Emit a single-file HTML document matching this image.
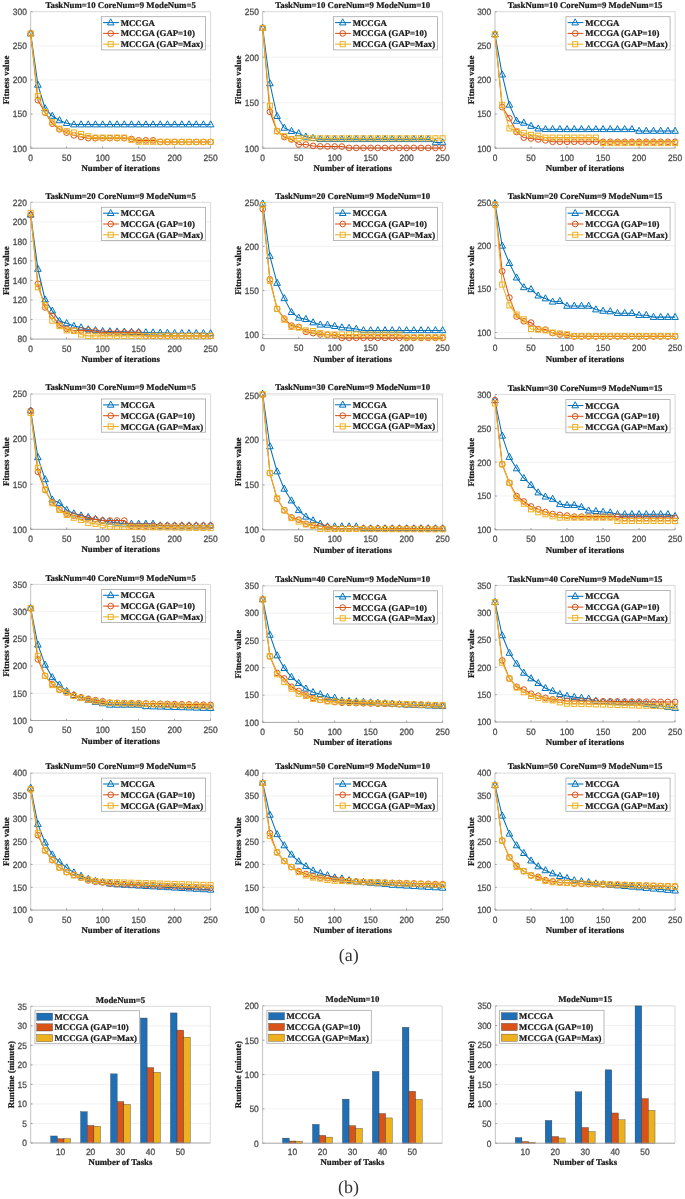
<!DOCTYPE html>
<html><head><meta charset="utf-8"><style>
html,body{margin:0;padding:0;background:#fff;width:685px;height:1199px;overflow:hidden}
svg{display:block;will-change:transform;filter:blur(0.35px)}
.tk{text-rendering:geometricPrecision;font-family:'Liberation Sans', sans-serif;font-size:9.2px;fill:#4d4d4d;stroke:#4d4d4d;stroke-width:0.3px}
.lb{text-rendering:geometricPrecision;font-family:'Liberation Serif', serif;font-weight:bold;font-size:8.8px;fill:#1a1a1a;stroke:#1a1a1a;stroke-width:0.22px}
.cap{text-rendering:geometricPrecision;font-family:'Liberation Serif', serif;font-size:18px;fill:#333}
</style></head><body>
<svg width="685" height="1199" viewBox="0 0 685 1199">
<rect width="685" height="1199" fill="#fff"/>
<line x1="30.7" y1="114.07" x2="210.6" y2="114.07" stroke="#eeeeee" stroke-width="0.8"/>
<line x1="30.7" y1="79.95" x2="210.6" y2="79.95" stroke="#eeeeee" stroke-width="0.8"/>
<line x1="30.7" y1="45.82" x2="210.6" y2="45.82" stroke="#eeeeee" stroke-width="0.8"/>
<path d="M30.7 11.7H210.6V148.2" fill="none" stroke="#cfcfcf" stroke-width="0.8"/>
<path d="M30.7 11.7V148.2" fill="none" stroke="#bcbcbc" stroke-width="0.9"/>
<path d="M30.7 148.2H210.6" fill="none" stroke="#9c9c9c" stroke-width="0.9"/>
<line x1="30.7" y1="148.2" x2="32.5" y2="148.2" stroke="#8a8a8a" stroke-width="0.8"/>
<text x="12.86" y="151.5" textLength="14.04" lengthAdjust="spacingAndGlyphs" class="tk">100</text>
<line x1="30.7" y1="114.07" x2="32.5" y2="114.07" stroke="#8a8a8a" stroke-width="0.8"/>
<text x="12.86" y="117.37" textLength="14.04" lengthAdjust="spacingAndGlyphs" class="tk">150</text>
<line x1="30.7" y1="79.95" x2="32.5" y2="79.95" stroke="#8a8a8a" stroke-width="0.8"/>
<text x="12.86" y="83.25" textLength="14.04" lengthAdjust="spacingAndGlyphs" class="tk">200</text>
<line x1="30.7" y1="45.82" x2="32.5" y2="45.82" stroke="#8a8a8a" stroke-width="0.8"/>
<text x="12.86" y="49.12" textLength="14.04" lengthAdjust="spacingAndGlyphs" class="tk">250</text>
<line x1="30.7" y1="11.7" x2="32.5" y2="11.7" stroke="#8a8a8a" stroke-width="0.8"/>
<text x="12.86" y="15" textLength="14.04" lengthAdjust="spacingAndGlyphs" class="tk">300</text>
<line x1="30.7" y1="148.2" x2="30.7" y2="146.4" stroke="#8a8a8a" stroke-width="0.8"/>
<text x="28.36" y="160.7" textLength="4.68" lengthAdjust="spacingAndGlyphs" class="tk">0</text>
<line x1="66.68" y1="148.2" x2="66.68" y2="146.4" stroke="#8a8a8a" stroke-width="0.8"/>
<text x="62" y="160.7" textLength="9.36" lengthAdjust="spacingAndGlyphs" class="tk">50</text>
<line x1="102.66" y1="148.2" x2="102.66" y2="146.4" stroke="#8a8a8a" stroke-width="0.8"/>
<text x="95.64" y="160.7" textLength="14.04" lengthAdjust="spacingAndGlyphs" class="tk">100</text>
<line x1="138.64" y1="148.2" x2="138.64" y2="146.4" stroke="#8a8a8a" stroke-width="0.8"/>
<text x="131.62" y="160.7" textLength="14.04" lengthAdjust="spacingAndGlyphs" class="tk">150</text>
<line x1="174.62" y1="148.2" x2="174.62" y2="146.4" stroke="#8a8a8a" stroke-width="0.8"/>
<text x="167.6" y="160.7" textLength="14.04" lengthAdjust="spacingAndGlyphs" class="tk">200</text>
<line x1="210.6" y1="148.2" x2="210.6" y2="146.4" stroke="#8a8a8a" stroke-width="0.8"/>
<text x="203.58" y="160.7" textLength="14.04" lengthAdjust="spacingAndGlyphs" class="tk">250</text>
<polyline points="30.7,33.54 37.9,84.93 45.09,108.48 52.29,115.99 59.48,120.42 66.68,123.22 73.88,124.59 81.07,124.59 88.27,124.59 95.46,124.59 102.66,124.59 109.86,124.59 117.05,124.59 124.25,124.59 131.44,124.59 138.64,124.59 145.84,124.59 153.03,124.59 160.23,124.59 167.42,124.59 174.62,124.59 181.82,124.59 189.01,124.59 196.21,124.59 203.4,124.59 210.6,124.59" fill="none" stroke="#0072BD" stroke-width="1.05"/>
<path d="M30.7 29.77L34 35.85L27.4 35.85Z" fill="none" stroke="#0072BD" stroke-width="1"/>
<path d="M37.9 81.16L41.2 87.24L34.59 87.24Z" fill="none" stroke="#0072BD" stroke-width="1"/>
<path d="M45.09 104.71L48.4 110.79L41.79 110.79Z" fill="none" stroke="#0072BD" stroke-width="1"/>
<path d="M52.29 112.22L55.59 118.3L48.98 118.3Z" fill="none" stroke="#0072BD" stroke-width="1"/>
<path d="M59.48 116.65L62.79 122.73L56.18 122.73Z" fill="none" stroke="#0072BD" stroke-width="1"/>
<path d="M66.68 119.45L69.98 125.53L63.38 125.53Z" fill="none" stroke="#0072BD" stroke-width="1"/>
<path d="M73.88 120.82L77.18 126.9L70.57 126.9Z" fill="none" stroke="#0072BD" stroke-width="1"/>
<path d="M81.07 120.82L84.38 126.9L77.77 126.9Z" fill="none" stroke="#0072BD" stroke-width="1"/>
<path d="M88.27 120.82L91.57 126.9L84.96 126.9Z" fill="none" stroke="#0072BD" stroke-width="1"/>
<path d="M95.46 120.82L98.77 126.9L92.16 126.9Z" fill="none" stroke="#0072BD" stroke-width="1"/>
<path d="M102.66 120.82L105.96 126.9L99.36 126.9Z" fill="none" stroke="#0072BD" stroke-width="1"/>
<path d="M109.86 120.82L113.16 126.9L106.55 126.9Z" fill="none" stroke="#0072BD" stroke-width="1"/>
<path d="M117.05 120.82L120.36 126.9L113.75 126.9Z" fill="none" stroke="#0072BD" stroke-width="1"/>
<path d="M124.25 120.82L127.55 126.9L120.94 126.9Z" fill="none" stroke="#0072BD" stroke-width="1"/>
<path d="M131.44 120.82L134.75 126.9L128.14 126.9Z" fill="none" stroke="#0072BD" stroke-width="1"/>
<path d="M138.64 120.82L141.94 126.9L135.34 126.9Z" fill="none" stroke="#0072BD" stroke-width="1"/>
<path d="M145.84 120.82L149.14 126.9L142.53 126.9Z" fill="none" stroke="#0072BD" stroke-width="1"/>
<path d="M153.03 120.82L156.34 126.9L149.73 126.9Z" fill="none" stroke="#0072BD" stroke-width="1"/>
<path d="M160.23 120.82L163.53 126.9L156.92 126.9Z" fill="none" stroke="#0072BD" stroke-width="1"/>
<path d="M167.42 120.82L170.73 126.9L164.12 126.9Z" fill="none" stroke="#0072BD" stroke-width="1"/>
<path d="M174.62 120.82L177.92 126.9L171.32 126.9Z" fill="none" stroke="#0072BD" stroke-width="1"/>
<path d="M181.82 120.82L185.12 126.9L178.51 126.9Z" fill="none" stroke="#0072BD" stroke-width="1"/>
<path d="M189.01 120.82L192.32 126.9L185.71 126.9Z" fill="none" stroke="#0072BD" stroke-width="1"/>
<path d="M196.21 120.82L199.51 126.9L192.9 126.9Z" fill="none" stroke="#0072BD" stroke-width="1"/>
<path d="M203.4 120.82L206.71 126.9L200.1 126.9Z" fill="none" stroke="#0072BD" stroke-width="1"/>
<path d="M210.6 120.82L213.9 126.9L207.3 126.9Z" fill="none" stroke="#0072BD" stroke-width="1"/>
<polyline points="30.7,33.54 37.9,100.22 45.09,112.57 52.29,123.7 59.48,129.29 66.68,132.64 73.88,135.37 81.07,137.01 88.27,138.17 95.46,138.17 102.66,138.17 109.86,138.17 117.05,138.17 124.25,138.17 131.44,138.99 138.64,140.35 145.84,140.35 153.03,140.35 160.23,141.99 167.42,141.99 174.62,141.99 181.82,141.99 189.01,141.99 196.21,141.99 203.4,141.99 210.6,141.99" fill="none" stroke="#D95319" stroke-width="1.05"/>
<circle cx="30.7" cy="33.54" r="2.85" fill="none" stroke="#D95319" stroke-width="1"/>
<circle cx="37.9" cy="100.22" r="2.85" fill="none" stroke="#D95319" stroke-width="1"/>
<circle cx="45.09" cy="112.57" r="2.85" fill="none" stroke="#D95319" stroke-width="1"/>
<circle cx="52.29" cy="123.7" r="2.85" fill="none" stroke="#D95319" stroke-width="1"/>
<circle cx="59.48" cy="129.29" r="2.85" fill="none" stroke="#D95319" stroke-width="1"/>
<circle cx="66.68" cy="132.64" r="2.85" fill="none" stroke="#D95319" stroke-width="1"/>
<circle cx="73.88" cy="135.37" r="2.85" fill="none" stroke="#D95319" stroke-width="1"/>
<circle cx="81.07" cy="137.01" r="2.85" fill="none" stroke="#D95319" stroke-width="1"/>
<circle cx="88.27" cy="138.17" r="2.85" fill="none" stroke="#D95319" stroke-width="1"/>
<circle cx="95.46" cy="138.17" r="2.85" fill="none" stroke="#D95319" stroke-width="1"/>
<circle cx="102.66" cy="138.17" r="2.85" fill="none" stroke="#D95319" stroke-width="1"/>
<circle cx="109.86" cy="138.17" r="2.85" fill="none" stroke="#D95319" stroke-width="1"/>
<circle cx="117.05" cy="138.17" r="2.85" fill="none" stroke="#D95319" stroke-width="1"/>
<circle cx="124.25" cy="138.17" r="2.85" fill="none" stroke="#D95319" stroke-width="1"/>
<circle cx="131.44" cy="138.99" r="2.85" fill="none" stroke="#D95319" stroke-width="1"/>
<circle cx="138.64" cy="140.35" r="2.85" fill="none" stroke="#D95319" stroke-width="1"/>
<circle cx="145.84" cy="140.35" r="2.85" fill="none" stroke="#D95319" stroke-width="1"/>
<circle cx="153.03" cy="140.35" r="2.85" fill="none" stroke="#D95319" stroke-width="1"/>
<circle cx="160.23" cy="141.99" r="2.85" fill="none" stroke="#D95319" stroke-width="1"/>
<circle cx="167.42" cy="141.99" r="2.85" fill="none" stroke="#D95319" stroke-width="1"/>
<circle cx="174.62" cy="141.99" r="2.85" fill="none" stroke="#D95319" stroke-width="1"/>
<circle cx="181.82" cy="141.99" r="2.85" fill="none" stroke="#D95319" stroke-width="1"/>
<circle cx="189.01" cy="141.99" r="2.85" fill="none" stroke="#D95319" stroke-width="1"/>
<circle cx="196.21" cy="141.99" r="2.85" fill="none" stroke="#D95319" stroke-width="1"/>
<circle cx="203.4" cy="141.99" r="2.85" fill="none" stroke="#D95319" stroke-width="1"/>
<circle cx="210.6" cy="141.99" r="2.85" fill="none" stroke="#D95319" stroke-width="1"/>
<polyline points="30.7,33.54 37.9,95.99 45.09,112.1 52.29,122.26 59.48,128.68 66.68,131.21 73.88,132.57 81.07,134 88.27,136.19 95.46,137.62 102.66,137.62 109.86,137.62 117.05,137.62 124.25,137.62 131.44,139.81 138.64,141.72 145.84,141.74 153.03,141.77 160.23,141.8 167.42,141.83 174.62,141.85 181.82,141.88 189.01,141.91 196.21,141.93 203.4,141.96 210.6,141.99" fill="none" stroke="#EDB120" stroke-width="1.05"/>
<rect x="28.16" y="31" width="5.07" height="5.07" fill="none" stroke="#EDB120" stroke-width="1"/>
<rect x="35.36" y="93.45" width="5.07" height="5.07" fill="none" stroke="#EDB120" stroke-width="1"/>
<rect x="42.55" y="109.56" width="5.07" height="5.07" fill="none" stroke="#EDB120" stroke-width="1"/>
<rect x="49.75" y="119.73" width="5.07" height="5.07" fill="none" stroke="#EDB120" stroke-width="1"/>
<rect x="56.95" y="126.14" width="5.07" height="5.07" fill="none" stroke="#EDB120" stroke-width="1"/>
<rect x="64.14" y="128.67" width="5.07" height="5.07" fill="none" stroke="#EDB120" stroke-width="1"/>
<rect x="71.34" y="130.03" width="5.07" height="5.07" fill="none" stroke="#EDB120" stroke-width="1"/>
<rect x="78.53" y="131.47" width="5.07" height="5.07" fill="none" stroke="#EDB120" stroke-width="1"/>
<rect x="85.73" y="133.65" width="5.07" height="5.07" fill="none" stroke="#EDB120" stroke-width="1"/>
<rect x="92.93" y="135.08" width="5.07" height="5.07" fill="none" stroke="#EDB120" stroke-width="1"/>
<rect x="100.12" y="135.08" width="5.07" height="5.07" fill="none" stroke="#EDB120" stroke-width="1"/>
<rect x="107.32" y="135.08" width="5.07" height="5.07" fill="none" stroke="#EDB120" stroke-width="1"/>
<rect x="114.52" y="135.08" width="5.07" height="5.07" fill="none" stroke="#EDB120" stroke-width="1"/>
<rect x="121.71" y="135.08" width="5.07" height="5.07" fill="none" stroke="#EDB120" stroke-width="1"/>
<rect x="128.91" y="137.27" width="5.07" height="5.07" fill="none" stroke="#EDB120" stroke-width="1"/>
<rect x="136.1" y="139.18" width="5.07" height="5.07" fill="none" stroke="#EDB120" stroke-width="1"/>
<rect x="143.3" y="139.21" width="5.07" height="5.07" fill="none" stroke="#EDB120" stroke-width="1"/>
<rect x="150.5" y="139.23" width="5.07" height="5.07" fill="none" stroke="#EDB120" stroke-width="1"/>
<rect x="157.69" y="139.26" width="5.07" height="5.07" fill="none" stroke="#EDB120" stroke-width="1"/>
<rect x="164.89" y="139.29" width="5.07" height="5.07" fill="none" stroke="#EDB120" stroke-width="1"/>
<rect x="172.08" y="139.32" width="5.07" height="5.07" fill="none" stroke="#EDB120" stroke-width="1"/>
<rect x="179.28" y="139.34" width="5.07" height="5.07" fill="none" stroke="#EDB120" stroke-width="1"/>
<rect x="186.47" y="139.37" width="5.07" height="5.07" fill="none" stroke="#EDB120" stroke-width="1"/>
<rect x="193.67" y="139.4" width="5.07" height="5.07" fill="none" stroke="#EDB120" stroke-width="1"/>
<rect x="200.87" y="139.42" width="5.07" height="5.07" fill="none" stroke="#EDB120" stroke-width="1"/>
<rect x="208.06" y="139.45" width="5.07" height="5.07" fill="none" stroke="#EDB120" stroke-width="1"/>
<text x="120.65" y="7.9" text-anchor="middle" class="lb">TaskNum=10 CoreNum=9 ModeNum=5</text>
<text x="120.65" y="171.2" text-anchor="middle" class="lb">Number of iterations</text>
<text transform="translate(9.3,79.95) rotate(-90)" text-anchor="middle" class="lb">Fitness value</text>
<rect x="101.4" y="16.7" width="104.2" height="33.2" fill="#fff" stroke="#a8a8a8" stroke-width="0.8"/>
<line x1="103.1" y1="22.6" x2="118.9" y2="22.6" stroke="#0072BD" stroke-width="1.05"/>
<path d="M110.7 18.83L114 24.91L107.4 24.91Z" fill="none" stroke="#0072BD" stroke-width="1"/>
<text x="120.7" y="25.6" class="lb">MCCGA</text>
<line x1="103.1" y1="33.4" x2="118.9" y2="33.4" stroke="#D95319" stroke-width="1.05"/>
<circle cx="110.7" cy="33.4" r="2.85" fill="none" stroke="#D95319" stroke-width="1"/>
<text x="120.7" y="36.4" class="lb">MCCGA (GAP=10)</text>
<line x1="103.1" y1="44.2" x2="118.9" y2="44.2" stroke="#EDB120" stroke-width="1.05"/>
<rect x="108.16" y="41.66" width="5.07" height="5.07" fill="none" stroke="#EDB120" stroke-width="1"/>
<text x="120.7" y="47.2" class="lb">MCCGA (GAP=Max)</text>
<line x1="262.7" y1="102.7" x2="442.6" y2="102.7" stroke="#eeeeee" stroke-width="0.8"/>
<line x1="262.7" y1="57.2" x2="442.6" y2="57.2" stroke="#eeeeee" stroke-width="0.8"/>
<path d="M262.7 11.7H442.6V148.2" fill="none" stroke="#cfcfcf" stroke-width="0.8"/>
<path d="M262.7 11.7V148.2" fill="none" stroke="#bcbcbc" stroke-width="0.9"/>
<path d="M262.7 148.2H442.6" fill="none" stroke="#9c9c9c" stroke-width="0.9"/>
<line x1="262.7" y1="148.2" x2="264.5" y2="148.2" stroke="#8a8a8a" stroke-width="0.8"/>
<text x="244.86" y="151.5" textLength="14.04" lengthAdjust="spacingAndGlyphs" class="tk">100</text>
<line x1="262.7" y1="102.7" x2="264.5" y2="102.7" stroke="#8a8a8a" stroke-width="0.8"/>
<text x="244.86" y="106" textLength="14.04" lengthAdjust="spacingAndGlyphs" class="tk">150</text>
<line x1="262.7" y1="57.2" x2="264.5" y2="57.2" stroke="#8a8a8a" stroke-width="0.8"/>
<text x="244.86" y="60.5" textLength="14.04" lengthAdjust="spacingAndGlyphs" class="tk">200</text>
<line x1="262.7" y1="11.7" x2="264.5" y2="11.7" stroke="#8a8a8a" stroke-width="0.8"/>
<text x="244.86" y="15" textLength="14.04" lengthAdjust="spacingAndGlyphs" class="tk">250</text>
<line x1="262.7" y1="148.2" x2="262.7" y2="146.4" stroke="#8a8a8a" stroke-width="0.8"/>
<text x="260.36" y="160.7" textLength="4.68" lengthAdjust="spacingAndGlyphs" class="tk">0</text>
<line x1="298.68" y1="148.2" x2="298.68" y2="146.4" stroke="#8a8a8a" stroke-width="0.8"/>
<text x="294" y="160.7" textLength="9.36" lengthAdjust="spacingAndGlyphs" class="tk">50</text>
<line x1="334.66" y1="148.2" x2="334.66" y2="146.4" stroke="#8a8a8a" stroke-width="0.8"/>
<text x="327.64" y="160.7" textLength="14.04" lengthAdjust="spacingAndGlyphs" class="tk">100</text>
<line x1="370.64" y1="148.2" x2="370.64" y2="146.4" stroke="#8a8a8a" stroke-width="0.8"/>
<text x="363.62" y="160.7" textLength="14.04" lengthAdjust="spacingAndGlyphs" class="tk">150</text>
<line x1="406.62" y1="148.2" x2="406.62" y2="146.4" stroke="#8a8a8a" stroke-width="0.8"/>
<text x="399.6" y="160.7" textLength="14.04" lengthAdjust="spacingAndGlyphs" class="tk">200</text>
<line x1="442.6" y1="148.2" x2="442.6" y2="146.4" stroke="#8a8a8a" stroke-width="0.8"/>
<text x="435.58" y="160.7" textLength="14.04" lengthAdjust="spacingAndGlyphs" class="tk">250</text>
<polyline points="262.7,27.99 269.9,83.5 277.09,116.17 284.29,127.91 291.48,131.18 298.68,133.37 305.88,136.82 313.07,138.19 320.27,139.28 327.46,139.28 334.66,139.28 341.86,139.28 349.05,139.28 356.25,139.28 363.44,139.28 370.64,139.28 377.84,139.28 385.03,139.28 392.23,139.28 399.42,139.28 406.62,139.28 413.82,139.28 421.01,139.28 428.21,139.28 435.4,142.56 442.6,142.56" fill="none" stroke="#0072BD" stroke-width="1.05"/>
<path d="M262.7 24.22L266 30.3L259.4 30.3Z" fill="none" stroke="#0072BD" stroke-width="1"/>
<path d="M269.9 79.73L273.2 85.81L266.59 85.81Z" fill="none" stroke="#0072BD" stroke-width="1"/>
<path d="M277.09 112.4L280.4 118.48L273.79 118.48Z" fill="none" stroke="#0072BD" stroke-width="1"/>
<path d="M284.29 124.14L287.59 130.22L280.98 130.22Z" fill="none" stroke="#0072BD" stroke-width="1"/>
<path d="M291.48 127.41L294.79 133.49L288.18 133.49Z" fill="none" stroke="#0072BD" stroke-width="1"/>
<path d="M298.68 129.6L301.98 135.68L295.38 135.68Z" fill="none" stroke="#0072BD" stroke-width="1"/>
<path d="M305.88 133.06L309.18 139.14L302.57 139.14Z" fill="none" stroke="#0072BD" stroke-width="1"/>
<path d="M313.07 134.42L316.38 140.5L309.77 140.5Z" fill="none" stroke="#0072BD" stroke-width="1"/>
<path d="M320.27 135.51L323.57 141.59L316.96 141.59Z" fill="none" stroke="#0072BD" stroke-width="1"/>
<path d="M327.46 135.51L330.77 141.59L324.16 141.59Z" fill="none" stroke="#0072BD" stroke-width="1"/>
<path d="M334.66 135.51L337.96 141.59L331.36 141.59Z" fill="none" stroke="#0072BD" stroke-width="1"/>
<path d="M341.86 135.51L345.16 141.59L338.55 141.59Z" fill="none" stroke="#0072BD" stroke-width="1"/>
<path d="M349.05 135.51L352.36 141.59L345.75 141.59Z" fill="none" stroke="#0072BD" stroke-width="1"/>
<path d="M356.25 135.51L359.55 141.59L352.94 141.59Z" fill="none" stroke="#0072BD" stroke-width="1"/>
<path d="M363.44 135.51L366.75 141.59L360.14 141.59Z" fill="none" stroke="#0072BD" stroke-width="1"/>
<path d="M370.64 135.51L373.94 141.59L367.34 141.59Z" fill="none" stroke="#0072BD" stroke-width="1"/>
<path d="M377.84 135.51L381.14 141.59L374.53 141.59Z" fill="none" stroke="#0072BD" stroke-width="1"/>
<path d="M385.03 135.51L388.34 141.59L381.73 141.59Z" fill="none" stroke="#0072BD" stroke-width="1"/>
<path d="M392.23 135.51L395.53 141.59L388.92 141.59Z" fill="none" stroke="#0072BD" stroke-width="1"/>
<path d="M399.42 135.51L402.73 141.59L396.12 141.59Z" fill="none" stroke="#0072BD" stroke-width="1"/>
<path d="M406.62 135.51L409.92 141.59L403.32 141.59Z" fill="none" stroke="#0072BD" stroke-width="1"/>
<path d="M413.82 135.51L417.12 141.59L410.51 141.59Z" fill="none" stroke="#0072BD" stroke-width="1"/>
<path d="M421.01 135.51L424.32 141.59L417.71 141.59Z" fill="none" stroke="#0072BD" stroke-width="1"/>
<path d="M428.21 135.51L431.51 141.59L424.9 141.59Z" fill="none" stroke="#0072BD" stroke-width="1"/>
<path d="M435.4 138.79L438.71 144.87L432.1 144.87Z" fill="none" stroke="#0072BD" stroke-width="1"/>
<path d="M442.6 138.79L445.9 144.87L439.3 144.87Z" fill="none" stroke="#0072BD" stroke-width="1"/>
<polyline points="262.7,27.99 269.9,111.8 277.09,131.18 284.29,137.01 291.48,139.46 298.68,144.56 305.88,144.56 313.07,145.92 320.27,146.38 327.46,146.44 334.66,146.5 341.86,146.56 349.05,147.93 356.25,147.93 363.44,147.93 370.64,147.93 377.84,147.93 385.03,147.93 392.23,147.93 399.42,147.93 406.62,147.93 413.82,147.93 421.01,147.93 428.21,147.93 435.4,147.93 442.6,147.93" fill="none" stroke="#D95319" stroke-width="1.05"/>
<circle cx="262.7" cy="27.99" r="2.85" fill="none" stroke="#D95319" stroke-width="1"/>
<circle cx="269.9" cy="111.8" r="2.85" fill="none" stroke="#D95319" stroke-width="1"/>
<circle cx="277.09" cy="131.18" r="2.85" fill="none" stroke="#D95319" stroke-width="1"/>
<circle cx="284.29" cy="137.01" r="2.85" fill="none" stroke="#D95319" stroke-width="1"/>
<circle cx="291.48" cy="139.46" r="2.85" fill="none" stroke="#D95319" stroke-width="1"/>
<circle cx="298.68" cy="144.56" r="2.85" fill="none" stroke="#D95319" stroke-width="1"/>
<circle cx="305.88" cy="144.56" r="2.85" fill="none" stroke="#D95319" stroke-width="1"/>
<circle cx="313.07" cy="145.92" r="2.85" fill="none" stroke="#D95319" stroke-width="1"/>
<circle cx="320.27" cy="146.38" r="2.85" fill="none" stroke="#D95319" stroke-width="1"/>
<circle cx="327.46" cy="146.44" r="2.85" fill="none" stroke="#D95319" stroke-width="1"/>
<circle cx="334.66" cy="146.5" r="2.85" fill="none" stroke="#D95319" stroke-width="1"/>
<circle cx="341.86" cy="146.56" r="2.85" fill="none" stroke="#D95319" stroke-width="1"/>
<circle cx="349.05" cy="147.93" r="2.85" fill="none" stroke="#D95319" stroke-width="1"/>
<circle cx="356.25" cy="147.93" r="2.85" fill="none" stroke="#D95319" stroke-width="1"/>
<circle cx="363.44" cy="147.93" r="2.85" fill="none" stroke="#D95319" stroke-width="1"/>
<circle cx="370.64" cy="147.93" r="2.85" fill="none" stroke="#D95319" stroke-width="1"/>
<circle cx="377.84" cy="147.93" r="2.85" fill="none" stroke="#D95319" stroke-width="1"/>
<circle cx="385.03" cy="147.93" r="2.85" fill="none" stroke="#D95319" stroke-width="1"/>
<circle cx="392.23" cy="147.93" r="2.85" fill="none" stroke="#D95319" stroke-width="1"/>
<circle cx="399.42" cy="147.93" r="2.85" fill="none" stroke="#D95319" stroke-width="1"/>
<circle cx="406.62" cy="147.93" r="2.85" fill="none" stroke="#D95319" stroke-width="1"/>
<circle cx="413.82" cy="147.93" r="2.85" fill="none" stroke="#D95319" stroke-width="1"/>
<circle cx="421.01" cy="147.93" r="2.85" fill="none" stroke="#D95319" stroke-width="1"/>
<circle cx="428.21" cy="147.93" r="2.85" fill="none" stroke="#D95319" stroke-width="1"/>
<circle cx="435.4" cy="147.93" r="2.85" fill="none" stroke="#D95319" stroke-width="1"/>
<circle cx="442.6" cy="147.93" r="2.85" fill="none" stroke="#D95319" stroke-width="1"/>
<polyline points="262.7,27.99 269.9,105.7 277.09,131.18 284.29,136.19 291.48,138.92 298.68,138.37 305.88,138.28 313.07,138.28 320.27,138.28 327.46,138.28 334.66,138.28 341.86,138.28 349.05,138.28 356.25,138.28 363.44,138.28 370.64,138.28 377.84,138.28 385.03,138.28 392.23,138.28 399.42,138.28 406.62,138.28 413.82,138.28 421.01,138.28 428.21,138.28 435.4,138.28 442.6,138.28" fill="none" stroke="#EDB120" stroke-width="1.05"/>
<rect x="260.16" y="25.45" width="5.07" height="5.07" fill="none" stroke="#EDB120" stroke-width="1"/>
<rect x="267.36" y="103.17" width="5.07" height="5.07" fill="none" stroke="#EDB120" stroke-width="1"/>
<rect x="274.56" y="128.65" width="5.07" height="5.07" fill="none" stroke="#EDB120" stroke-width="1"/>
<rect x="281.75" y="133.65" width="5.07" height="5.07" fill="none" stroke="#EDB120" stroke-width="1"/>
<rect x="288.95" y="136.38" width="5.07" height="5.07" fill="none" stroke="#EDB120" stroke-width="1"/>
<rect x="296.14" y="135.83" width="5.07" height="5.07" fill="none" stroke="#EDB120" stroke-width="1"/>
<rect x="303.34" y="135.74" width="5.07" height="5.07" fill="none" stroke="#EDB120" stroke-width="1"/>
<rect x="310.54" y="135.74" width="5.07" height="5.07" fill="none" stroke="#EDB120" stroke-width="1"/>
<rect x="317.73" y="135.74" width="5.07" height="5.07" fill="none" stroke="#EDB120" stroke-width="1"/>
<rect x="324.93" y="135.74" width="5.07" height="5.07" fill="none" stroke="#EDB120" stroke-width="1"/>
<rect x="332.12" y="135.74" width="5.07" height="5.07" fill="none" stroke="#EDB120" stroke-width="1"/>
<rect x="339.32" y="135.74" width="5.07" height="5.07" fill="none" stroke="#EDB120" stroke-width="1"/>
<rect x="346.52" y="135.74" width="5.07" height="5.07" fill="none" stroke="#EDB120" stroke-width="1"/>
<rect x="353.71" y="135.74" width="5.07" height="5.07" fill="none" stroke="#EDB120" stroke-width="1"/>
<rect x="360.91" y="135.74" width="5.07" height="5.07" fill="none" stroke="#EDB120" stroke-width="1"/>
<rect x="368.1" y="135.74" width="5.07" height="5.07" fill="none" stroke="#EDB120" stroke-width="1"/>
<rect x="375.3" y="135.74" width="5.07" height="5.07" fill="none" stroke="#EDB120" stroke-width="1"/>
<rect x="382.5" y="135.74" width="5.07" height="5.07" fill="none" stroke="#EDB120" stroke-width="1"/>
<rect x="389.69" y="135.74" width="5.07" height="5.07" fill="none" stroke="#EDB120" stroke-width="1"/>
<rect x="396.89" y="135.74" width="5.07" height="5.07" fill="none" stroke="#EDB120" stroke-width="1"/>
<rect x="404.08" y="135.74" width="5.07" height="5.07" fill="none" stroke="#EDB120" stroke-width="1"/>
<rect x="411.28" y="135.74" width="5.07" height="5.07" fill="none" stroke="#EDB120" stroke-width="1"/>
<rect x="418.48" y="135.74" width="5.07" height="5.07" fill="none" stroke="#EDB120" stroke-width="1"/>
<rect x="425.67" y="135.74" width="5.07" height="5.07" fill="none" stroke="#EDB120" stroke-width="1"/>
<rect x="432.87" y="135.74" width="5.07" height="5.07" fill="none" stroke="#EDB120" stroke-width="1"/>
<rect x="440.06" y="135.74" width="5.07" height="5.07" fill="none" stroke="#EDB120" stroke-width="1"/>
<text x="352.65" y="7.9" text-anchor="middle" class="lb">TaskNum=10 CoreNum=9 ModeNum=10</text>
<text x="352.65" y="171.2" text-anchor="middle" class="lb">Number of iterations</text>
<text transform="translate(241.3,79.95) rotate(-90)" text-anchor="middle" class="lb">Fitness value</text>
<rect x="333.4" y="16.7" width="104.2" height="33.2" fill="#fff" stroke="#a8a8a8" stroke-width="0.8"/>
<line x1="335.1" y1="22.6" x2="350.9" y2="22.6" stroke="#0072BD" stroke-width="1.05"/>
<path d="M342.7 18.83L346 24.91L339.4 24.91Z" fill="none" stroke="#0072BD" stroke-width="1"/>
<text x="352.7" y="25.6" class="lb">MCCGA</text>
<line x1="335.1" y1="33.4" x2="350.9" y2="33.4" stroke="#D95319" stroke-width="1.05"/>
<circle cx="342.7" cy="33.4" r="2.85" fill="none" stroke="#D95319" stroke-width="1"/>
<text x="352.7" y="36.4" class="lb">MCCGA (GAP=10)</text>
<line x1="335.1" y1="44.2" x2="350.9" y2="44.2" stroke="#EDB120" stroke-width="1.05"/>
<rect x="340.16" y="41.66" width="5.07" height="5.07" fill="none" stroke="#EDB120" stroke-width="1"/>
<text x="352.7" y="47.2" class="lb">MCCGA (GAP=Max)</text>
<line x1="495" y1="114.07" x2="675.1" y2="114.07" stroke="#eeeeee" stroke-width="0.8"/>
<line x1="495" y1="79.95" x2="675.1" y2="79.95" stroke="#eeeeee" stroke-width="0.8"/>
<line x1="495" y1="45.82" x2="675.1" y2="45.82" stroke="#eeeeee" stroke-width="0.8"/>
<path d="M495 11.7H675.1V148.2" fill="none" stroke="#cfcfcf" stroke-width="0.8"/>
<path d="M495 11.7V148.2" fill="none" stroke="#bcbcbc" stroke-width="0.9"/>
<path d="M495 148.2H675.1" fill="none" stroke="#9c9c9c" stroke-width="0.9"/>
<line x1="495" y1="148.2" x2="496.8" y2="148.2" stroke="#8a8a8a" stroke-width="0.8"/>
<text x="477.16" y="151.5" textLength="14.04" lengthAdjust="spacingAndGlyphs" class="tk">100</text>
<line x1="495" y1="114.07" x2="496.8" y2="114.07" stroke="#8a8a8a" stroke-width="0.8"/>
<text x="477.16" y="117.37" textLength="14.04" lengthAdjust="spacingAndGlyphs" class="tk">150</text>
<line x1="495" y1="79.95" x2="496.8" y2="79.95" stroke="#8a8a8a" stroke-width="0.8"/>
<text x="477.16" y="83.25" textLength="14.04" lengthAdjust="spacingAndGlyphs" class="tk">200</text>
<line x1="495" y1="45.82" x2="496.8" y2="45.82" stroke="#8a8a8a" stroke-width="0.8"/>
<text x="477.16" y="49.12" textLength="14.04" lengthAdjust="spacingAndGlyphs" class="tk">250</text>
<line x1="495" y1="11.7" x2="496.8" y2="11.7" stroke="#8a8a8a" stroke-width="0.8"/>
<text x="477.16" y="15" textLength="14.04" lengthAdjust="spacingAndGlyphs" class="tk">300</text>
<line x1="495" y1="148.2" x2="495" y2="146.4" stroke="#8a8a8a" stroke-width="0.8"/>
<text x="492.66" y="160.7" textLength="4.68" lengthAdjust="spacingAndGlyphs" class="tk">0</text>
<line x1="531.02" y1="148.2" x2="531.02" y2="146.4" stroke="#8a8a8a" stroke-width="0.8"/>
<text x="526.34" y="160.7" textLength="9.36" lengthAdjust="spacingAndGlyphs" class="tk">50</text>
<line x1="567.04" y1="148.2" x2="567.04" y2="146.4" stroke="#8a8a8a" stroke-width="0.8"/>
<text x="560.02" y="160.7" textLength="14.04" lengthAdjust="spacingAndGlyphs" class="tk">100</text>
<line x1="603.06" y1="148.2" x2="603.06" y2="146.4" stroke="#8a8a8a" stroke-width="0.8"/>
<text x="596.04" y="160.7" textLength="14.04" lengthAdjust="spacingAndGlyphs" class="tk">150</text>
<line x1="639.08" y1="148.2" x2="639.08" y2="146.4" stroke="#8a8a8a" stroke-width="0.8"/>
<text x="632.06" y="160.7" textLength="14.04" lengthAdjust="spacingAndGlyphs" class="tk">200</text>
<line x1="675.1" y1="148.2" x2="675.1" y2="146.4" stroke="#8a8a8a" stroke-width="0.8"/>
<text x="668.08" y="160.7" textLength="14.04" lengthAdjust="spacingAndGlyphs" class="tk">250</text>
<polyline points="495,34.43 502.2,74.63 509.41,104.86 516.61,120.97 523.82,122.88 531.02,126.02 538.22,128.68 545.43,129.29 552.63,129.29 559.84,129.29 567.04,129.29 574.24,129.29 581.45,129.29 588.65,129.29 595.86,129.29 603.06,129.29 610.26,129.29 617.47,129.29 624.67,129.29 631.88,129.29 639.08,131 646.28,131 653.49,131 660.69,131 667.9,131 675.1,131" fill="none" stroke="#0072BD" stroke-width="1.05"/>
<path d="M495 30.66L498.3 36.74L491.7 36.74Z" fill="none" stroke="#0072BD" stroke-width="1"/>
<path d="M502.2 70.86L505.51 76.94L498.9 76.94Z" fill="none" stroke="#0072BD" stroke-width="1"/>
<path d="M509.41 101.09L512.71 107.17L506.1 107.17Z" fill="none" stroke="#0072BD" stroke-width="1"/>
<path d="M516.61 117.2L519.92 123.28L513.31 123.28Z" fill="none" stroke="#0072BD" stroke-width="1"/>
<path d="M523.82 119.11L527.12 125.19L520.51 125.19Z" fill="none" stroke="#0072BD" stroke-width="1"/>
<path d="M531.02 122.25L534.32 128.33L527.72 128.33Z" fill="none" stroke="#0072BD" stroke-width="1"/>
<path d="M538.22 124.91L541.53 130.99L534.92 130.99Z" fill="none" stroke="#0072BD" stroke-width="1"/>
<path d="M545.43 125.53L548.73 131.6L542.12 131.6Z" fill="none" stroke="#0072BD" stroke-width="1"/>
<path d="M552.63 125.53L555.94 131.6L549.33 131.6Z" fill="none" stroke="#0072BD" stroke-width="1"/>
<path d="M559.84 125.53L563.14 131.6L556.53 131.6Z" fill="none" stroke="#0072BD" stroke-width="1"/>
<path d="M567.04 125.53L570.34 131.6L563.74 131.6Z" fill="none" stroke="#0072BD" stroke-width="1"/>
<path d="M574.24 125.53L577.55 131.6L570.94 131.6Z" fill="none" stroke="#0072BD" stroke-width="1"/>
<path d="M581.45 125.53L584.75 131.6L578.14 131.6Z" fill="none" stroke="#0072BD" stroke-width="1"/>
<path d="M588.65 125.53L591.96 131.6L585.35 131.6Z" fill="none" stroke="#0072BD" stroke-width="1"/>
<path d="M595.86 125.53L599.16 131.6L592.55 131.6Z" fill="none" stroke="#0072BD" stroke-width="1"/>
<path d="M603.06 125.53L606.36 131.6L599.76 131.6Z" fill="none" stroke="#0072BD" stroke-width="1"/>
<path d="M610.26 125.53L613.57 131.6L606.96 131.6Z" fill="none" stroke="#0072BD" stroke-width="1"/>
<path d="M617.47 125.53L620.77 131.6L614.16 131.6Z" fill="none" stroke="#0072BD" stroke-width="1"/>
<path d="M624.67 125.53L627.98 131.6L621.37 131.6Z" fill="none" stroke="#0072BD" stroke-width="1"/>
<path d="M631.88 125.53L635.18 131.6L628.57 131.6Z" fill="none" stroke="#0072BD" stroke-width="1"/>
<path d="M639.08 127.23L642.38 133.31L635.78 133.31Z" fill="none" stroke="#0072BD" stroke-width="1"/>
<path d="M646.28 127.23L649.59 133.31L642.98 133.31Z" fill="none" stroke="#0072BD" stroke-width="1"/>
<path d="M653.49 127.23L656.79 133.31L650.18 133.31Z" fill="none" stroke="#0072BD" stroke-width="1"/>
<path d="M660.69 127.23L664 133.31L657.39 133.31Z" fill="none" stroke="#0072BD" stroke-width="1"/>
<path d="M667.9 127.23L671.2 133.31L664.59 133.31Z" fill="none" stroke="#0072BD" stroke-width="1"/>
<path d="M675.1 127.23L678.4 133.31L671.8 133.31Z" fill="none" stroke="#0072BD" stroke-width="1"/>
<polyline points="495,34.43 502.2,107.11 509.41,118.17 516.61,132.02 523.82,137.62 531.02,138.44 538.22,139.46 545.43,140.35 552.63,141.78 559.84,141.78 567.04,141.78 574.24,141.78 581.45,141.78 588.65,141.78 595.86,141.78 603.06,141.78 610.26,141.78 617.47,141.78 624.67,141.78 631.88,141.78 639.08,141.78 646.28,141.78 653.49,141.78 660.69,141.78 667.9,141.78 675.1,141.78" fill="none" stroke="#D95319" stroke-width="1.05"/>
<circle cx="495" cy="34.43" r="2.85" fill="none" stroke="#D95319" stroke-width="1"/>
<circle cx="502.2" cy="107.11" r="2.85" fill="none" stroke="#D95319" stroke-width="1"/>
<circle cx="509.41" cy="118.17" r="2.85" fill="none" stroke="#D95319" stroke-width="1"/>
<circle cx="516.61" cy="132.02" r="2.85" fill="none" stroke="#D95319" stroke-width="1"/>
<circle cx="523.82" cy="137.62" r="2.85" fill="none" stroke="#D95319" stroke-width="1"/>
<circle cx="531.02" cy="138.44" r="2.85" fill="none" stroke="#D95319" stroke-width="1"/>
<circle cx="538.22" cy="139.46" r="2.85" fill="none" stroke="#D95319" stroke-width="1"/>
<circle cx="545.43" cy="140.35" r="2.85" fill="none" stroke="#D95319" stroke-width="1"/>
<circle cx="552.63" cy="141.78" r="2.85" fill="none" stroke="#D95319" stroke-width="1"/>
<circle cx="559.84" cy="141.78" r="2.85" fill="none" stroke="#D95319" stroke-width="1"/>
<circle cx="567.04" cy="141.78" r="2.85" fill="none" stroke="#D95319" stroke-width="1"/>
<circle cx="574.24" cy="141.78" r="2.85" fill="none" stroke="#D95319" stroke-width="1"/>
<circle cx="581.45" cy="141.78" r="2.85" fill="none" stroke="#D95319" stroke-width="1"/>
<circle cx="588.65" cy="141.78" r="2.85" fill="none" stroke="#D95319" stroke-width="1"/>
<circle cx="595.86" cy="141.78" r="2.85" fill="none" stroke="#D95319" stroke-width="1"/>
<circle cx="603.06" cy="141.78" r="2.85" fill="none" stroke="#D95319" stroke-width="1"/>
<circle cx="610.26" cy="141.78" r="2.85" fill="none" stroke="#D95319" stroke-width="1"/>
<circle cx="617.47" cy="141.78" r="2.85" fill="none" stroke="#D95319" stroke-width="1"/>
<circle cx="624.67" cy="141.78" r="2.85" fill="none" stroke="#D95319" stroke-width="1"/>
<circle cx="631.88" cy="141.78" r="2.85" fill="none" stroke="#D95319" stroke-width="1"/>
<circle cx="639.08" cy="141.78" r="2.85" fill="none" stroke="#D95319" stroke-width="1"/>
<circle cx="646.28" cy="141.78" r="2.85" fill="none" stroke="#D95319" stroke-width="1"/>
<circle cx="653.49" cy="141.78" r="2.85" fill="none" stroke="#D95319" stroke-width="1"/>
<circle cx="660.69" cy="141.78" r="2.85" fill="none" stroke="#D95319" stroke-width="1"/>
<circle cx="667.9" cy="141.78" r="2.85" fill="none" stroke="#D95319" stroke-width="1"/>
<circle cx="675.1" cy="141.78" r="2.85" fill="none" stroke="#D95319" stroke-width="1"/>
<polyline points="495,34.43 502.2,104.86 509.41,128.41 516.61,131.21 523.82,132.91 531.02,134.82 538.22,135.71 545.43,137.62 552.63,137.62 559.84,137.62 567.04,137.62 574.24,137.62 581.45,137.62 588.65,137.62 595.86,137.62 603.06,143.08 610.26,143.08 617.47,143.08 624.67,143.08 631.88,143.08 639.08,143.08 646.28,143.08 653.49,143.08 660.69,143.08 667.9,143.08 675.1,143.08" fill="none" stroke="#EDB120" stroke-width="1.05"/>
<rect x="492.46" y="31.89" width="5.07" height="5.07" fill="none" stroke="#EDB120" stroke-width="1"/>
<rect x="499.67" y="102.32" width="5.07" height="5.07" fill="none" stroke="#EDB120" stroke-width="1"/>
<rect x="506.87" y="125.87" width="5.07" height="5.07" fill="none" stroke="#EDB120" stroke-width="1"/>
<rect x="514.07" y="128.67" width="5.07" height="5.07" fill="none" stroke="#EDB120" stroke-width="1"/>
<rect x="521.28" y="130.37" width="5.07" height="5.07" fill="none" stroke="#EDB120" stroke-width="1"/>
<rect x="528.48" y="132.29" width="5.07" height="5.07" fill="none" stroke="#EDB120" stroke-width="1"/>
<rect x="535.69" y="133.17" width="5.07" height="5.07" fill="none" stroke="#EDB120" stroke-width="1"/>
<rect x="542.89" y="135.08" width="5.07" height="5.07" fill="none" stroke="#EDB120" stroke-width="1"/>
<rect x="550.1" y="135.08" width="5.07" height="5.07" fill="none" stroke="#EDB120" stroke-width="1"/>
<rect x="557.3" y="135.08" width="5.07" height="5.07" fill="none" stroke="#EDB120" stroke-width="1"/>
<rect x="564.5" y="135.08" width="5.07" height="5.07" fill="none" stroke="#EDB120" stroke-width="1"/>
<rect x="571.71" y="135.08" width="5.07" height="5.07" fill="none" stroke="#EDB120" stroke-width="1"/>
<rect x="578.91" y="135.08" width="5.07" height="5.07" fill="none" stroke="#EDB120" stroke-width="1"/>
<rect x="586.12" y="135.08" width="5.07" height="5.07" fill="none" stroke="#EDB120" stroke-width="1"/>
<rect x="593.32" y="135.08" width="5.07" height="5.07" fill="none" stroke="#EDB120" stroke-width="1"/>
<rect x="600.52" y="140.54" width="5.07" height="5.07" fill="none" stroke="#EDB120" stroke-width="1"/>
<rect x="607.73" y="140.54" width="5.07" height="5.07" fill="none" stroke="#EDB120" stroke-width="1"/>
<rect x="614.93" y="140.54" width="5.07" height="5.07" fill="none" stroke="#EDB120" stroke-width="1"/>
<rect x="622.13" y="140.54" width="5.07" height="5.07" fill="none" stroke="#EDB120" stroke-width="1"/>
<rect x="629.34" y="140.54" width="5.07" height="5.07" fill="none" stroke="#EDB120" stroke-width="1"/>
<rect x="636.54" y="140.54" width="5.07" height="5.07" fill="none" stroke="#EDB120" stroke-width="1"/>
<rect x="643.75" y="140.54" width="5.07" height="5.07" fill="none" stroke="#EDB120" stroke-width="1"/>
<rect x="650.95" y="140.54" width="5.07" height="5.07" fill="none" stroke="#EDB120" stroke-width="1"/>
<rect x="658.15" y="140.54" width="5.07" height="5.07" fill="none" stroke="#EDB120" stroke-width="1"/>
<rect x="665.36" y="140.54" width="5.07" height="5.07" fill="none" stroke="#EDB120" stroke-width="1"/>
<rect x="672.56" y="140.54" width="5.07" height="5.07" fill="none" stroke="#EDB120" stroke-width="1"/>
<text x="585.05" y="7.9" text-anchor="middle" class="lb">TaskNum=10 CoreNum=9 ModeNum=15</text>
<text x="585.05" y="171.2" text-anchor="middle" class="lb">Number of iterations</text>
<text transform="translate(473.6,79.95) rotate(-90)" text-anchor="middle" class="lb">Fitness value</text>
<rect x="565.9" y="16.7" width="104.2" height="33.2" fill="#fff" stroke="#a8a8a8" stroke-width="0.8"/>
<line x1="567.6" y1="22.6" x2="583.4" y2="22.6" stroke="#0072BD" stroke-width="1.05"/>
<path d="M575.2 18.83L578.5 24.91L571.9 24.91Z" fill="none" stroke="#0072BD" stroke-width="1"/>
<text x="585.2" y="25.6" class="lb">MCCGA</text>
<line x1="567.6" y1="33.4" x2="583.4" y2="33.4" stroke="#D95319" stroke-width="1.05"/>
<circle cx="575.2" cy="33.4" r="2.85" fill="none" stroke="#D95319" stroke-width="1"/>
<text x="585.2" y="36.4" class="lb">MCCGA (GAP=10)</text>
<line x1="567.6" y1="44.2" x2="583.4" y2="44.2" stroke="#EDB120" stroke-width="1.05"/>
<rect x="572.66" y="41.66" width="5.07" height="5.07" fill="none" stroke="#EDB120" stroke-width="1"/>
<text x="585.2" y="47.2" class="lb">MCCGA (GAP=Max)</text>
<line x1="30.7" y1="319.56" x2="210.6" y2="319.56" stroke="#eeeeee" stroke-width="0.8"/>
<line x1="30.7" y1="300.01" x2="210.6" y2="300.01" stroke="#eeeeee" stroke-width="0.8"/>
<line x1="30.7" y1="280.47" x2="210.6" y2="280.47" stroke="#eeeeee" stroke-width="0.8"/>
<line x1="30.7" y1="260.93" x2="210.6" y2="260.93" stroke="#eeeeee" stroke-width="0.8"/>
<line x1="30.7" y1="241.39" x2="210.6" y2="241.39" stroke="#eeeeee" stroke-width="0.8"/>
<line x1="30.7" y1="221.84" x2="210.6" y2="221.84" stroke="#eeeeee" stroke-width="0.8"/>
<path d="M30.7 202.3H210.6V339.1" fill="none" stroke="#cfcfcf" stroke-width="0.8"/>
<path d="M30.7 202.3V339.1" fill="none" stroke="#bcbcbc" stroke-width="0.9"/>
<path d="M30.7 339.1H210.6" fill="none" stroke="#9c9c9c" stroke-width="0.9"/>
<line x1="30.7" y1="339.1" x2="32.5" y2="339.1" stroke="#8a8a8a" stroke-width="0.8"/>
<text x="17.54" y="342.4" textLength="9.36" lengthAdjust="spacingAndGlyphs" class="tk">80</text>
<line x1="30.7" y1="319.56" x2="32.5" y2="319.56" stroke="#8a8a8a" stroke-width="0.8"/>
<text x="12.86" y="322.86" textLength="14.04" lengthAdjust="spacingAndGlyphs" class="tk">100</text>
<line x1="30.7" y1="300.01" x2="32.5" y2="300.01" stroke="#8a8a8a" stroke-width="0.8"/>
<text x="12.86" y="303.31" textLength="14.04" lengthAdjust="spacingAndGlyphs" class="tk">120</text>
<line x1="30.7" y1="280.47" x2="32.5" y2="280.47" stroke="#8a8a8a" stroke-width="0.8"/>
<text x="12.86" y="283.77" textLength="14.04" lengthAdjust="spacingAndGlyphs" class="tk">140</text>
<line x1="30.7" y1="260.93" x2="32.5" y2="260.93" stroke="#8a8a8a" stroke-width="0.8"/>
<text x="12.86" y="264.23" textLength="14.04" lengthAdjust="spacingAndGlyphs" class="tk">160</text>
<line x1="30.7" y1="241.39" x2="32.5" y2="241.39" stroke="#8a8a8a" stroke-width="0.8"/>
<text x="12.86" y="244.69" textLength="14.04" lengthAdjust="spacingAndGlyphs" class="tk">180</text>
<line x1="30.7" y1="221.84" x2="32.5" y2="221.84" stroke="#8a8a8a" stroke-width="0.8"/>
<text x="12.86" y="225.14" textLength="14.04" lengthAdjust="spacingAndGlyphs" class="tk">200</text>
<line x1="30.7" y1="202.3" x2="32.5" y2="202.3" stroke="#8a8a8a" stroke-width="0.8"/>
<text x="12.86" y="205.6" textLength="14.04" lengthAdjust="spacingAndGlyphs" class="tk">220</text>
<line x1="30.7" y1="339.1" x2="30.7" y2="337.3" stroke="#8a8a8a" stroke-width="0.8"/>
<text x="28.36" y="351.6" textLength="4.68" lengthAdjust="spacingAndGlyphs" class="tk">0</text>
<line x1="66.68" y1="339.1" x2="66.68" y2="337.3" stroke="#8a8a8a" stroke-width="0.8"/>
<text x="62" y="351.6" textLength="9.36" lengthAdjust="spacingAndGlyphs" class="tk">50</text>
<line x1="102.66" y1="339.1" x2="102.66" y2="337.3" stroke="#8a8a8a" stroke-width="0.8"/>
<text x="95.64" y="351.6" textLength="14.04" lengthAdjust="spacingAndGlyphs" class="tk">100</text>
<line x1="138.64" y1="339.1" x2="138.64" y2="337.3" stroke="#8a8a8a" stroke-width="0.8"/>
<text x="131.62" y="351.6" textLength="14.04" lengthAdjust="spacingAndGlyphs" class="tk">150</text>
<line x1="174.62" y1="339.1" x2="174.62" y2="337.3" stroke="#8a8a8a" stroke-width="0.8"/>
<text x="167.6" y="351.6" textLength="14.04" lengthAdjust="spacingAndGlyphs" class="tk">200</text>
<line x1="210.6" y1="339.1" x2="210.6" y2="337.3" stroke="#8a8a8a" stroke-width="0.8"/>
<text x="203.58" y="351.6" textLength="14.04" lengthAdjust="spacingAndGlyphs" class="tk">250</text>
<polyline points="30.7,214.81 37.9,269.04 45.09,299.72 52.29,310.86 59.48,321.12 66.68,323.37 73.88,326.1 81.07,327.57 88.27,329.43 95.46,330.31 102.66,331.28 109.86,331.48 117.05,331.67 124.25,331.87 131.44,332.06 138.64,332.26 145.84,332.46 153.03,332.65 160.23,332.85 167.42,333.04 174.62,333.24 181.82,333.28 189.01,333.32 196.21,333.35 203.4,333.39 210.6,333.43" fill="none" stroke="#0072BD" stroke-width="1.05"/>
<path d="M30.7 211.04L34 217.12L27.4 217.12Z" fill="none" stroke="#0072BD" stroke-width="1"/>
<path d="M37.9 265.27L41.2 271.35L34.59 271.35Z" fill="none" stroke="#0072BD" stroke-width="1"/>
<path d="M45.09 295.95L48.4 302.03L41.79 302.03Z" fill="none" stroke="#0072BD" stroke-width="1"/>
<path d="M52.29 307.09L55.59 313.17L48.98 313.17Z" fill="none" stroke="#0072BD" stroke-width="1"/>
<path d="M59.48 317.35L62.79 323.43L56.18 323.43Z" fill="none" stroke="#0072BD" stroke-width="1"/>
<path d="M66.68 319.6L69.98 325.68L63.38 325.68Z" fill="none" stroke="#0072BD" stroke-width="1"/>
<path d="M73.88 322.33L77.18 328.41L70.57 328.41Z" fill="none" stroke="#0072BD" stroke-width="1"/>
<path d="M81.07 323.8L84.38 329.88L77.77 329.88Z" fill="none" stroke="#0072BD" stroke-width="1"/>
<path d="M88.27 325.66L91.57 331.74L84.96 331.74Z" fill="none" stroke="#0072BD" stroke-width="1"/>
<path d="M95.46 326.54L98.77 332.62L92.16 332.62Z" fill="none" stroke="#0072BD" stroke-width="1"/>
<path d="M102.66 327.51L105.96 333.59L99.36 333.59Z" fill="none" stroke="#0072BD" stroke-width="1"/>
<path d="M109.86 327.71L113.16 333.79L106.55 333.79Z" fill="none" stroke="#0072BD" stroke-width="1"/>
<path d="M117.05 327.9L120.36 333.98L113.75 333.98Z" fill="none" stroke="#0072BD" stroke-width="1"/>
<path d="M124.25 328.1L127.55 334.18L120.94 334.18Z" fill="none" stroke="#0072BD" stroke-width="1"/>
<path d="M131.44 328.3L134.75 334.37L128.14 334.37Z" fill="none" stroke="#0072BD" stroke-width="1"/>
<path d="M138.64 328.49L141.94 334.57L135.34 334.57Z" fill="none" stroke="#0072BD" stroke-width="1"/>
<path d="M145.84 328.69L149.14 334.77L142.53 334.77Z" fill="none" stroke="#0072BD" stroke-width="1"/>
<path d="M153.03 328.88L156.34 334.96L149.73 334.96Z" fill="none" stroke="#0072BD" stroke-width="1"/>
<path d="M160.23 329.08L163.53 335.16L156.92 335.16Z" fill="none" stroke="#0072BD" stroke-width="1"/>
<path d="M167.42 329.27L170.73 335.35L164.12 335.35Z" fill="none" stroke="#0072BD" stroke-width="1"/>
<path d="M174.62 329.47L177.92 335.55L171.32 335.55Z" fill="none" stroke="#0072BD" stroke-width="1"/>
<path d="M181.82 329.51L185.12 335.59L178.51 335.59Z" fill="none" stroke="#0072BD" stroke-width="1"/>
<path d="M189.01 329.55L192.32 335.63L185.71 335.63Z" fill="none" stroke="#0072BD" stroke-width="1"/>
<path d="M196.21 329.59L199.51 335.66L192.9 335.66Z" fill="none" stroke="#0072BD" stroke-width="1"/>
<path d="M203.4 329.62L206.71 335.7L200.1 335.7Z" fill="none" stroke="#0072BD" stroke-width="1"/>
<path d="M210.6 329.66L213.9 335.74L207.3 335.74Z" fill="none" stroke="#0072BD" stroke-width="1"/>
<polyline points="30.7,214.81 37.9,283.79 45.09,307.44 52.29,315.94 59.48,324.74 66.68,328.94 73.88,330.4 81.07,330.4 88.27,330.4 95.46,331.19 102.66,332.55 109.86,332.55 117.05,332.55 124.25,332.55 131.44,332.55 138.64,332.55 145.84,335.88 153.03,335.88 160.23,335.88 167.42,335.88 174.62,335.88 181.82,335.88 189.01,335.88 196.21,335.88 203.4,335.88 210.6,335.88" fill="none" stroke="#D95319" stroke-width="1.05"/>
<circle cx="30.7" cy="214.81" r="2.85" fill="none" stroke="#D95319" stroke-width="1"/>
<circle cx="37.9" cy="283.79" r="2.85" fill="none" stroke="#D95319" stroke-width="1"/>
<circle cx="45.09" cy="307.44" r="2.85" fill="none" stroke="#D95319" stroke-width="1"/>
<circle cx="52.29" cy="315.94" r="2.85" fill="none" stroke="#D95319" stroke-width="1"/>
<circle cx="59.48" cy="324.74" r="2.85" fill="none" stroke="#D95319" stroke-width="1"/>
<circle cx="66.68" cy="328.94" r="2.85" fill="none" stroke="#D95319" stroke-width="1"/>
<circle cx="73.88" cy="330.4" r="2.85" fill="none" stroke="#D95319" stroke-width="1"/>
<circle cx="81.07" cy="330.4" r="2.85" fill="none" stroke="#D95319" stroke-width="1"/>
<circle cx="88.27" cy="330.4" r="2.85" fill="none" stroke="#D95319" stroke-width="1"/>
<circle cx="95.46" cy="331.19" r="2.85" fill="none" stroke="#D95319" stroke-width="1"/>
<circle cx="102.66" cy="332.55" r="2.85" fill="none" stroke="#D95319" stroke-width="1"/>
<circle cx="109.86" cy="332.55" r="2.85" fill="none" stroke="#D95319" stroke-width="1"/>
<circle cx="117.05" cy="332.55" r="2.85" fill="none" stroke="#D95319" stroke-width="1"/>
<circle cx="124.25" cy="332.55" r="2.85" fill="none" stroke="#D95319" stroke-width="1"/>
<circle cx="131.44" cy="332.55" r="2.85" fill="none" stroke="#D95319" stroke-width="1"/>
<circle cx="138.64" cy="332.55" r="2.85" fill="none" stroke="#D95319" stroke-width="1"/>
<circle cx="145.84" cy="335.88" r="2.85" fill="none" stroke="#D95319" stroke-width="1"/>
<circle cx="153.03" cy="335.88" r="2.85" fill="none" stroke="#D95319" stroke-width="1"/>
<circle cx="160.23" cy="335.88" r="2.85" fill="none" stroke="#D95319" stroke-width="1"/>
<circle cx="167.42" cy="335.88" r="2.85" fill="none" stroke="#D95319" stroke-width="1"/>
<circle cx="174.62" cy="335.88" r="2.85" fill="none" stroke="#D95319" stroke-width="1"/>
<circle cx="181.82" cy="335.88" r="2.85" fill="none" stroke="#D95319" stroke-width="1"/>
<circle cx="189.01" cy="335.88" r="2.85" fill="none" stroke="#D95319" stroke-width="1"/>
<circle cx="196.21" cy="335.88" r="2.85" fill="none" stroke="#D95319" stroke-width="1"/>
<circle cx="203.4" cy="335.88" r="2.85" fill="none" stroke="#D95319" stroke-width="1"/>
<circle cx="210.6" cy="335.88" r="2.85" fill="none" stroke="#D95319" stroke-width="1"/>
<polyline points="30.7,212.85 37.9,287.21 45.09,305.29 52.29,320.63 59.48,326.1 66.68,330.4 73.88,330.99 81.07,334.51 88.27,335.88 95.46,335.88 102.66,335.88 109.86,335.88 117.05,335.88 124.25,335.88 131.44,335.88 138.64,335.88 145.84,335.88 153.03,335.88 160.23,335.88 167.42,335.88 174.62,335.88 181.82,335.88 189.01,335.88 196.21,335.88 203.4,335.88 210.6,335.88" fill="none" stroke="#EDB120" stroke-width="1.05"/>
<rect x="28.16" y="210.32" width="5.07" height="5.07" fill="none" stroke="#EDB120" stroke-width="1"/>
<rect x="35.36" y="284.68" width="5.07" height="5.07" fill="none" stroke="#EDB120" stroke-width="1"/>
<rect x="42.55" y="302.75" width="5.07" height="5.07" fill="none" stroke="#EDB120" stroke-width="1"/>
<rect x="49.75" y="318.1" width="5.07" height="5.07" fill="none" stroke="#EDB120" stroke-width="1"/>
<rect x="56.95" y="323.57" width="5.07" height="5.07" fill="none" stroke="#EDB120" stroke-width="1"/>
<rect x="64.14" y="327.87" width="5.07" height="5.07" fill="none" stroke="#EDB120" stroke-width="1"/>
<rect x="71.34" y="328.45" width="5.07" height="5.07" fill="none" stroke="#EDB120" stroke-width="1"/>
<rect x="78.53" y="331.97" width="5.07" height="5.07" fill="none" stroke="#EDB120" stroke-width="1"/>
<rect x="85.73" y="333.34" width="5.07" height="5.07" fill="none" stroke="#EDB120" stroke-width="1"/>
<rect x="92.93" y="333.34" width="5.07" height="5.07" fill="none" stroke="#EDB120" stroke-width="1"/>
<rect x="100.12" y="333.34" width="5.07" height="5.07" fill="none" stroke="#EDB120" stroke-width="1"/>
<rect x="107.32" y="333.34" width="5.07" height="5.07" fill="none" stroke="#EDB120" stroke-width="1"/>
<rect x="114.52" y="333.34" width="5.07" height="5.07" fill="none" stroke="#EDB120" stroke-width="1"/>
<rect x="121.71" y="333.34" width="5.07" height="5.07" fill="none" stroke="#EDB120" stroke-width="1"/>
<rect x="128.91" y="333.34" width="5.07" height="5.07" fill="none" stroke="#EDB120" stroke-width="1"/>
<rect x="136.1" y="333.34" width="5.07" height="5.07" fill="none" stroke="#EDB120" stroke-width="1"/>
<rect x="143.3" y="333.34" width="5.07" height="5.07" fill="none" stroke="#EDB120" stroke-width="1"/>
<rect x="150.5" y="333.34" width="5.07" height="5.07" fill="none" stroke="#EDB120" stroke-width="1"/>
<rect x="157.69" y="333.34" width="5.07" height="5.07" fill="none" stroke="#EDB120" stroke-width="1"/>
<rect x="164.89" y="333.34" width="5.07" height="5.07" fill="none" stroke="#EDB120" stroke-width="1"/>
<rect x="172.08" y="333.34" width="5.07" height="5.07" fill="none" stroke="#EDB120" stroke-width="1"/>
<rect x="179.28" y="333.34" width="5.07" height="5.07" fill="none" stroke="#EDB120" stroke-width="1"/>
<rect x="186.47" y="333.34" width="5.07" height="5.07" fill="none" stroke="#EDB120" stroke-width="1"/>
<rect x="193.67" y="333.34" width="5.07" height="5.07" fill="none" stroke="#EDB120" stroke-width="1"/>
<rect x="200.87" y="333.34" width="5.07" height="5.07" fill="none" stroke="#EDB120" stroke-width="1"/>
<rect x="208.06" y="333.34" width="5.07" height="5.07" fill="none" stroke="#EDB120" stroke-width="1"/>
<text x="120.65" y="198.5" text-anchor="middle" class="lb">TaskNum=20 CoreNum=9 ModeNum=5</text>
<text x="120.65" y="362.1" text-anchor="middle" class="lb">Number of iterations</text>
<text transform="translate(9.3,270.7) rotate(-90)" text-anchor="middle" class="lb">Fitness value</text>
<rect x="101.4" y="207.3" width="104.2" height="33.2" fill="#fff" stroke="#a8a8a8" stroke-width="0.8"/>
<line x1="103.1" y1="213.2" x2="118.9" y2="213.2" stroke="#0072BD" stroke-width="1.05"/>
<path d="M110.7 209.43L114 215.51L107.4 215.51Z" fill="none" stroke="#0072BD" stroke-width="1"/>
<text x="120.7" y="216.2" class="lb">MCCGA</text>
<line x1="103.1" y1="224" x2="118.9" y2="224" stroke="#D95319" stroke-width="1.05"/>
<circle cx="110.7" cy="224" r="2.85" fill="none" stroke="#D95319" stroke-width="1"/>
<text x="120.7" y="227" class="lb">MCCGA (GAP=10)</text>
<line x1="103.1" y1="234.8" x2="118.9" y2="234.8" stroke="#EDB120" stroke-width="1.05"/>
<rect x="108.16" y="232.26" width="5.07" height="5.07" fill="none" stroke="#EDB120" stroke-width="1"/>
<text x="120.7" y="237.8" class="lb">MCCGA (GAP=Max)</text>
<line x1="262.7" y1="334.63" x2="442.6" y2="334.63" stroke="#eeeeee" stroke-width="0.8"/>
<line x1="262.7" y1="290.52" x2="442.6" y2="290.52" stroke="#eeeeee" stroke-width="0.8"/>
<line x1="262.7" y1="246.41" x2="442.6" y2="246.41" stroke="#eeeeee" stroke-width="0.8"/>
<path d="M262.7 202.3H442.6V338.6" fill="none" stroke="#cfcfcf" stroke-width="0.8"/>
<path d="M262.7 202.3V338.6" fill="none" stroke="#bcbcbc" stroke-width="0.9"/>
<path d="M262.7 338.6H442.6" fill="none" stroke="#9c9c9c" stroke-width="0.9"/>
<line x1="262.7" y1="334.63" x2="264.5" y2="334.63" stroke="#8a8a8a" stroke-width="0.8"/>
<text x="244.86" y="337.93" textLength="14.04" lengthAdjust="spacingAndGlyphs" class="tk">100</text>
<line x1="262.7" y1="290.52" x2="264.5" y2="290.52" stroke="#8a8a8a" stroke-width="0.8"/>
<text x="244.86" y="293.82" textLength="14.04" lengthAdjust="spacingAndGlyphs" class="tk">150</text>
<line x1="262.7" y1="246.41" x2="264.5" y2="246.41" stroke="#8a8a8a" stroke-width="0.8"/>
<text x="244.86" y="249.71" textLength="14.04" lengthAdjust="spacingAndGlyphs" class="tk">200</text>
<line x1="262.7" y1="202.3" x2="264.5" y2="202.3" stroke="#8a8a8a" stroke-width="0.8"/>
<text x="244.86" y="205.6" textLength="14.04" lengthAdjust="spacingAndGlyphs" class="tk">250</text>
<line x1="262.7" y1="338.6" x2="262.7" y2="336.8" stroke="#8a8a8a" stroke-width="0.8"/>
<text x="260.36" y="351.1" textLength="4.68" lengthAdjust="spacingAndGlyphs" class="tk">0</text>
<line x1="298.68" y1="338.6" x2="298.68" y2="336.8" stroke="#8a8a8a" stroke-width="0.8"/>
<text x="294" y="351.1" textLength="9.36" lengthAdjust="spacingAndGlyphs" class="tk">50</text>
<line x1="334.66" y1="338.6" x2="334.66" y2="336.8" stroke="#8a8a8a" stroke-width="0.8"/>
<text x="327.64" y="351.1" textLength="14.04" lengthAdjust="spacingAndGlyphs" class="tk">100</text>
<line x1="370.64" y1="338.6" x2="370.64" y2="336.8" stroke="#8a8a8a" stroke-width="0.8"/>
<text x="363.62" y="351.1" textLength="14.04" lengthAdjust="spacingAndGlyphs" class="tk">150</text>
<line x1="406.62" y1="338.6" x2="406.62" y2="336.8" stroke="#8a8a8a" stroke-width="0.8"/>
<text x="399.6" y="351.1" textLength="14.04" lengthAdjust="spacingAndGlyphs" class="tk">200</text>
<line x1="442.6" y1="338.6" x2="442.6" y2="336.8" stroke="#8a8a8a" stroke-width="0.8"/>
<text x="435.58" y="351.1" textLength="14.04" lengthAdjust="spacingAndGlyphs" class="tk">250</text>
<polyline points="262.7,203.71 269.9,256.03 277.09,283.02 284.29,298.37 291.48,312.22 298.68,317.87 305.88,319.19 313.07,322.54 320.27,324.75 327.46,324.93 334.66,326.16 341.86,327.57 349.05,328.01 356.25,328.98 363.44,330.4 370.64,330.4 377.84,330.4 385.03,330.4 392.23,330.4 399.42,330.4 406.62,330.4 413.82,330.4 421.01,330.4 428.21,330.4 435.4,330.4 442.6,330.4" fill="none" stroke="#0072BD" stroke-width="1.05"/>
<path d="M262.7 199.94L266 206.02L259.4 206.02Z" fill="none" stroke="#0072BD" stroke-width="1"/>
<path d="M269.9 252.26L273.2 258.34L266.59 258.34Z" fill="none" stroke="#0072BD" stroke-width="1"/>
<path d="M277.09 279.25L280.4 285.33L273.79 285.33Z" fill="none" stroke="#0072BD" stroke-width="1"/>
<path d="M284.29 294.6L287.59 300.68L280.98 300.68Z" fill="none" stroke="#0072BD" stroke-width="1"/>
<path d="M291.48 308.45L294.79 314.53L288.18 314.53Z" fill="none" stroke="#0072BD" stroke-width="1"/>
<path d="M298.68 314.1L301.98 320.18L295.38 320.18Z" fill="none" stroke="#0072BD" stroke-width="1"/>
<path d="M305.88 315.42L309.18 321.5L302.57 321.5Z" fill="none" stroke="#0072BD" stroke-width="1"/>
<path d="M313.07 318.77L316.38 324.85L309.77 324.85Z" fill="none" stroke="#0072BD" stroke-width="1"/>
<path d="M320.27 320.98L323.57 327.06L316.96 327.06Z" fill="none" stroke="#0072BD" stroke-width="1"/>
<path d="M327.46 321.16L330.77 327.24L324.16 327.24Z" fill="none" stroke="#0072BD" stroke-width="1"/>
<path d="M334.66 322.39L337.96 328.47L331.36 328.47Z" fill="none" stroke="#0072BD" stroke-width="1"/>
<path d="M341.86 323.8L345.16 329.88L338.55 329.88Z" fill="none" stroke="#0072BD" stroke-width="1"/>
<path d="M349.05 324.24L352.36 330.32L345.75 330.32Z" fill="none" stroke="#0072BD" stroke-width="1"/>
<path d="M356.25 325.21L359.55 331.29L352.94 331.29Z" fill="none" stroke="#0072BD" stroke-width="1"/>
<path d="M363.44 326.63L366.75 332.71L360.14 332.71Z" fill="none" stroke="#0072BD" stroke-width="1"/>
<path d="M370.64 326.63L373.94 332.71L367.34 332.71Z" fill="none" stroke="#0072BD" stroke-width="1"/>
<path d="M377.84 326.63L381.14 332.71L374.53 332.71Z" fill="none" stroke="#0072BD" stroke-width="1"/>
<path d="M385.03 326.63L388.34 332.71L381.73 332.71Z" fill="none" stroke="#0072BD" stroke-width="1"/>
<path d="M392.23 326.63L395.53 332.71L388.92 332.71Z" fill="none" stroke="#0072BD" stroke-width="1"/>
<path d="M399.42 326.63L402.73 332.71L396.12 332.71Z" fill="none" stroke="#0072BD" stroke-width="1"/>
<path d="M406.62 326.63L409.92 332.71L403.32 332.71Z" fill="none" stroke="#0072BD" stroke-width="1"/>
<path d="M413.82 326.63L417.12 332.71L410.51 332.71Z" fill="none" stroke="#0072BD" stroke-width="1"/>
<path d="M421.01 326.63L424.32 332.71L417.71 332.71Z" fill="none" stroke="#0072BD" stroke-width="1"/>
<path d="M428.21 326.63L431.51 332.71L424.9 332.71Z" fill="none" stroke="#0072BD" stroke-width="1"/>
<path d="M435.4 326.63L438.71 332.71L432.1 332.71Z" fill="none" stroke="#0072BD" stroke-width="1"/>
<path d="M442.6 326.63L445.9 332.71L439.3 332.71Z" fill="none" stroke="#0072BD" stroke-width="1"/>
<polyline points="262.7,209.18 269.9,279.4 277.09,308.87 284.29,318.66 291.48,325.63 298.68,326.95 305.88,331.81 313.07,333.13 320.27,334.45 327.46,334.81 334.66,335.34 341.86,337.89 349.05,337.89 356.25,337.89 363.44,337.89 370.64,337.89 377.84,337.89 385.03,337.89 392.23,337.89 399.42,337.89 406.62,337.89 413.82,337.89 421.01,337.89 428.21,337.89 435.4,337.89 442.6,337.89" fill="none" stroke="#D95319" stroke-width="1.05"/>
<circle cx="262.7" cy="209.18" r="2.85" fill="none" stroke="#D95319" stroke-width="1"/>
<circle cx="269.9" cy="279.4" r="2.85" fill="none" stroke="#D95319" stroke-width="1"/>
<circle cx="277.09" cy="308.87" r="2.85" fill="none" stroke="#D95319" stroke-width="1"/>
<circle cx="284.29" cy="318.66" r="2.85" fill="none" stroke="#D95319" stroke-width="1"/>
<circle cx="291.48" cy="325.63" r="2.85" fill="none" stroke="#D95319" stroke-width="1"/>
<circle cx="298.68" cy="326.95" r="2.85" fill="none" stroke="#D95319" stroke-width="1"/>
<circle cx="305.88" cy="331.81" r="2.85" fill="none" stroke="#D95319" stroke-width="1"/>
<circle cx="313.07" cy="333.13" r="2.85" fill="none" stroke="#D95319" stroke-width="1"/>
<circle cx="320.27" cy="334.45" r="2.85" fill="none" stroke="#D95319" stroke-width="1"/>
<circle cx="327.46" cy="334.81" r="2.85" fill="none" stroke="#D95319" stroke-width="1"/>
<circle cx="334.66" cy="335.34" r="2.85" fill="none" stroke="#D95319" stroke-width="1"/>
<circle cx="341.86" cy="337.89" r="2.85" fill="none" stroke="#D95319" stroke-width="1"/>
<circle cx="349.05" cy="337.89" r="2.85" fill="none" stroke="#D95319" stroke-width="1"/>
<circle cx="356.25" cy="337.89" r="2.85" fill="none" stroke="#D95319" stroke-width="1"/>
<circle cx="363.44" cy="337.89" r="2.85" fill="none" stroke="#D95319" stroke-width="1"/>
<circle cx="370.64" cy="337.89" r="2.85" fill="none" stroke="#D95319" stroke-width="1"/>
<circle cx="377.84" cy="337.89" r="2.85" fill="none" stroke="#D95319" stroke-width="1"/>
<circle cx="385.03" cy="337.89" r="2.85" fill="none" stroke="#D95319" stroke-width="1"/>
<circle cx="392.23" cy="337.89" r="2.85" fill="none" stroke="#D95319" stroke-width="1"/>
<circle cx="399.42" cy="337.89" r="2.85" fill="none" stroke="#D95319" stroke-width="1"/>
<circle cx="406.62" cy="337.89" r="2.85" fill="none" stroke="#D95319" stroke-width="1"/>
<circle cx="413.82" cy="337.89" r="2.85" fill="none" stroke="#D95319" stroke-width="1"/>
<circle cx="421.01" cy="337.89" r="2.85" fill="none" stroke="#D95319" stroke-width="1"/>
<circle cx="428.21" cy="337.89" r="2.85" fill="none" stroke="#D95319" stroke-width="1"/>
<circle cx="435.4" cy="337.89" r="2.85" fill="none" stroke="#D95319" stroke-width="1"/>
<circle cx="442.6" cy="337.89" r="2.85" fill="none" stroke="#D95319" stroke-width="1"/>
<polyline points="262.7,205.03 269.9,280.82 277.09,308.87 284.29,319.72 291.48,326.95 298.68,327.57 305.88,330.4 313.07,331.1 320.27,333.13 327.46,334.45 334.66,334.45 341.86,334.45 349.05,334.45 356.25,334.45 363.44,334.45 370.64,334.45 377.84,334.45 385.03,334.45 392.23,334.45 399.42,334.45 406.62,337.28 413.82,337.28 421.01,337.28 428.21,337.28 435.4,337.28 442.6,337.28" fill="none" stroke="#EDB120" stroke-width="1.05"/>
<rect x="260.16" y="202.5" width="5.07" height="5.07" fill="none" stroke="#EDB120" stroke-width="1"/>
<rect x="267.36" y="278.28" width="5.07" height="5.07" fill="none" stroke="#EDB120" stroke-width="1"/>
<rect x="274.56" y="306.33" width="5.07" height="5.07" fill="none" stroke="#EDB120" stroke-width="1"/>
<rect x="281.75" y="317.18" width="5.07" height="5.07" fill="none" stroke="#EDB120" stroke-width="1"/>
<rect x="288.95" y="324.42" width="5.07" height="5.07" fill="none" stroke="#EDB120" stroke-width="1"/>
<rect x="296.14" y="325.04" width="5.07" height="5.07" fill="none" stroke="#EDB120" stroke-width="1"/>
<rect x="303.34" y="327.86" width="5.07" height="5.07" fill="none" stroke="#EDB120" stroke-width="1"/>
<rect x="310.54" y="328.56" width="5.07" height="5.07" fill="none" stroke="#EDB120" stroke-width="1"/>
<rect x="317.73" y="330.59" width="5.07" height="5.07" fill="none" stroke="#EDB120" stroke-width="1"/>
<rect x="324.93" y="331.92" width="5.07" height="5.07" fill="none" stroke="#EDB120" stroke-width="1"/>
<rect x="332.12" y="331.92" width="5.07" height="5.07" fill="none" stroke="#EDB120" stroke-width="1"/>
<rect x="339.32" y="331.92" width="5.07" height="5.07" fill="none" stroke="#EDB120" stroke-width="1"/>
<rect x="346.52" y="331.92" width="5.07" height="5.07" fill="none" stroke="#EDB120" stroke-width="1"/>
<rect x="353.71" y="331.92" width="5.07" height="5.07" fill="none" stroke="#EDB120" stroke-width="1"/>
<rect x="360.91" y="331.92" width="5.07" height="5.07" fill="none" stroke="#EDB120" stroke-width="1"/>
<rect x="368.1" y="331.92" width="5.07" height="5.07" fill="none" stroke="#EDB120" stroke-width="1"/>
<rect x="375.3" y="331.92" width="5.07" height="5.07" fill="none" stroke="#EDB120" stroke-width="1"/>
<rect x="382.5" y="331.92" width="5.07" height="5.07" fill="none" stroke="#EDB120" stroke-width="1"/>
<rect x="389.69" y="331.92" width="5.07" height="5.07" fill="none" stroke="#EDB120" stroke-width="1"/>
<rect x="396.89" y="331.92" width="5.07" height="5.07" fill="none" stroke="#EDB120" stroke-width="1"/>
<rect x="404.08" y="334.74" width="5.07" height="5.07" fill="none" stroke="#EDB120" stroke-width="1"/>
<rect x="411.28" y="334.74" width="5.07" height="5.07" fill="none" stroke="#EDB120" stroke-width="1"/>
<rect x="418.48" y="334.74" width="5.07" height="5.07" fill="none" stroke="#EDB120" stroke-width="1"/>
<rect x="425.67" y="334.74" width="5.07" height="5.07" fill="none" stroke="#EDB120" stroke-width="1"/>
<rect x="432.87" y="334.74" width="5.07" height="5.07" fill="none" stroke="#EDB120" stroke-width="1"/>
<rect x="440.06" y="334.74" width="5.07" height="5.07" fill="none" stroke="#EDB120" stroke-width="1"/>
<text x="352.65" y="198.5" text-anchor="middle" class="lb">TaskNum=20 CoreNum=9 ModeNum=10</text>
<text x="352.65" y="361.6" text-anchor="middle" class="lb">Number of iterations</text>
<text transform="translate(241.3,270.45) rotate(-90)" text-anchor="middle" class="lb">Fitness value</text>
<rect x="333.4" y="207.3" width="104.2" height="33.2" fill="#fff" stroke="#a8a8a8" stroke-width="0.8"/>
<line x1="335.1" y1="213.2" x2="350.9" y2="213.2" stroke="#0072BD" stroke-width="1.05"/>
<path d="M342.7 209.43L346 215.51L339.4 215.51Z" fill="none" stroke="#0072BD" stroke-width="1"/>
<text x="352.7" y="216.2" class="lb">MCCGA</text>
<line x1="335.1" y1="224" x2="350.9" y2="224" stroke="#D95319" stroke-width="1.05"/>
<circle cx="342.7" cy="224" r="2.85" fill="none" stroke="#D95319" stroke-width="1"/>
<text x="352.7" y="227" class="lb">MCCGA (GAP=10)</text>
<line x1="335.1" y1="234.8" x2="350.9" y2="234.8" stroke="#EDB120" stroke-width="1.05"/>
<rect x="340.16" y="232.26" width="5.07" height="5.07" fill="none" stroke="#EDB120" stroke-width="1"/>
<text x="352.7" y="237.8" class="lb">MCCGA (GAP=Max)</text>
<line x1="495" y1="332.52" x2="675.1" y2="332.52" stroke="#eeeeee" stroke-width="0.8"/>
<line x1="495" y1="289.12" x2="675.1" y2="289.12" stroke="#eeeeee" stroke-width="0.8"/>
<line x1="495" y1="245.71" x2="675.1" y2="245.71" stroke="#eeeeee" stroke-width="0.8"/>
<path d="M495 202.3H675.1V338.6" fill="none" stroke="#cfcfcf" stroke-width="0.8"/>
<path d="M495 202.3V338.6" fill="none" stroke="#bcbcbc" stroke-width="0.9"/>
<path d="M495 338.6H675.1" fill="none" stroke="#9c9c9c" stroke-width="0.9"/>
<line x1="495" y1="332.52" x2="496.8" y2="332.52" stroke="#8a8a8a" stroke-width="0.8"/>
<text x="477.16" y="335.82" textLength="14.04" lengthAdjust="spacingAndGlyphs" class="tk">100</text>
<line x1="495" y1="289.12" x2="496.8" y2="289.12" stroke="#8a8a8a" stroke-width="0.8"/>
<text x="477.16" y="292.42" textLength="14.04" lengthAdjust="spacingAndGlyphs" class="tk">150</text>
<line x1="495" y1="245.71" x2="496.8" y2="245.71" stroke="#8a8a8a" stroke-width="0.8"/>
<text x="477.16" y="249.01" textLength="14.04" lengthAdjust="spacingAndGlyphs" class="tk">200</text>
<line x1="495" y1="202.3" x2="496.8" y2="202.3" stroke="#8a8a8a" stroke-width="0.8"/>
<text x="477.16" y="205.6" textLength="14.04" lengthAdjust="spacingAndGlyphs" class="tk">250</text>
<line x1="495" y1="338.6" x2="495" y2="336.8" stroke="#8a8a8a" stroke-width="0.8"/>
<text x="492.66" y="351.1" textLength="4.68" lengthAdjust="spacingAndGlyphs" class="tk">0</text>
<line x1="531.02" y1="338.6" x2="531.02" y2="336.8" stroke="#8a8a8a" stroke-width="0.8"/>
<text x="526.34" y="351.1" textLength="9.36" lengthAdjust="spacingAndGlyphs" class="tk">50</text>
<line x1="567.04" y1="338.6" x2="567.04" y2="336.8" stroke="#8a8a8a" stroke-width="0.8"/>
<text x="560.02" y="351.1" textLength="14.04" lengthAdjust="spacingAndGlyphs" class="tk">100</text>
<line x1="603.06" y1="338.6" x2="603.06" y2="336.8" stroke="#8a8a8a" stroke-width="0.8"/>
<text x="596.04" y="351.1" textLength="14.04" lengthAdjust="spacingAndGlyphs" class="tk">150</text>
<line x1="639.08" y1="338.6" x2="639.08" y2="336.8" stroke="#8a8a8a" stroke-width="0.8"/>
<text x="632.06" y="351.1" textLength="14.04" lengthAdjust="spacingAndGlyphs" class="tk">200</text>
<line x1="675.1" y1="338.6" x2="675.1" y2="336.8" stroke="#8a8a8a" stroke-width="0.8"/>
<text x="668.08" y="351.1" textLength="14.04" lengthAdjust="spacingAndGlyphs" class="tk">250</text>
<polyline points="495,203.31 502.2,245.82 509.41,263.22 516.61,277.7 523.82,287.39 531.02,289.36 538.22,295.7 545.43,298.53 552.63,301.78 559.84,301.18 567.04,305.98 574.24,305.98 581.45,305.98 588.65,305.98 595.86,309.58 603.06,310.95 610.26,311.47 617.47,313.18 624.67,313.18 631.88,313.18 639.08,315.15 646.28,315.15 653.49,317.12 660.69,317.12 667.9,317.12 675.1,317.12" fill="none" stroke="#0072BD" stroke-width="1.05"/>
<path d="M495 199.54L498.3 205.62L491.7 205.62Z" fill="none" stroke="#0072BD" stroke-width="1"/>
<path d="M502.2 242.05L505.51 248.13L498.9 248.13Z" fill="none" stroke="#0072BD" stroke-width="1"/>
<path d="M509.41 259.45L512.71 265.53L506.1 265.53Z" fill="none" stroke="#0072BD" stroke-width="1"/>
<path d="M516.61 273.93L519.92 280.01L513.31 280.01Z" fill="none" stroke="#0072BD" stroke-width="1"/>
<path d="M523.82 283.62L527.12 289.7L520.51 289.7Z" fill="none" stroke="#0072BD" stroke-width="1"/>
<path d="M531.02 285.59L534.32 291.67L527.72 291.67Z" fill="none" stroke="#0072BD" stroke-width="1"/>
<path d="M538.22 291.93L541.53 298.01L534.92 298.01Z" fill="none" stroke="#0072BD" stroke-width="1"/>
<path d="M545.43 294.76L548.73 300.84L542.12 300.84Z" fill="none" stroke="#0072BD" stroke-width="1"/>
<path d="M552.63 298.01L555.94 304.09L549.33 304.09Z" fill="none" stroke="#0072BD" stroke-width="1"/>
<path d="M559.84 297.41L563.14 303.49L556.53 303.49Z" fill="none" stroke="#0072BD" stroke-width="1"/>
<path d="M567.04 302.21L570.34 308.29L563.74 308.29Z" fill="none" stroke="#0072BD" stroke-width="1"/>
<path d="M574.24 302.21L577.55 308.29L570.94 308.29Z" fill="none" stroke="#0072BD" stroke-width="1"/>
<path d="M581.45 302.21L584.75 308.29L578.14 308.29Z" fill="none" stroke="#0072BD" stroke-width="1"/>
<path d="M588.65 302.21L591.96 308.29L585.35 308.29Z" fill="none" stroke="#0072BD" stroke-width="1"/>
<path d="M595.86 305.81L599.16 311.89L592.55 311.89Z" fill="none" stroke="#0072BD" stroke-width="1"/>
<path d="M603.06 307.18L606.36 313.26L599.76 313.26Z" fill="none" stroke="#0072BD" stroke-width="1"/>
<path d="M610.26 307.7L613.57 313.78L606.96 313.78Z" fill="none" stroke="#0072BD" stroke-width="1"/>
<path d="M617.47 309.41L620.77 315.49L614.16 315.49Z" fill="none" stroke="#0072BD" stroke-width="1"/>
<path d="M624.67 309.41L627.98 315.49L621.37 315.49Z" fill="none" stroke="#0072BD" stroke-width="1"/>
<path d="M631.88 309.41L635.18 315.49L628.57 315.49Z" fill="none" stroke="#0072BD" stroke-width="1"/>
<path d="M639.08 311.38L642.38 317.46L635.78 317.46Z" fill="none" stroke="#0072BD" stroke-width="1"/>
<path d="M646.28 311.38L649.59 317.46L642.98 317.46Z" fill="none" stroke="#0072BD" stroke-width="1"/>
<path d="M653.49 313.35L656.79 319.43L650.18 319.43Z" fill="none" stroke="#0072BD" stroke-width="1"/>
<path d="M660.69 313.35L664 319.43L657.39 319.43Z" fill="none" stroke="#0072BD" stroke-width="1"/>
<path d="M667.9 313.35L671.2 319.43L664.59 319.43Z" fill="none" stroke="#0072BD" stroke-width="1"/>
<path d="M675.1 313.35L678.4 319.43L671.8 319.43Z" fill="none" stroke="#0072BD" stroke-width="1"/>
<polyline points="495,205.03 502.2,271.27 509.41,297.58 516.61,316.52 523.82,321.24 531.02,322.61 538.22,329.04 545.43,329.64 552.63,333.06 559.84,334.52 567.04,335.21 574.24,336.49 581.45,336.49 588.65,336.49 595.86,336.49 603.06,336.49 610.26,336.49 617.47,336.49 624.67,336.49 631.88,336.49 639.08,336.49 646.28,336.49 653.49,336.49 660.69,336.49 667.9,336.49 675.1,336.49" fill="none" stroke="#D95319" stroke-width="1.05"/>
<circle cx="495" cy="205.03" r="2.85" fill="none" stroke="#D95319" stroke-width="1"/>
<circle cx="502.2" cy="271.27" r="2.85" fill="none" stroke="#D95319" stroke-width="1"/>
<circle cx="509.41" cy="297.58" r="2.85" fill="none" stroke="#D95319" stroke-width="1"/>
<circle cx="516.61" cy="316.52" r="2.85" fill="none" stroke="#D95319" stroke-width="1"/>
<circle cx="523.82" cy="321.24" r="2.85" fill="none" stroke="#D95319" stroke-width="1"/>
<circle cx="531.02" cy="322.61" r="2.85" fill="none" stroke="#D95319" stroke-width="1"/>
<circle cx="538.22" cy="329.04" r="2.85" fill="none" stroke="#D95319" stroke-width="1"/>
<circle cx="545.43" cy="329.64" r="2.85" fill="none" stroke="#D95319" stroke-width="1"/>
<circle cx="552.63" cy="333.06" r="2.85" fill="none" stroke="#D95319" stroke-width="1"/>
<circle cx="559.84" cy="334.52" r="2.85" fill="none" stroke="#D95319" stroke-width="1"/>
<circle cx="567.04" cy="335.21" r="2.85" fill="none" stroke="#D95319" stroke-width="1"/>
<circle cx="574.24" cy="336.49" r="2.85" fill="none" stroke="#D95319" stroke-width="1"/>
<circle cx="581.45" cy="336.49" r="2.85" fill="none" stroke="#D95319" stroke-width="1"/>
<circle cx="588.65" cy="336.49" r="2.85" fill="none" stroke="#D95319" stroke-width="1"/>
<circle cx="595.86" cy="336.49" r="2.85" fill="none" stroke="#D95319" stroke-width="1"/>
<circle cx="603.06" cy="336.49" r="2.85" fill="none" stroke="#D95319" stroke-width="1"/>
<circle cx="610.26" cy="336.49" r="2.85" fill="none" stroke="#D95319" stroke-width="1"/>
<circle cx="617.47" cy="336.49" r="2.85" fill="none" stroke="#D95319" stroke-width="1"/>
<circle cx="624.67" cy="336.49" r="2.85" fill="none" stroke="#D95319" stroke-width="1"/>
<circle cx="631.88" cy="336.49" r="2.85" fill="none" stroke="#D95319" stroke-width="1"/>
<circle cx="639.08" cy="336.49" r="2.85" fill="none" stroke="#D95319" stroke-width="1"/>
<circle cx="646.28" cy="336.49" r="2.85" fill="none" stroke="#D95319" stroke-width="1"/>
<circle cx="653.49" cy="336.49" r="2.85" fill="none" stroke="#D95319" stroke-width="1"/>
<circle cx="660.69" cy="336.49" r="2.85" fill="none" stroke="#D95319" stroke-width="1"/>
<circle cx="667.9" cy="336.49" r="2.85" fill="none" stroke="#D95319" stroke-width="1"/>
<circle cx="675.1" cy="336.49" r="2.85" fill="none" stroke="#D95319" stroke-width="1"/>
<polyline points="495,204.51 502.2,284.56 509.41,305.38 516.61,314.55 523.82,319.35 531.02,329.04 538.22,329.64 545.43,330.41 552.63,332.64 559.84,333.49 567.04,334.35 574.24,335.98 581.45,335.98 588.65,335.98 595.86,335.98 603.06,335.98 610.26,335.98 617.47,335.98 624.67,335.98 631.88,335.98 639.08,335.98 646.28,335.98 653.49,335.98 660.69,335.98 667.9,335.98 675.1,335.98" fill="none" stroke="#EDB120" stroke-width="1.05"/>
<rect x="492.46" y="201.98" width="5.07" height="5.07" fill="none" stroke="#EDB120" stroke-width="1"/>
<rect x="499.67" y="282.02" width="5.07" height="5.07" fill="none" stroke="#EDB120" stroke-width="1"/>
<rect x="506.87" y="302.85" width="5.07" height="5.07" fill="none" stroke="#EDB120" stroke-width="1"/>
<rect x="514.07" y="312.02" width="5.07" height="5.07" fill="none" stroke="#EDB120" stroke-width="1"/>
<rect x="521.28" y="316.81" width="5.07" height="5.07" fill="none" stroke="#EDB120" stroke-width="1"/>
<rect x="528.48" y="326.5" width="5.07" height="5.07" fill="none" stroke="#EDB120" stroke-width="1"/>
<rect x="535.69" y="327.1" width="5.07" height="5.07" fill="none" stroke="#EDB120" stroke-width="1"/>
<rect x="542.89" y="327.87" width="5.07" height="5.07" fill="none" stroke="#EDB120" stroke-width="1"/>
<rect x="550.1" y="330.1" width="5.07" height="5.07" fill="none" stroke="#EDB120" stroke-width="1"/>
<rect x="557.3" y="330.96" width="5.07" height="5.07" fill="none" stroke="#EDB120" stroke-width="1"/>
<rect x="564.5" y="331.81" width="5.07" height="5.07" fill="none" stroke="#EDB120" stroke-width="1"/>
<rect x="571.71" y="333.44" width="5.07" height="5.07" fill="none" stroke="#EDB120" stroke-width="1"/>
<rect x="578.91" y="333.44" width="5.07" height="5.07" fill="none" stroke="#EDB120" stroke-width="1"/>
<rect x="586.12" y="333.44" width="5.07" height="5.07" fill="none" stroke="#EDB120" stroke-width="1"/>
<rect x="593.32" y="333.44" width="5.07" height="5.07" fill="none" stroke="#EDB120" stroke-width="1"/>
<rect x="600.52" y="333.44" width="5.07" height="5.07" fill="none" stroke="#EDB120" stroke-width="1"/>
<rect x="607.73" y="333.44" width="5.07" height="5.07" fill="none" stroke="#EDB120" stroke-width="1"/>
<rect x="614.93" y="333.44" width="5.07" height="5.07" fill="none" stroke="#EDB120" stroke-width="1"/>
<rect x="622.13" y="333.44" width="5.07" height="5.07" fill="none" stroke="#EDB120" stroke-width="1"/>
<rect x="629.34" y="333.44" width="5.07" height="5.07" fill="none" stroke="#EDB120" stroke-width="1"/>
<rect x="636.54" y="333.44" width="5.07" height="5.07" fill="none" stroke="#EDB120" stroke-width="1"/>
<rect x="643.75" y="333.44" width="5.07" height="5.07" fill="none" stroke="#EDB120" stroke-width="1"/>
<rect x="650.95" y="333.44" width="5.07" height="5.07" fill="none" stroke="#EDB120" stroke-width="1"/>
<rect x="658.15" y="333.44" width="5.07" height="5.07" fill="none" stroke="#EDB120" stroke-width="1"/>
<rect x="665.36" y="333.44" width="5.07" height="5.07" fill="none" stroke="#EDB120" stroke-width="1"/>
<rect x="672.56" y="333.44" width="5.07" height="5.07" fill="none" stroke="#EDB120" stroke-width="1"/>
<text x="585.05" y="198.5" text-anchor="middle" class="lb">TaskNum=20 CoreNum=9 ModeNum=15</text>
<text x="585.05" y="361.6" text-anchor="middle" class="lb">Number of iterations</text>
<text transform="translate(473.6,270.45) rotate(-90)" text-anchor="middle" class="lb">Fitness value</text>
<rect x="565.9" y="207.3" width="104.2" height="33.2" fill="#fff" stroke="#a8a8a8" stroke-width="0.8"/>
<line x1="567.6" y1="213.2" x2="583.4" y2="213.2" stroke="#0072BD" stroke-width="1.05"/>
<path d="M575.2 209.43L578.5 215.51L571.9 215.51Z" fill="none" stroke="#0072BD" stroke-width="1"/>
<text x="585.2" y="216.2" class="lb">MCCGA</text>
<line x1="567.6" y1="224" x2="583.4" y2="224" stroke="#D95319" stroke-width="1.05"/>
<circle cx="575.2" cy="224" r="2.85" fill="none" stroke="#D95319" stroke-width="1"/>
<text x="585.2" y="227" class="lb">MCCGA (GAP=10)</text>
<line x1="567.6" y1="234.8" x2="583.4" y2="234.8" stroke="#EDB120" stroke-width="1.05"/>
<rect x="572.66" y="232.26" width="5.07" height="5.07" fill="none" stroke="#EDB120" stroke-width="1"/>
<text x="585.2" y="237.8" class="lb">MCCGA (GAP=Max)</text>
<line x1="30.7" y1="484.2" x2="210.6" y2="484.2" stroke="#eeeeee" stroke-width="0.8"/>
<line x1="30.7" y1="439.1" x2="210.6" y2="439.1" stroke="#eeeeee" stroke-width="0.8"/>
<path d="M30.7 394H210.6V529.3" fill="none" stroke="#cfcfcf" stroke-width="0.8"/>
<path d="M30.7 394V529.3" fill="none" stroke="#bcbcbc" stroke-width="0.9"/>
<path d="M30.7 529.3H210.6" fill="none" stroke="#9c9c9c" stroke-width="0.9"/>
<line x1="30.7" y1="529.3" x2="32.5" y2="529.3" stroke="#8a8a8a" stroke-width="0.8"/>
<text x="12.86" y="532.6" textLength="14.04" lengthAdjust="spacingAndGlyphs" class="tk">100</text>
<line x1="30.7" y1="484.2" x2="32.5" y2="484.2" stroke="#8a8a8a" stroke-width="0.8"/>
<text x="12.86" y="487.5" textLength="14.04" lengthAdjust="spacingAndGlyphs" class="tk">150</text>
<line x1="30.7" y1="439.1" x2="32.5" y2="439.1" stroke="#8a8a8a" stroke-width="0.8"/>
<text x="12.86" y="442.4" textLength="14.04" lengthAdjust="spacingAndGlyphs" class="tk">200</text>
<line x1="30.7" y1="394" x2="32.5" y2="394" stroke="#8a8a8a" stroke-width="0.8"/>
<text x="12.86" y="397.3" textLength="14.04" lengthAdjust="spacingAndGlyphs" class="tk">250</text>
<line x1="30.7" y1="529.3" x2="30.7" y2="527.5" stroke="#8a8a8a" stroke-width="0.8"/>
<text x="28.36" y="541.8" textLength="4.68" lengthAdjust="spacingAndGlyphs" class="tk">0</text>
<line x1="66.68" y1="529.3" x2="66.68" y2="527.5" stroke="#8a8a8a" stroke-width="0.8"/>
<text x="62" y="541.8" textLength="9.36" lengthAdjust="spacingAndGlyphs" class="tk">50</text>
<line x1="102.66" y1="529.3" x2="102.66" y2="527.5" stroke="#8a8a8a" stroke-width="0.8"/>
<text x="95.64" y="541.8" textLength="14.04" lengthAdjust="spacingAndGlyphs" class="tk">100</text>
<line x1="138.64" y1="529.3" x2="138.64" y2="527.5" stroke="#8a8a8a" stroke-width="0.8"/>
<text x="131.62" y="541.8" textLength="14.04" lengthAdjust="spacingAndGlyphs" class="tk">150</text>
<line x1="174.62" y1="529.3" x2="174.62" y2="527.5" stroke="#8a8a8a" stroke-width="0.8"/>
<text x="167.6" y="541.8" textLength="14.04" lengthAdjust="spacingAndGlyphs" class="tk">200</text>
<line x1="210.6" y1="529.3" x2="210.6" y2="527.5" stroke="#8a8a8a" stroke-width="0.8"/>
<text x="203.58" y="541.8" textLength="14.04" lengthAdjust="spacingAndGlyphs" class="tk">250</text>
<polyline points="30.7,410.78 37.9,457.41 45.09,479.42 52.29,499.71 59.48,503.05 66.68,510 73.88,513.61 81.07,515.59 88.27,517.21 95.46,519.2 102.66,520.55 109.86,521.9 117.05,522.81 124.25,523.89 131.44,523.89 138.64,523.89 145.84,523.89 153.03,523.89 160.23,525.6 167.42,525.6 174.62,525.6 181.82,525.6 189.01,525.6 196.21,525.6 203.4,525.6 210.6,525.6" fill="none" stroke="#0072BD" stroke-width="1.05"/>
<path d="M30.7 407.01L34 413.09L27.4 413.09Z" fill="none" stroke="#0072BD" stroke-width="1"/>
<path d="M37.9 453.64L41.2 459.72L34.59 459.72Z" fill="none" stroke="#0072BD" stroke-width="1"/>
<path d="M45.09 475.65L48.4 481.73L41.79 481.73Z" fill="none" stroke="#0072BD" stroke-width="1"/>
<path d="M52.29 495.95L55.59 502.02L48.98 502.02Z" fill="none" stroke="#0072BD" stroke-width="1"/>
<path d="M59.48 499.28L62.79 505.36L56.18 505.36Z" fill="none" stroke="#0072BD" stroke-width="1"/>
<path d="M66.68 506.23L69.98 512.31L63.38 512.31Z" fill="none" stroke="#0072BD" stroke-width="1"/>
<path d="M73.88 509.84L77.18 515.92L70.57 515.92Z" fill="none" stroke="#0072BD" stroke-width="1"/>
<path d="M81.07 511.82L84.38 517.9L77.77 517.9Z" fill="none" stroke="#0072BD" stroke-width="1"/>
<path d="M88.27 513.44L91.57 519.52L84.96 519.52Z" fill="none" stroke="#0072BD" stroke-width="1"/>
<path d="M95.46 515.43L98.77 521.51L92.16 521.51Z" fill="none" stroke="#0072BD" stroke-width="1"/>
<path d="M102.66 516.78L105.96 522.86L99.36 522.86Z" fill="none" stroke="#0072BD" stroke-width="1"/>
<path d="M109.86 518.13L113.16 524.21L106.55 524.21Z" fill="none" stroke="#0072BD" stroke-width="1"/>
<path d="M117.05 519.04L120.36 525.12L113.75 525.12Z" fill="none" stroke="#0072BD" stroke-width="1"/>
<path d="M124.25 520.12L127.55 526.2L120.94 526.2Z" fill="none" stroke="#0072BD" stroke-width="1"/>
<path d="M131.44 520.12L134.75 526.2L128.14 526.2Z" fill="none" stroke="#0072BD" stroke-width="1"/>
<path d="M138.64 520.12L141.94 526.2L135.34 526.2Z" fill="none" stroke="#0072BD" stroke-width="1"/>
<path d="M145.84 520.12L149.14 526.2L142.53 526.2Z" fill="none" stroke="#0072BD" stroke-width="1"/>
<path d="M153.03 520.12L156.34 526.2L149.73 526.2Z" fill="none" stroke="#0072BD" stroke-width="1"/>
<path d="M160.23 521.83L163.53 527.91L156.92 527.91Z" fill="none" stroke="#0072BD" stroke-width="1"/>
<path d="M167.42 521.83L170.73 527.91L164.12 527.91Z" fill="none" stroke="#0072BD" stroke-width="1"/>
<path d="M174.62 521.83L177.92 527.91L171.32 527.91Z" fill="none" stroke="#0072BD" stroke-width="1"/>
<path d="M181.82 521.83L185.12 527.91L178.51 527.91Z" fill="none" stroke="#0072BD" stroke-width="1"/>
<path d="M189.01 521.83L192.32 527.91L185.71 527.91Z" fill="none" stroke="#0072BD" stroke-width="1"/>
<path d="M196.21 521.83L199.51 527.91L192.9 527.91Z" fill="none" stroke="#0072BD" stroke-width="1"/>
<path d="M203.4 521.83L206.71 527.91L200.1 527.91Z" fill="none" stroke="#0072BD" stroke-width="1"/>
<path d="M210.6 521.83L213.9 527.91L207.3 527.91Z" fill="none" stroke="#0072BD" stroke-width="1"/>
<polyline points="30.7,410.78 37.9,471.84 45.09,489.97 52.29,502.42 59.48,509.46 66.68,513.61 73.88,515.59 81.07,517.12 88.27,518.39 95.46,519.38 102.66,520.55 109.86,520.55 117.05,520.55 124.25,520.55 131.44,525.69 138.64,525.69 145.84,525.69 153.03,525.69 160.23,525.69 167.42,525.69 174.62,525.69 181.82,525.69 189.01,525.69 196.21,525.69 203.4,525.69 210.6,525.69" fill="none" stroke="#D95319" stroke-width="1.05"/>
<circle cx="30.7" cy="410.78" r="2.85" fill="none" stroke="#D95319" stroke-width="1"/>
<circle cx="37.9" cy="471.84" r="2.85" fill="none" stroke="#D95319" stroke-width="1"/>
<circle cx="45.09" cy="489.97" r="2.85" fill="none" stroke="#D95319" stroke-width="1"/>
<circle cx="52.29" cy="502.42" r="2.85" fill="none" stroke="#D95319" stroke-width="1"/>
<circle cx="59.48" cy="509.46" r="2.85" fill="none" stroke="#D95319" stroke-width="1"/>
<circle cx="66.68" cy="513.61" r="2.85" fill="none" stroke="#D95319" stroke-width="1"/>
<circle cx="73.88" cy="515.59" r="2.85" fill="none" stroke="#D95319" stroke-width="1"/>
<circle cx="81.07" cy="517.12" r="2.85" fill="none" stroke="#D95319" stroke-width="1"/>
<circle cx="88.27" cy="518.39" r="2.85" fill="none" stroke="#D95319" stroke-width="1"/>
<circle cx="95.46" cy="519.38" r="2.85" fill="none" stroke="#D95319" stroke-width="1"/>
<circle cx="102.66" cy="520.55" r="2.85" fill="none" stroke="#D95319" stroke-width="1"/>
<circle cx="109.86" cy="520.55" r="2.85" fill="none" stroke="#D95319" stroke-width="1"/>
<circle cx="117.05" cy="520.55" r="2.85" fill="none" stroke="#D95319" stroke-width="1"/>
<circle cx="124.25" cy="520.55" r="2.85" fill="none" stroke="#D95319" stroke-width="1"/>
<circle cx="131.44" cy="525.69" r="2.85" fill="none" stroke="#D95319" stroke-width="1"/>
<circle cx="138.64" cy="525.69" r="2.85" fill="none" stroke="#D95319" stroke-width="1"/>
<circle cx="145.84" cy="525.69" r="2.85" fill="none" stroke="#D95319" stroke-width="1"/>
<circle cx="153.03" cy="525.69" r="2.85" fill="none" stroke="#D95319" stroke-width="1"/>
<circle cx="160.23" cy="525.69" r="2.85" fill="none" stroke="#D95319" stroke-width="1"/>
<circle cx="167.42" cy="525.69" r="2.85" fill="none" stroke="#D95319" stroke-width="1"/>
<circle cx="174.62" cy="525.69" r="2.85" fill="none" stroke="#D95319" stroke-width="1"/>
<circle cx="181.82" cy="525.69" r="2.85" fill="none" stroke="#D95319" stroke-width="1"/>
<circle cx="189.01" cy="525.69" r="2.85" fill="none" stroke="#D95319" stroke-width="1"/>
<circle cx="196.21" cy="525.69" r="2.85" fill="none" stroke="#D95319" stroke-width="1"/>
<circle cx="203.4" cy="525.69" r="2.85" fill="none" stroke="#D95319" stroke-width="1"/>
<circle cx="210.6" cy="525.69" r="2.85" fill="none" stroke="#D95319" stroke-width="1"/>
<polyline points="30.7,412.94 37.9,467.78 45.09,489.43 52.29,503.32 59.48,510 66.68,514.96 73.88,517.75 81.07,520.01 88.27,522.81 95.46,523.89 102.66,525.24 109.86,526.68 117.05,526.79 124.25,526.89 131.44,526.99 138.64,527.1 145.84,527.2 153.03,527.3 160.23,527.41 167.42,527.51 174.62,527.61 181.82,527.72 189.01,527.82 196.21,527.92 203.4,528.02 210.6,528.13" fill="none" stroke="#EDB120" stroke-width="1.05"/>
<rect x="28.16" y="410.41" width="5.07" height="5.07" fill="none" stroke="#EDB120" stroke-width="1"/>
<rect x="35.36" y="465.25" width="5.07" height="5.07" fill="none" stroke="#EDB120" stroke-width="1"/>
<rect x="42.55" y="486.89" width="5.07" height="5.07" fill="none" stroke="#EDB120" stroke-width="1"/>
<rect x="49.75" y="500.79" width="5.07" height="5.07" fill="none" stroke="#EDB120" stroke-width="1"/>
<rect x="56.95" y="507.46" width="5.07" height="5.07" fill="none" stroke="#EDB120" stroke-width="1"/>
<rect x="64.14" y="512.42" width="5.07" height="5.07" fill="none" stroke="#EDB120" stroke-width="1"/>
<rect x="71.34" y="515.22" width="5.07" height="5.07" fill="none" stroke="#EDB120" stroke-width="1"/>
<rect x="78.53" y="517.47" width="5.07" height="5.07" fill="none" stroke="#EDB120" stroke-width="1"/>
<rect x="85.73" y="520.27" width="5.07" height="5.07" fill="none" stroke="#EDB120" stroke-width="1"/>
<rect x="92.93" y="521.35" width="5.07" height="5.07" fill="none" stroke="#EDB120" stroke-width="1"/>
<rect x="100.12" y="522.7" width="5.07" height="5.07" fill="none" stroke="#EDB120" stroke-width="1"/>
<rect x="107.32" y="524.15" width="5.07" height="5.07" fill="none" stroke="#EDB120" stroke-width="1"/>
<rect x="114.52" y="524.25" width="5.07" height="5.07" fill="none" stroke="#EDB120" stroke-width="1"/>
<rect x="121.71" y="524.35" width="5.07" height="5.07" fill="none" stroke="#EDB120" stroke-width="1"/>
<rect x="128.91" y="524.46" width="5.07" height="5.07" fill="none" stroke="#EDB120" stroke-width="1"/>
<rect x="136.1" y="524.56" width="5.07" height="5.07" fill="none" stroke="#EDB120" stroke-width="1"/>
<rect x="143.3" y="524.66" width="5.07" height="5.07" fill="none" stroke="#EDB120" stroke-width="1"/>
<rect x="150.5" y="524.77" width="5.07" height="5.07" fill="none" stroke="#EDB120" stroke-width="1"/>
<rect x="157.69" y="524.87" width="5.07" height="5.07" fill="none" stroke="#EDB120" stroke-width="1"/>
<rect x="164.89" y="524.97" width="5.07" height="5.07" fill="none" stroke="#EDB120" stroke-width="1"/>
<rect x="172.08" y="525.07" width="5.07" height="5.07" fill="none" stroke="#EDB120" stroke-width="1"/>
<rect x="179.28" y="525.18" width="5.07" height="5.07" fill="none" stroke="#EDB120" stroke-width="1"/>
<rect x="186.47" y="525.28" width="5.07" height="5.07" fill="none" stroke="#EDB120" stroke-width="1"/>
<rect x="193.67" y="525.38" width="5.07" height="5.07" fill="none" stroke="#EDB120" stroke-width="1"/>
<rect x="200.87" y="525.49" width="5.07" height="5.07" fill="none" stroke="#EDB120" stroke-width="1"/>
<rect x="208.06" y="525.59" width="5.07" height="5.07" fill="none" stroke="#EDB120" stroke-width="1"/>
<text x="120.65" y="390.2" text-anchor="middle" class="lb">TaskNum=30 CoreNum=9 ModeNum=5</text>
<text x="120.65" y="552.3" text-anchor="middle" class="lb">Number of iterations</text>
<text transform="translate(9.3,461.65) rotate(-90)" text-anchor="middle" class="lb">Fitness value</text>
<rect x="101.4" y="399" width="104.2" height="33.2" fill="#fff" stroke="#a8a8a8" stroke-width="0.8"/>
<line x1="103.1" y1="404.9" x2="118.9" y2="404.9" stroke="#0072BD" stroke-width="1.05"/>
<path d="M110.7 401.13L114 407.21L107.4 407.21Z" fill="none" stroke="#0072BD" stroke-width="1"/>
<text x="120.7" y="407.9" class="lb">MCCGA</text>
<line x1="103.1" y1="415.7" x2="118.9" y2="415.7" stroke="#D95319" stroke-width="1.05"/>
<circle cx="110.7" cy="415.7" r="2.85" fill="none" stroke="#D95319" stroke-width="1"/>
<text x="120.7" y="418.7" class="lb">MCCGA (GAP=10)</text>
<line x1="103.1" y1="426.5" x2="118.9" y2="426.5" stroke="#EDB120" stroke-width="1.05"/>
<rect x="108.16" y="423.96" width="5.07" height="5.07" fill="none" stroke="#EDB120" stroke-width="1"/>
<text x="120.7" y="429.5" class="lb">MCCGA (GAP=Max)</text>
<line x1="262.7" y1="484.95" x2="442.6" y2="484.95" stroke="#eeeeee" stroke-width="0.8"/>
<line x1="262.7" y1="440.1" x2="442.6" y2="440.1" stroke="#eeeeee" stroke-width="0.8"/>
<line x1="262.7" y1="395.25" x2="442.6" y2="395.25" stroke="#eeeeee" stroke-width="0.8"/>
<path d="M262.7 393.9H442.6V529.8" fill="none" stroke="#cfcfcf" stroke-width="0.8"/>
<path d="M262.7 393.9V529.8" fill="none" stroke="#bcbcbc" stroke-width="0.9"/>
<path d="M262.7 529.8H442.6" fill="none" stroke="#9c9c9c" stroke-width="0.9"/>
<line x1="262.7" y1="529.8" x2="264.5" y2="529.8" stroke="#8a8a8a" stroke-width="0.8"/>
<text x="244.86" y="533.1" textLength="14.04" lengthAdjust="spacingAndGlyphs" class="tk">100</text>
<line x1="262.7" y1="484.95" x2="264.5" y2="484.95" stroke="#8a8a8a" stroke-width="0.8"/>
<text x="244.86" y="488.25" textLength="14.04" lengthAdjust="spacingAndGlyphs" class="tk">150</text>
<line x1="262.7" y1="440.1" x2="264.5" y2="440.1" stroke="#8a8a8a" stroke-width="0.8"/>
<text x="244.86" y="443.4" textLength="14.04" lengthAdjust="spacingAndGlyphs" class="tk">200</text>
<line x1="262.7" y1="395.25" x2="264.5" y2="395.25" stroke="#8a8a8a" stroke-width="0.8"/>
<text x="244.86" y="398.55" textLength="14.04" lengthAdjust="spacingAndGlyphs" class="tk">250</text>
<line x1="262.7" y1="529.8" x2="262.7" y2="528" stroke="#8a8a8a" stroke-width="0.8"/>
<text x="260.36" y="542.3" textLength="4.68" lengthAdjust="spacingAndGlyphs" class="tk">0</text>
<line x1="298.68" y1="529.8" x2="298.68" y2="528" stroke="#8a8a8a" stroke-width="0.8"/>
<text x="294" y="542.3" textLength="9.36" lengthAdjust="spacingAndGlyphs" class="tk">50</text>
<line x1="334.66" y1="529.8" x2="334.66" y2="528" stroke="#8a8a8a" stroke-width="0.8"/>
<text x="327.64" y="542.3" textLength="14.04" lengthAdjust="spacingAndGlyphs" class="tk">100</text>
<line x1="370.64" y1="529.8" x2="370.64" y2="528" stroke="#8a8a8a" stroke-width="0.8"/>
<text x="363.62" y="542.3" textLength="14.04" lengthAdjust="spacingAndGlyphs" class="tk">150</text>
<line x1="406.62" y1="529.8" x2="406.62" y2="528" stroke="#8a8a8a" stroke-width="0.8"/>
<text x="399.6" y="542.3" textLength="14.04" lengthAdjust="spacingAndGlyphs" class="tk">200</text>
<line x1="442.6" y1="529.8" x2="442.6" y2="528" stroke="#8a8a8a" stroke-width="0.8"/>
<text x="435.58" y="542.3" textLength="14.04" lengthAdjust="spacingAndGlyphs" class="tk">250</text>
<polyline points="262.7,393.99 269.9,446.47 277.09,471.58 284.29,488.9 291.48,500.65 298.68,510.33 305.88,516.79 313.07,520.47 320.27,523.79 327.46,526.57 334.66,526.57 341.86,526.57 349.05,526.57 356.25,526.57 363.44,528.54 370.64,528.54 377.84,528.54 385.03,528.54 392.23,528.54 399.42,528.54 406.62,528.54 413.82,528.54 421.01,528.54 428.21,528.54 435.4,528.54 442.6,528.54" fill="none" stroke="#0072BD" stroke-width="1.05"/>
<path d="M262.7 390.22L266 396.3L259.4 396.3Z" fill="none" stroke="#0072BD" stroke-width="1"/>
<path d="M269.9 442.7L273.2 448.78L266.59 448.78Z" fill="none" stroke="#0072BD" stroke-width="1"/>
<path d="M277.09 467.81L280.4 473.89L273.79 473.89Z" fill="none" stroke="#0072BD" stroke-width="1"/>
<path d="M284.29 485.13L287.59 491.21L280.98 491.21Z" fill="none" stroke="#0072BD" stroke-width="1"/>
<path d="M291.48 496.88L294.79 502.96L288.18 502.96Z" fill="none" stroke="#0072BD" stroke-width="1"/>
<path d="M298.68 506.57L301.98 512.64L295.38 512.64Z" fill="none" stroke="#0072BD" stroke-width="1"/>
<path d="M305.88 513.02L309.18 519.1L302.57 519.1Z" fill="none" stroke="#0072BD" stroke-width="1"/>
<path d="M313.07 516.7L316.38 522.78L309.77 522.78Z" fill="none" stroke="#0072BD" stroke-width="1"/>
<path d="M320.27 520.02L323.57 526.1L316.96 526.1Z" fill="none" stroke="#0072BD" stroke-width="1"/>
<path d="M327.46 522.8L330.77 528.88L324.16 528.88Z" fill="none" stroke="#0072BD" stroke-width="1"/>
<path d="M334.66 522.8L337.96 528.88L331.36 528.88Z" fill="none" stroke="#0072BD" stroke-width="1"/>
<path d="M341.86 522.8L345.16 528.88L338.55 528.88Z" fill="none" stroke="#0072BD" stroke-width="1"/>
<path d="M349.05 522.8L352.36 528.88L345.75 528.88Z" fill="none" stroke="#0072BD" stroke-width="1"/>
<path d="M356.25 522.8L359.55 528.88L352.94 528.88Z" fill="none" stroke="#0072BD" stroke-width="1"/>
<path d="M363.44 524.77L366.75 530.85L360.14 530.85Z" fill="none" stroke="#0072BD" stroke-width="1"/>
<path d="M370.64 524.77L373.94 530.85L367.34 530.85Z" fill="none" stroke="#0072BD" stroke-width="1"/>
<path d="M377.84 524.77L381.14 530.85L374.53 530.85Z" fill="none" stroke="#0072BD" stroke-width="1"/>
<path d="M385.03 524.77L388.34 530.85L381.73 530.85Z" fill="none" stroke="#0072BD" stroke-width="1"/>
<path d="M392.23 524.77L395.53 530.85L388.92 530.85Z" fill="none" stroke="#0072BD" stroke-width="1"/>
<path d="M399.42 524.77L402.73 530.85L396.12 530.85Z" fill="none" stroke="#0072BD" stroke-width="1"/>
<path d="M406.62 524.77L409.92 530.85L403.32 530.85Z" fill="none" stroke="#0072BD" stroke-width="1"/>
<path d="M413.82 524.77L417.12 530.85L410.51 530.85Z" fill="none" stroke="#0072BD" stroke-width="1"/>
<path d="M421.01 524.77L424.32 530.85L417.71 530.85Z" fill="none" stroke="#0072BD" stroke-width="1"/>
<path d="M428.21 524.77L431.51 530.85L424.9 530.85Z" fill="none" stroke="#0072BD" stroke-width="1"/>
<path d="M435.4 524.77L438.71 530.85L432.1 530.85Z" fill="none" stroke="#0072BD" stroke-width="1"/>
<path d="M442.6 524.77L445.9 530.85L439.3 530.85Z" fill="none" stroke="#0072BD" stroke-width="1"/>
<polyline points="262.7,394.71 269.9,473.02 277.09,498.67 284.29,510.33 291.48,517.42 298.68,519.66 305.88,523.79 313.07,525.14 320.27,526.21 327.46,527.11 334.66,528.54 341.86,528.54 349.05,528.54 356.25,528.54 363.44,528.54 370.64,528.54 377.84,528.54 385.03,528.54 392.23,528.54 399.42,528.54 406.62,528.54 413.82,528.54 421.01,528.54 428.21,528.54 435.4,528.54 442.6,528.54" fill="none" stroke="#D95319" stroke-width="1.05"/>
<circle cx="262.7" cy="394.71" r="2.85" fill="none" stroke="#D95319" stroke-width="1"/>
<circle cx="269.9" cy="473.02" r="2.85" fill="none" stroke="#D95319" stroke-width="1"/>
<circle cx="277.09" cy="498.67" r="2.85" fill="none" stroke="#D95319" stroke-width="1"/>
<circle cx="284.29" cy="510.33" r="2.85" fill="none" stroke="#D95319" stroke-width="1"/>
<circle cx="291.48" cy="517.42" r="2.85" fill="none" stroke="#D95319" stroke-width="1"/>
<circle cx="298.68" cy="519.66" r="2.85" fill="none" stroke="#D95319" stroke-width="1"/>
<circle cx="305.88" cy="523.79" r="2.85" fill="none" stroke="#D95319" stroke-width="1"/>
<circle cx="313.07" cy="525.14" r="2.85" fill="none" stroke="#D95319" stroke-width="1"/>
<circle cx="320.27" cy="526.21" r="2.85" fill="none" stroke="#D95319" stroke-width="1"/>
<circle cx="327.46" cy="527.11" r="2.85" fill="none" stroke="#D95319" stroke-width="1"/>
<circle cx="334.66" cy="528.54" r="2.85" fill="none" stroke="#D95319" stroke-width="1"/>
<circle cx="341.86" cy="528.54" r="2.85" fill="none" stroke="#D95319" stroke-width="1"/>
<circle cx="349.05" cy="528.54" r="2.85" fill="none" stroke="#D95319" stroke-width="1"/>
<circle cx="356.25" cy="528.54" r="2.85" fill="none" stroke="#D95319" stroke-width="1"/>
<circle cx="363.44" cy="528.54" r="2.85" fill="none" stroke="#D95319" stroke-width="1"/>
<circle cx="370.64" cy="528.54" r="2.85" fill="none" stroke="#D95319" stroke-width="1"/>
<circle cx="377.84" cy="528.54" r="2.85" fill="none" stroke="#D95319" stroke-width="1"/>
<circle cx="385.03" cy="528.54" r="2.85" fill="none" stroke="#D95319" stroke-width="1"/>
<circle cx="392.23" cy="528.54" r="2.85" fill="none" stroke="#D95319" stroke-width="1"/>
<circle cx="399.42" cy="528.54" r="2.85" fill="none" stroke="#D95319" stroke-width="1"/>
<circle cx="406.62" cy="528.54" r="2.85" fill="none" stroke="#D95319" stroke-width="1"/>
<circle cx="413.82" cy="528.54" r="2.85" fill="none" stroke="#D95319" stroke-width="1"/>
<circle cx="421.01" cy="528.54" r="2.85" fill="none" stroke="#D95319" stroke-width="1"/>
<circle cx="428.21" cy="528.54" r="2.85" fill="none" stroke="#D95319" stroke-width="1"/>
<circle cx="435.4" cy="528.54" r="2.85" fill="none" stroke="#D95319" stroke-width="1"/>
<circle cx="442.6" cy="528.54" r="2.85" fill="none" stroke="#D95319" stroke-width="1"/>
<polyline points="262.7,394.35 269.9,473.02 277.09,498.4 284.29,510.33 291.48,518.14 298.68,521.64 305.88,524.42 313.07,525.76 320.27,528.9 327.46,528.93 334.66,528.96 341.86,528.98 349.05,529.01 356.25,529.03 363.44,529.06 370.64,529.09 377.84,529.11 385.03,529.14 392.23,529.17 399.42,529.19 406.62,529.22 413.82,529.25 421.01,529.27 428.21,529.3 435.4,529.33 442.6,529.35" fill="none" stroke="#EDB120" stroke-width="1.05"/>
<rect x="260.16" y="391.81" width="5.07" height="5.07" fill="none" stroke="#EDB120" stroke-width="1"/>
<rect x="267.36" y="470.48" width="5.07" height="5.07" fill="none" stroke="#EDB120" stroke-width="1"/>
<rect x="274.56" y="495.87" width="5.07" height="5.07" fill="none" stroke="#EDB120" stroke-width="1"/>
<rect x="281.75" y="507.8" width="5.07" height="5.07" fill="none" stroke="#EDB120" stroke-width="1"/>
<rect x="288.95" y="515.6" width="5.07" height="5.07" fill="none" stroke="#EDB120" stroke-width="1"/>
<rect x="296.14" y="519.1" width="5.07" height="5.07" fill="none" stroke="#EDB120" stroke-width="1"/>
<rect x="303.34" y="521.88" width="5.07" height="5.07" fill="none" stroke="#EDB120" stroke-width="1"/>
<rect x="310.54" y="523.23" width="5.07" height="5.07" fill="none" stroke="#EDB120" stroke-width="1"/>
<rect x="317.73" y="526.37" width="5.07" height="5.07" fill="none" stroke="#EDB120" stroke-width="1"/>
<rect x="324.93" y="526.39" width="5.07" height="5.07" fill="none" stroke="#EDB120" stroke-width="1"/>
<rect x="332.12" y="526.42" width="5.07" height="5.07" fill="none" stroke="#EDB120" stroke-width="1"/>
<rect x="339.32" y="526.45" width="5.07" height="5.07" fill="none" stroke="#EDB120" stroke-width="1"/>
<rect x="346.52" y="526.47" width="5.07" height="5.07" fill="none" stroke="#EDB120" stroke-width="1"/>
<rect x="353.71" y="526.5" width="5.07" height="5.07" fill="none" stroke="#EDB120" stroke-width="1"/>
<rect x="360.91" y="526.52" width="5.07" height="5.07" fill="none" stroke="#EDB120" stroke-width="1"/>
<rect x="368.1" y="526.55" width="5.07" height="5.07" fill="none" stroke="#EDB120" stroke-width="1"/>
<rect x="375.3" y="526.58" width="5.07" height="5.07" fill="none" stroke="#EDB120" stroke-width="1"/>
<rect x="382.5" y="526.6" width="5.07" height="5.07" fill="none" stroke="#EDB120" stroke-width="1"/>
<rect x="389.69" y="526.63" width="5.07" height="5.07" fill="none" stroke="#EDB120" stroke-width="1"/>
<rect x="396.89" y="526.66" width="5.07" height="5.07" fill="none" stroke="#EDB120" stroke-width="1"/>
<rect x="404.08" y="526.68" width="5.07" height="5.07" fill="none" stroke="#EDB120" stroke-width="1"/>
<rect x="411.28" y="526.71" width="5.07" height="5.07" fill="none" stroke="#EDB120" stroke-width="1"/>
<rect x="418.48" y="526.74" width="5.07" height="5.07" fill="none" stroke="#EDB120" stroke-width="1"/>
<rect x="425.67" y="526.76" width="5.07" height="5.07" fill="none" stroke="#EDB120" stroke-width="1"/>
<rect x="432.87" y="526.79" width="5.07" height="5.07" fill="none" stroke="#EDB120" stroke-width="1"/>
<rect x="440.06" y="526.81" width="5.07" height="5.07" fill="none" stroke="#EDB120" stroke-width="1"/>
<text x="352.65" y="390.1" text-anchor="middle" class="lb">TaskNum=30 CoreNum=9 ModeNum=10</text>
<text x="352.65" y="552.8" text-anchor="middle" class="lb">Number of iterations</text>
<text transform="translate(241.3,461.85) rotate(-90)" text-anchor="middle" class="lb">Fitness value</text>
<rect x="333.4" y="398.9" width="104.2" height="33.2" fill="#fff" stroke="#a8a8a8" stroke-width="0.8"/>
<line x1="335.1" y1="404.8" x2="350.9" y2="404.8" stroke="#0072BD" stroke-width="1.05"/>
<path d="M342.7 401.03L346 407.11L339.4 407.11Z" fill="none" stroke="#0072BD" stroke-width="1"/>
<text x="352.7" y="407.8" class="lb">MCCGA</text>
<line x1="335.1" y1="415.6" x2="350.9" y2="415.6" stroke="#D95319" stroke-width="1.05"/>
<circle cx="342.7" cy="415.6" r="2.85" fill="none" stroke="#D95319" stroke-width="1"/>
<text x="352.7" y="418.6" class="lb">MCCGA (GAP=10)</text>
<line x1="335.1" y1="426.4" x2="350.9" y2="426.4" stroke="#EDB120" stroke-width="1.05"/>
<rect x="340.16" y="423.86" width="5.07" height="5.07" fill="none" stroke="#EDB120" stroke-width="1"/>
<text x="352.7" y="429.4" class="lb">MCCGA (GAP=Max)</text>
<line x1="495" y1="496" x2="675.1" y2="496" stroke="#eeeeee" stroke-width="0.8"/>
<line x1="495" y1="462.2" x2="675.1" y2="462.2" stroke="#eeeeee" stroke-width="0.8"/>
<line x1="495" y1="428.4" x2="675.1" y2="428.4" stroke="#eeeeee" stroke-width="0.8"/>
<path d="M495 394.6H675.1V529.8" fill="none" stroke="#cfcfcf" stroke-width="0.8"/>
<path d="M495 394.6V529.8" fill="none" stroke="#bcbcbc" stroke-width="0.9"/>
<path d="M495 529.8H675.1" fill="none" stroke="#9c9c9c" stroke-width="0.9"/>
<line x1="495" y1="529.8" x2="496.8" y2="529.8" stroke="#8a8a8a" stroke-width="0.8"/>
<text x="477.16" y="533.1" textLength="14.04" lengthAdjust="spacingAndGlyphs" class="tk">100</text>
<line x1="495" y1="496" x2="496.8" y2="496" stroke="#8a8a8a" stroke-width="0.8"/>
<text x="477.16" y="499.3" textLength="14.04" lengthAdjust="spacingAndGlyphs" class="tk">150</text>
<line x1="495" y1="462.2" x2="496.8" y2="462.2" stroke="#8a8a8a" stroke-width="0.8"/>
<text x="477.16" y="465.5" textLength="14.04" lengthAdjust="spacingAndGlyphs" class="tk">200</text>
<line x1="495" y1="428.4" x2="496.8" y2="428.4" stroke="#8a8a8a" stroke-width="0.8"/>
<text x="477.16" y="431.7" textLength="14.04" lengthAdjust="spacingAndGlyphs" class="tk">250</text>
<line x1="495" y1="394.6" x2="496.8" y2="394.6" stroke="#8a8a8a" stroke-width="0.8"/>
<text x="477.16" y="397.9" textLength="14.04" lengthAdjust="spacingAndGlyphs" class="tk">300</text>
<line x1="495" y1="529.8" x2="495" y2="528" stroke="#8a8a8a" stroke-width="0.8"/>
<text x="492.66" y="542.3" textLength="4.68" lengthAdjust="spacingAndGlyphs" class="tk">0</text>
<line x1="531.02" y1="529.8" x2="531.02" y2="528" stroke="#8a8a8a" stroke-width="0.8"/>
<text x="526.34" y="542.3" textLength="9.36" lengthAdjust="spacingAndGlyphs" class="tk">50</text>
<line x1="567.04" y1="529.8" x2="567.04" y2="528" stroke="#8a8a8a" stroke-width="0.8"/>
<text x="560.02" y="542.3" textLength="14.04" lengthAdjust="spacingAndGlyphs" class="tk">100</text>
<line x1="603.06" y1="529.8" x2="603.06" y2="528" stroke="#8a8a8a" stroke-width="0.8"/>
<text x="596.04" y="542.3" textLength="14.04" lengthAdjust="spacingAndGlyphs" class="tk">150</text>
<line x1="639.08" y1="529.8" x2="639.08" y2="528" stroke="#8a8a8a" stroke-width="0.8"/>
<text x="632.06" y="542.3" textLength="14.04" lengthAdjust="spacingAndGlyphs" class="tk">200</text>
<line x1="675.1" y1="529.8" x2="675.1" y2="528" stroke="#8a8a8a" stroke-width="0.8"/>
<text x="668.08" y="542.3" textLength="14.04" lengthAdjust="spacingAndGlyphs" class="tk">250</text>
<polyline points="495,400.51 502.2,435.82 509.41,457.08 516.61,468.49 523.82,478.21 531.02,485.09 538.22,492.58 545.43,496.77 552.63,499 559.84,504.33 567.04,505.14 574.24,505.14 581.45,507.1 588.65,510.67 595.86,511.21 603.06,512.02 610.26,512.56 617.47,514.32 624.67,514.32 631.88,514.32 639.08,514.32 646.28,514.32 653.49,514.32 660.69,514.32 667.9,514.32 675.1,516.21" fill="none" stroke="#0072BD" stroke-width="1.05"/>
<path d="M495 396.74L498.3 402.82L491.7 402.82Z" fill="none" stroke="#0072BD" stroke-width="1"/>
<path d="M502.2 432.05L505.51 438.13L498.9 438.13Z" fill="none" stroke="#0072BD" stroke-width="1"/>
<path d="M509.41 453.31L512.71 459.39L506.1 459.39Z" fill="none" stroke="#0072BD" stroke-width="1"/>
<path d="M516.61 464.72L519.92 470.8L513.31 470.8Z" fill="none" stroke="#0072BD" stroke-width="1"/>
<path d="M523.82 474.44L527.12 480.52L520.51 480.52Z" fill="none" stroke="#0072BD" stroke-width="1"/>
<path d="M531.02 481.32L534.32 487.4L527.72 487.4Z" fill="none" stroke="#0072BD" stroke-width="1"/>
<path d="M538.22 488.81L541.53 494.89L534.92 494.89Z" fill="none" stroke="#0072BD" stroke-width="1"/>
<path d="M545.43 493L548.73 499.08L542.12 499.08Z" fill="none" stroke="#0072BD" stroke-width="1"/>
<path d="M552.63 495.23L555.94 501.31L549.33 501.31Z" fill="none" stroke="#0072BD" stroke-width="1"/>
<path d="M559.84 500.56L563.14 506.64L556.53 506.64Z" fill="none" stroke="#0072BD" stroke-width="1"/>
<path d="M567.04 501.37L570.34 507.45L563.74 507.45Z" fill="none" stroke="#0072BD" stroke-width="1"/>
<path d="M574.24 501.37L577.55 507.45L570.94 507.45Z" fill="none" stroke="#0072BD" stroke-width="1"/>
<path d="M581.45 503.33L584.75 509.41L578.14 509.41Z" fill="none" stroke="#0072BD" stroke-width="1"/>
<path d="M588.65 506.9L591.96 512.98L585.35 512.98Z" fill="none" stroke="#0072BD" stroke-width="1"/>
<path d="M595.86 507.44L599.16 513.52L592.55 513.52Z" fill="none" stroke="#0072BD" stroke-width="1"/>
<path d="M603.06 508.25L606.36 514.33L599.76 514.33Z" fill="none" stroke="#0072BD" stroke-width="1"/>
<path d="M610.26 508.79L613.57 514.87L606.96 514.87Z" fill="none" stroke="#0072BD" stroke-width="1"/>
<path d="M617.47 510.55L620.77 516.63L614.16 516.63Z" fill="none" stroke="#0072BD" stroke-width="1"/>
<path d="M624.67 510.55L627.98 516.63L621.37 516.63Z" fill="none" stroke="#0072BD" stroke-width="1"/>
<path d="M631.88 510.55L635.18 516.63L628.57 516.63Z" fill="none" stroke="#0072BD" stroke-width="1"/>
<path d="M639.08 510.55L642.38 516.63L635.78 516.63Z" fill="none" stroke="#0072BD" stroke-width="1"/>
<path d="M646.28 510.55L649.59 516.63L642.98 516.63Z" fill="none" stroke="#0072BD" stroke-width="1"/>
<path d="M653.49 510.55L656.79 516.63L650.18 516.63Z" fill="none" stroke="#0072BD" stroke-width="1"/>
<path d="M660.69 510.55L664 516.63L657.39 516.63Z" fill="none" stroke="#0072BD" stroke-width="1"/>
<path d="M667.9 510.55L671.2 516.63L664.59 516.63Z" fill="none" stroke="#0072BD" stroke-width="1"/>
<path d="M675.1 512.44L678.4 518.52L671.8 518.52Z" fill="none" stroke="#0072BD" stroke-width="1"/>
<polyline points="495,400.18 502.2,464.3 509.41,482.93 516.61,496.03 523.82,501.49 531.02,506.49 538.22,509.32 545.43,512.09 552.63,514.05 559.84,514.93 567.04,515.6 574.24,516.61 581.45,516.61 588.65,516.61 595.86,516.61 603.06,516.61 610.26,516.61 617.47,516.61 624.67,518.03 631.88,518.03 639.08,518.03 646.28,518.03 653.49,518.03 660.69,518.03 667.9,518.03 675.1,518.03" fill="none" stroke="#D95319" stroke-width="1.05"/>
<circle cx="495" cy="400.18" r="2.85" fill="none" stroke="#D95319" stroke-width="1"/>
<circle cx="502.2" cy="464.3" r="2.85" fill="none" stroke="#D95319" stroke-width="1"/>
<circle cx="509.41" cy="482.93" r="2.85" fill="none" stroke="#D95319" stroke-width="1"/>
<circle cx="516.61" cy="496.03" r="2.85" fill="none" stroke="#D95319" stroke-width="1"/>
<circle cx="523.82" cy="501.49" r="2.85" fill="none" stroke="#D95319" stroke-width="1"/>
<circle cx="531.02" cy="506.49" r="2.85" fill="none" stroke="#D95319" stroke-width="1"/>
<circle cx="538.22" cy="509.32" r="2.85" fill="none" stroke="#D95319" stroke-width="1"/>
<circle cx="545.43" cy="512.09" r="2.85" fill="none" stroke="#D95319" stroke-width="1"/>
<circle cx="552.63" cy="514.05" r="2.85" fill="none" stroke="#D95319" stroke-width="1"/>
<circle cx="559.84" cy="514.93" r="2.85" fill="none" stroke="#D95319" stroke-width="1"/>
<circle cx="567.04" cy="515.6" r="2.85" fill="none" stroke="#D95319" stroke-width="1"/>
<circle cx="574.24" cy="516.61" r="2.85" fill="none" stroke="#D95319" stroke-width="1"/>
<circle cx="581.45" cy="516.61" r="2.85" fill="none" stroke="#D95319" stroke-width="1"/>
<circle cx="588.65" cy="516.61" r="2.85" fill="none" stroke="#D95319" stroke-width="1"/>
<circle cx="595.86" cy="516.61" r="2.85" fill="none" stroke="#D95319" stroke-width="1"/>
<circle cx="603.06" cy="516.61" r="2.85" fill="none" stroke="#D95319" stroke-width="1"/>
<circle cx="610.26" cy="516.61" r="2.85" fill="none" stroke="#D95319" stroke-width="1"/>
<circle cx="617.47" cy="516.61" r="2.85" fill="none" stroke="#D95319" stroke-width="1"/>
<circle cx="624.67" cy="518.03" r="2.85" fill="none" stroke="#D95319" stroke-width="1"/>
<circle cx="631.88" cy="518.03" r="2.85" fill="none" stroke="#D95319" stroke-width="1"/>
<circle cx="639.08" cy="518.03" r="2.85" fill="none" stroke="#D95319" stroke-width="1"/>
<circle cx="646.28" cy="518.03" r="2.85" fill="none" stroke="#D95319" stroke-width="1"/>
<circle cx="653.49" cy="518.03" r="2.85" fill="none" stroke="#D95319" stroke-width="1"/>
<circle cx="660.69" cy="518.03" r="2.85" fill="none" stroke="#D95319" stroke-width="1"/>
<circle cx="667.9" cy="518.03" r="2.85" fill="none" stroke="#D95319" stroke-width="1"/>
<circle cx="675.1" cy="518.03" r="2.85" fill="none" stroke="#D95319" stroke-width="1"/>
<polyline points="495,403.42 502.2,464.3 509.41,482.93 516.61,498.19 523.82,503.72 531.02,509.32 538.22,512.23 545.43,514.25 552.63,516.27 559.84,517.62 567.04,517.62 574.24,517.62 581.45,517.62 588.65,517.62 595.86,517.62 603.06,517.62 610.26,517.62 617.47,521 624.67,521 631.88,521 639.08,521 646.28,521 653.49,521 660.69,521 667.9,521 675.1,521" fill="none" stroke="#EDB120" stroke-width="1.05"/>
<rect x="492.46" y="400.88" width="5.07" height="5.07" fill="none" stroke="#EDB120" stroke-width="1"/>
<rect x="499.67" y="461.76" width="5.07" height="5.07" fill="none" stroke="#EDB120" stroke-width="1"/>
<rect x="506.87" y="480.39" width="5.07" height="5.07" fill="none" stroke="#EDB120" stroke-width="1"/>
<rect x="514.07" y="495.65" width="5.07" height="5.07" fill="none" stroke="#EDB120" stroke-width="1"/>
<rect x="521.28" y="501.18" width="5.07" height="5.07" fill="none" stroke="#EDB120" stroke-width="1"/>
<rect x="528.48" y="506.79" width="5.07" height="5.07" fill="none" stroke="#EDB120" stroke-width="1"/>
<rect x="535.69" y="509.69" width="5.07" height="5.07" fill="none" stroke="#EDB120" stroke-width="1"/>
<rect x="542.89" y="511.71" width="5.07" height="5.07" fill="none" stroke="#EDB120" stroke-width="1"/>
<rect x="550.1" y="513.74" width="5.07" height="5.07" fill="none" stroke="#EDB120" stroke-width="1"/>
<rect x="557.3" y="515.09" width="5.07" height="5.07" fill="none" stroke="#EDB120" stroke-width="1"/>
<rect x="564.5" y="515.09" width="5.07" height="5.07" fill="none" stroke="#EDB120" stroke-width="1"/>
<rect x="571.71" y="515.09" width="5.07" height="5.07" fill="none" stroke="#EDB120" stroke-width="1"/>
<rect x="578.91" y="515.09" width="5.07" height="5.07" fill="none" stroke="#EDB120" stroke-width="1"/>
<rect x="586.12" y="515.09" width="5.07" height="5.07" fill="none" stroke="#EDB120" stroke-width="1"/>
<rect x="593.32" y="515.09" width="5.07" height="5.07" fill="none" stroke="#EDB120" stroke-width="1"/>
<rect x="600.52" y="515.09" width="5.07" height="5.07" fill="none" stroke="#EDB120" stroke-width="1"/>
<rect x="607.73" y="515.09" width="5.07" height="5.07" fill="none" stroke="#EDB120" stroke-width="1"/>
<rect x="614.93" y="518.46" width="5.07" height="5.07" fill="none" stroke="#EDB120" stroke-width="1"/>
<rect x="622.13" y="518.46" width="5.07" height="5.07" fill="none" stroke="#EDB120" stroke-width="1"/>
<rect x="629.34" y="518.46" width="5.07" height="5.07" fill="none" stroke="#EDB120" stroke-width="1"/>
<rect x="636.54" y="518.46" width="5.07" height="5.07" fill="none" stroke="#EDB120" stroke-width="1"/>
<rect x="643.75" y="518.46" width="5.07" height="5.07" fill="none" stroke="#EDB120" stroke-width="1"/>
<rect x="650.95" y="518.46" width="5.07" height="5.07" fill="none" stroke="#EDB120" stroke-width="1"/>
<rect x="658.15" y="518.46" width="5.07" height="5.07" fill="none" stroke="#EDB120" stroke-width="1"/>
<rect x="665.36" y="518.46" width="5.07" height="5.07" fill="none" stroke="#EDB120" stroke-width="1"/>
<rect x="672.56" y="518.46" width="5.07" height="5.07" fill="none" stroke="#EDB120" stroke-width="1"/>
<text x="585.05" y="390.8" text-anchor="middle" class="lb">TaskNum=30 CoreNum=9 ModeNum=15</text>
<text x="585.05" y="552.8" text-anchor="middle" class="lb">Number of iterations</text>
<text transform="translate(473.6,462.2) rotate(-90)" text-anchor="middle" class="lb">Fitness value</text>
<rect x="565.9" y="399.6" width="104.2" height="33.2" fill="#fff" stroke="#a8a8a8" stroke-width="0.8"/>
<line x1="567.6" y1="405.5" x2="583.4" y2="405.5" stroke="#0072BD" stroke-width="1.05"/>
<path d="M575.2 401.73L578.5 407.81L571.9 407.81Z" fill="none" stroke="#0072BD" stroke-width="1"/>
<text x="585.2" y="408.5" class="lb">MCCGA</text>
<line x1="567.6" y1="416.3" x2="583.4" y2="416.3" stroke="#D95319" stroke-width="1.05"/>
<circle cx="575.2" cy="416.3" r="2.85" fill="none" stroke="#D95319" stroke-width="1"/>
<text x="585.2" y="419.3" class="lb">MCCGA (GAP=10)</text>
<line x1="567.6" y1="427.1" x2="583.4" y2="427.1" stroke="#EDB120" stroke-width="1.05"/>
<rect x="572.66" y="424.56" width="5.07" height="5.07" fill="none" stroke="#EDB120" stroke-width="1"/>
<text x="585.2" y="430.1" class="lb">MCCGA (GAP=Max)</text>
<line x1="30.7" y1="693.28" x2="210.6" y2="693.28" stroke="#eeeeee" stroke-width="0.8"/>
<line x1="30.7" y1="666.06" x2="210.6" y2="666.06" stroke="#eeeeee" stroke-width="0.8"/>
<line x1="30.7" y1="638.84" x2="210.6" y2="638.84" stroke="#eeeeee" stroke-width="0.8"/>
<line x1="30.7" y1="611.62" x2="210.6" y2="611.62" stroke="#eeeeee" stroke-width="0.8"/>
<path d="M30.7 584.4H210.6V720.5" fill="none" stroke="#cfcfcf" stroke-width="0.8"/>
<path d="M30.7 584.4V720.5" fill="none" stroke="#bcbcbc" stroke-width="0.9"/>
<path d="M30.7 720.5H210.6" fill="none" stroke="#9c9c9c" stroke-width="0.9"/>
<line x1="30.7" y1="720.5" x2="32.5" y2="720.5" stroke="#8a8a8a" stroke-width="0.8"/>
<text x="12.86" y="723.8" textLength="14.04" lengthAdjust="spacingAndGlyphs" class="tk">100</text>
<line x1="30.7" y1="693.28" x2="32.5" y2="693.28" stroke="#8a8a8a" stroke-width="0.8"/>
<text x="12.86" y="696.58" textLength="14.04" lengthAdjust="spacingAndGlyphs" class="tk">150</text>
<line x1="30.7" y1="666.06" x2="32.5" y2="666.06" stroke="#8a8a8a" stroke-width="0.8"/>
<text x="12.86" y="669.36" textLength="14.04" lengthAdjust="spacingAndGlyphs" class="tk">200</text>
<line x1="30.7" y1="638.84" x2="32.5" y2="638.84" stroke="#8a8a8a" stroke-width="0.8"/>
<text x="12.86" y="642.14" textLength="14.04" lengthAdjust="spacingAndGlyphs" class="tk">250</text>
<line x1="30.7" y1="611.62" x2="32.5" y2="611.62" stroke="#8a8a8a" stroke-width="0.8"/>
<text x="12.86" y="614.92" textLength="14.04" lengthAdjust="spacingAndGlyphs" class="tk">300</text>
<line x1="30.7" y1="584.4" x2="32.5" y2="584.4" stroke="#8a8a8a" stroke-width="0.8"/>
<text x="12.86" y="587.7" textLength="14.04" lengthAdjust="spacingAndGlyphs" class="tk">350</text>
<line x1="30.7" y1="720.5" x2="30.7" y2="718.7" stroke="#8a8a8a" stroke-width="0.8"/>
<text x="28.36" y="733" textLength="4.68" lengthAdjust="spacingAndGlyphs" class="tk">0</text>
<line x1="66.68" y1="720.5" x2="66.68" y2="718.7" stroke="#8a8a8a" stroke-width="0.8"/>
<text x="62" y="733" textLength="9.36" lengthAdjust="spacingAndGlyphs" class="tk">50</text>
<line x1="102.66" y1="720.5" x2="102.66" y2="718.7" stroke="#8a8a8a" stroke-width="0.8"/>
<text x="95.64" y="733" textLength="14.04" lengthAdjust="spacingAndGlyphs" class="tk">100</text>
<line x1="138.64" y1="720.5" x2="138.64" y2="718.7" stroke="#8a8a8a" stroke-width="0.8"/>
<text x="131.62" y="733" textLength="14.04" lengthAdjust="spacingAndGlyphs" class="tk">150</text>
<line x1="174.62" y1="720.5" x2="174.62" y2="718.7" stroke="#8a8a8a" stroke-width="0.8"/>
<text x="167.6" y="733" textLength="14.04" lengthAdjust="spacingAndGlyphs" class="tk">200</text>
<line x1="210.6" y1="720.5" x2="210.6" y2="718.7" stroke="#8a8a8a" stroke-width="0.8"/>
<text x="203.58" y="733" textLength="14.04" lengthAdjust="spacingAndGlyphs" class="tk">250</text>
<polyline points="30.7,608.24 37.9,644.77 45.09,664.86 52.29,677.33 59.48,684.79 66.68,691.16 73.88,695.24 81.07,698.02 88.27,700.19 95.46,702.1 102.66,703.46 109.86,704.88 117.05,704.88 124.25,704.88 131.44,704.88 138.64,704.88 145.84,706.35 153.03,706.56 160.23,706.77 167.42,706.98 174.62,707.19 181.82,707.4 189.01,707.62 196.21,707.83 203.4,708.04 210.6,708.25" fill="none" stroke="#0072BD" stroke-width="1.05"/>
<path d="M30.7 604.48L34 610.55L27.4 610.55Z" fill="none" stroke="#0072BD" stroke-width="1"/>
<path d="M37.9 641L41.2 647.08L34.59 647.08Z" fill="none" stroke="#0072BD" stroke-width="1"/>
<path d="M45.09 661.09L48.4 667.17L41.79 667.17Z" fill="none" stroke="#0072BD" stroke-width="1"/>
<path d="M52.29 673.56L55.59 679.64L48.98 679.64Z" fill="none" stroke="#0072BD" stroke-width="1"/>
<path d="M59.48 681.02L62.79 687.1L56.18 687.1Z" fill="none" stroke="#0072BD" stroke-width="1"/>
<path d="M66.68 687.39L69.98 693.47L63.38 693.47Z" fill="none" stroke="#0072BD" stroke-width="1"/>
<path d="M73.88 691.47L77.18 697.55L70.57 697.55Z" fill="none" stroke="#0072BD" stroke-width="1"/>
<path d="M81.07 694.25L84.38 700.33L77.77 700.33Z" fill="none" stroke="#0072BD" stroke-width="1"/>
<path d="M88.27 696.42L91.57 702.5L84.96 702.5Z" fill="none" stroke="#0072BD" stroke-width="1"/>
<path d="M95.46 698.33L98.77 704.41L92.16 704.41Z" fill="none" stroke="#0072BD" stroke-width="1"/>
<path d="M102.66 699.69L105.96 705.77L99.36 705.77Z" fill="none" stroke="#0072BD" stroke-width="1"/>
<path d="M109.86 701.11L113.16 707.19L106.55 707.19Z" fill="none" stroke="#0072BD" stroke-width="1"/>
<path d="M117.05 701.11L120.36 707.19L113.75 707.19Z" fill="none" stroke="#0072BD" stroke-width="1"/>
<path d="M124.25 701.11L127.55 707.19L120.94 707.19Z" fill="none" stroke="#0072BD" stroke-width="1"/>
<path d="M131.44 701.11L134.75 707.19L128.14 707.19Z" fill="none" stroke="#0072BD" stroke-width="1"/>
<path d="M138.64 701.11L141.94 707.19L135.34 707.19Z" fill="none" stroke="#0072BD" stroke-width="1"/>
<path d="M145.84 702.58L149.14 708.66L142.53 708.66Z" fill="none" stroke="#0072BD" stroke-width="1"/>
<path d="M153.03 702.79L156.34 708.87L149.73 708.87Z" fill="none" stroke="#0072BD" stroke-width="1"/>
<path d="M160.23 703L163.53 709.08L156.92 709.08Z" fill="none" stroke="#0072BD" stroke-width="1"/>
<path d="M167.42 703.21L170.73 709.29L164.12 709.29Z" fill="none" stroke="#0072BD" stroke-width="1"/>
<path d="M174.62 703.42L177.92 709.5L171.32 709.5Z" fill="none" stroke="#0072BD" stroke-width="1"/>
<path d="M181.82 703.63L185.12 709.71L178.51 709.71Z" fill="none" stroke="#0072BD" stroke-width="1"/>
<path d="M189.01 703.85L192.32 709.93L185.71 709.93Z" fill="none" stroke="#0072BD" stroke-width="1"/>
<path d="M196.21 704.06L199.51 710.14L192.9 710.14Z" fill="none" stroke="#0072BD" stroke-width="1"/>
<path d="M203.4 704.27L206.71 710.35L200.1 710.35Z" fill="none" stroke="#0072BD" stroke-width="1"/>
<path d="M210.6 704.48L213.9 710.56L207.3 710.56Z" fill="none" stroke="#0072BD" stroke-width="1"/>
<polyline points="30.7,608.24 37.9,659.36 45.09,675.91 52.29,684.19 59.48,689.74 66.68,692.46 73.88,695.24 81.07,697.42 88.27,698.78 95.46,700.19 102.66,701.28 109.86,702.7 117.05,702.85 124.25,703.01 131.44,703.16 138.64,703.32 145.84,703.48 153.03,703.63 160.23,703.79 167.42,703.94 174.62,704.1 181.82,704.25 189.01,704.41 196.21,704.56 203.4,704.72 210.6,704.88" fill="none" stroke="#D95319" stroke-width="1.05"/>
<circle cx="30.7" cy="608.24" r="2.85" fill="none" stroke="#D95319" stroke-width="1"/>
<circle cx="37.9" cy="659.36" r="2.85" fill="none" stroke="#D95319" stroke-width="1"/>
<circle cx="45.09" cy="675.91" r="2.85" fill="none" stroke="#D95319" stroke-width="1"/>
<circle cx="52.29" cy="684.19" r="2.85" fill="none" stroke="#D95319" stroke-width="1"/>
<circle cx="59.48" cy="689.74" r="2.85" fill="none" stroke="#D95319" stroke-width="1"/>
<circle cx="66.68" cy="692.46" r="2.85" fill="none" stroke="#D95319" stroke-width="1"/>
<circle cx="73.88" cy="695.24" r="2.85" fill="none" stroke="#D95319" stroke-width="1"/>
<circle cx="81.07" cy="697.42" r="2.85" fill="none" stroke="#D95319" stroke-width="1"/>
<circle cx="88.27" cy="698.78" r="2.85" fill="none" stroke="#D95319" stroke-width="1"/>
<circle cx="95.46" cy="700.19" r="2.85" fill="none" stroke="#D95319" stroke-width="1"/>
<circle cx="102.66" cy="701.28" r="2.85" fill="none" stroke="#D95319" stroke-width="1"/>
<circle cx="109.86" cy="702.7" r="2.85" fill="none" stroke="#D95319" stroke-width="1"/>
<circle cx="117.05" cy="702.85" r="2.85" fill="none" stroke="#D95319" stroke-width="1"/>
<circle cx="124.25" cy="703.01" r="2.85" fill="none" stroke="#D95319" stroke-width="1"/>
<circle cx="131.44" cy="703.16" r="2.85" fill="none" stroke="#D95319" stroke-width="1"/>
<circle cx="138.64" cy="703.32" r="2.85" fill="none" stroke="#D95319" stroke-width="1"/>
<circle cx="145.84" cy="703.48" r="2.85" fill="none" stroke="#D95319" stroke-width="1"/>
<circle cx="153.03" cy="703.63" r="2.85" fill="none" stroke="#D95319" stroke-width="1"/>
<circle cx="160.23" cy="703.79" r="2.85" fill="none" stroke="#D95319" stroke-width="1"/>
<circle cx="167.42" cy="703.94" r="2.85" fill="none" stroke="#D95319" stroke-width="1"/>
<circle cx="174.62" cy="704.1" r="2.85" fill="none" stroke="#D95319" stroke-width="1"/>
<circle cx="181.82" cy="704.25" r="2.85" fill="none" stroke="#D95319" stroke-width="1"/>
<circle cx="189.01" cy="704.41" r="2.85" fill="none" stroke="#D95319" stroke-width="1"/>
<circle cx="196.21" cy="704.56" r="2.85" fill="none" stroke="#D95319" stroke-width="1"/>
<circle cx="203.4" cy="704.72" r="2.85" fill="none" stroke="#D95319" stroke-width="1"/>
<circle cx="210.6" cy="704.88" r="2.85" fill="none" stroke="#D95319" stroke-width="1"/>
<polyline points="30.7,608.24 37.9,655.83 45.09,675.91 52.29,685.11 59.48,689.47 66.68,692.46 73.88,696 81.07,698.02 88.27,699.81 95.46,701.28 102.66,702.53 109.86,702.79 117.05,703.04 124.25,703.3 131.44,703.55 138.64,703.81 145.84,704.06 153.03,704.31 160.23,704.57 167.42,704.82 174.62,705.08 181.82,705.33 189.01,705.58 196.21,705.84 203.4,706.09 210.6,706.35" fill="none" stroke="#EDB120" stroke-width="1.05"/>
<rect x="28.16" y="605.71" width="5.07" height="5.07" fill="none" stroke="#EDB120" stroke-width="1"/>
<rect x="35.36" y="653.29" width="5.07" height="5.07" fill="none" stroke="#EDB120" stroke-width="1"/>
<rect x="42.55" y="673.38" width="5.07" height="5.07" fill="none" stroke="#EDB120" stroke-width="1"/>
<rect x="49.75" y="682.58" width="5.07" height="5.07" fill="none" stroke="#EDB120" stroke-width="1"/>
<rect x="56.95" y="686.93" width="5.07" height="5.07" fill="none" stroke="#EDB120" stroke-width="1"/>
<rect x="64.14" y="689.93" width="5.07" height="5.07" fill="none" stroke="#EDB120" stroke-width="1"/>
<rect x="71.34" y="693.46" width="5.07" height="5.07" fill="none" stroke="#EDB120" stroke-width="1"/>
<rect x="78.53" y="695.48" width="5.07" height="5.07" fill="none" stroke="#EDB120" stroke-width="1"/>
<rect x="85.73" y="697.28" width="5.07" height="5.07" fill="none" stroke="#EDB120" stroke-width="1"/>
<rect x="92.93" y="698.75" width="5.07" height="5.07" fill="none" stroke="#EDB120" stroke-width="1"/>
<rect x="100.12" y="700" width="5.07" height="5.07" fill="none" stroke="#EDB120" stroke-width="1"/>
<rect x="107.32" y="700.25" width="5.07" height="5.07" fill="none" stroke="#EDB120" stroke-width="1"/>
<rect x="114.52" y="700.51" width="5.07" height="5.07" fill="none" stroke="#EDB120" stroke-width="1"/>
<rect x="121.71" y="700.76" width="5.07" height="5.07" fill="none" stroke="#EDB120" stroke-width="1"/>
<rect x="128.91" y="701.01" width="5.07" height="5.07" fill="none" stroke="#EDB120" stroke-width="1"/>
<rect x="136.1" y="701.27" width="5.07" height="5.07" fill="none" stroke="#EDB120" stroke-width="1"/>
<rect x="143.3" y="701.52" width="5.07" height="5.07" fill="none" stroke="#EDB120" stroke-width="1"/>
<rect x="150.5" y="701.78" width="5.07" height="5.07" fill="none" stroke="#EDB120" stroke-width="1"/>
<rect x="157.69" y="702.03" width="5.07" height="5.07" fill="none" stroke="#EDB120" stroke-width="1"/>
<rect x="164.89" y="702.28" width="5.07" height="5.07" fill="none" stroke="#EDB120" stroke-width="1"/>
<rect x="172.08" y="702.54" width="5.07" height="5.07" fill="none" stroke="#EDB120" stroke-width="1"/>
<rect x="179.28" y="702.79" width="5.07" height="5.07" fill="none" stroke="#EDB120" stroke-width="1"/>
<rect x="186.47" y="703.05" width="5.07" height="5.07" fill="none" stroke="#EDB120" stroke-width="1"/>
<rect x="193.67" y="703.3" width="5.07" height="5.07" fill="none" stroke="#EDB120" stroke-width="1"/>
<rect x="200.87" y="703.55" width="5.07" height="5.07" fill="none" stroke="#EDB120" stroke-width="1"/>
<rect x="208.06" y="703.81" width="5.07" height="5.07" fill="none" stroke="#EDB120" stroke-width="1"/>
<text x="120.65" y="580.6" text-anchor="middle" class="lb">TaskNum=40 CoreNum=9 ModeNum=5</text>
<text x="120.65" y="743.5" text-anchor="middle" class="lb">Number of iterations</text>
<text transform="translate(9.3,652.45) rotate(-90)" text-anchor="middle" class="lb">Fitness value</text>
<rect x="101.4" y="589.4" width="104.2" height="33.2" fill="#fff" stroke="#a8a8a8" stroke-width="0.8"/>
<line x1="103.1" y1="595.3" x2="118.9" y2="595.3" stroke="#0072BD" stroke-width="1.05"/>
<path d="M110.7 591.53L114 597.61L107.4 597.61Z" fill="none" stroke="#0072BD" stroke-width="1"/>
<text x="120.7" y="598.3" class="lb">MCCGA</text>
<line x1="103.1" y1="606.1" x2="118.9" y2="606.1" stroke="#D95319" stroke-width="1.05"/>
<circle cx="110.7" cy="606.1" r="2.85" fill="none" stroke="#D95319" stroke-width="1"/>
<text x="120.7" y="609.1" class="lb">MCCGA (GAP=10)</text>
<line x1="103.1" y1="616.9" x2="118.9" y2="616.9" stroke="#EDB120" stroke-width="1.05"/>
<rect x="108.16" y="614.36" width="5.07" height="5.07" fill="none" stroke="#EDB120" stroke-width="1"/>
<text x="120.7" y="619.9" class="lb">MCCGA (GAP=Max)</text>
<line x1="262.7" y1="695.08" x2="442.6" y2="695.08" stroke="#eeeeee" stroke-width="0.8"/>
<line x1="262.7" y1="667.76" x2="442.6" y2="667.76" stroke="#eeeeee" stroke-width="0.8"/>
<line x1="262.7" y1="640.44" x2="442.6" y2="640.44" stroke="#eeeeee" stroke-width="0.8"/>
<line x1="262.7" y1="613.12" x2="442.6" y2="613.12" stroke="#eeeeee" stroke-width="0.8"/>
<path d="M262.7 585.8H442.6V722.4" fill="none" stroke="#cfcfcf" stroke-width="0.8"/>
<path d="M262.7 585.8V722.4" fill="none" stroke="#bcbcbc" stroke-width="0.9"/>
<path d="M262.7 722.4H442.6" fill="none" stroke="#9c9c9c" stroke-width="0.9"/>
<line x1="262.7" y1="722.4" x2="264.5" y2="722.4" stroke="#8a8a8a" stroke-width="0.8"/>
<text x="244.86" y="725.7" textLength="14.04" lengthAdjust="spacingAndGlyphs" class="tk">100</text>
<line x1="262.7" y1="695.08" x2="264.5" y2="695.08" stroke="#8a8a8a" stroke-width="0.8"/>
<text x="244.86" y="698.38" textLength="14.04" lengthAdjust="spacingAndGlyphs" class="tk">150</text>
<line x1="262.7" y1="667.76" x2="264.5" y2="667.76" stroke="#8a8a8a" stroke-width="0.8"/>
<text x="244.86" y="671.06" textLength="14.04" lengthAdjust="spacingAndGlyphs" class="tk">200</text>
<line x1="262.7" y1="640.44" x2="264.5" y2="640.44" stroke="#8a8a8a" stroke-width="0.8"/>
<text x="244.86" y="643.74" textLength="14.04" lengthAdjust="spacingAndGlyphs" class="tk">250</text>
<line x1="262.7" y1="613.12" x2="264.5" y2="613.12" stroke="#8a8a8a" stroke-width="0.8"/>
<text x="244.86" y="616.42" textLength="14.04" lengthAdjust="spacingAndGlyphs" class="tk">300</text>
<line x1="262.7" y1="585.8" x2="264.5" y2="585.8" stroke="#8a8a8a" stroke-width="0.8"/>
<text x="244.86" y="589.1" textLength="14.04" lengthAdjust="spacingAndGlyphs" class="tk">350</text>
<line x1="262.7" y1="722.4" x2="262.7" y2="720.6" stroke="#8a8a8a" stroke-width="0.8"/>
<text x="260.36" y="734.9" textLength="4.68" lengthAdjust="spacingAndGlyphs" class="tk">0</text>
<line x1="298.68" y1="722.4" x2="298.68" y2="720.6" stroke="#8a8a8a" stroke-width="0.8"/>
<text x="294" y="734.9" textLength="9.36" lengthAdjust="spacingAndGlyphs" class="tk">50</text>
<line x1="334.66" y1="722.4" x2="334.66" y2="720.6" stroke="#8a8a8a" stroke-width="0.8"/>
<text x="327.64" y="734.9" textLength="14.04" lengthAdjust="spacingAndGlyphs" class="tk">100</text>
<line x1="370.64" y1="722.4" x2="370.64" y2="720.6" stroke="#8a8a8a" stroke-width="0.8"/>
<text x="363.62" y="734.9" textLength="14.04" lengthAdjust="spacingAndGlyphs" class="tk">150</text>
<line x1="406.62" y1="722.4" x2="406.62" y2="720.6" stroke="#8a8a8a" stroke-width="0.8"/>
<text x="399.6" y="734.9" textLength="14.04" lengthAdjust="spacingAndGlyphs" class="tk">200</text>
<line x1="442.6" y1="722.4" x2="442.6" y2="720.6" stroke="#8a8a8a" stroke-width="0.8"/>
<text x="435.58" y="734.9" textLength="14.04" lengthAdjust="spacingAndGlyphs" class="tk">250</text>
<polyline points="262.7,599.41 269.9,634.92 277.09,655.52 284.29,668.2 291.48,677.1 298.68,683.22 305.88,688.69 313.07,692.29 320.27,694.32 327.46,697.1 334.66,697.92 341.86,700.71 349.05,701.16 356.25,701.62 363.44,702.07 370.64,702.53 377.84,702.98 385.03,703.44 392.23,703.9 399.42,704.35 406.62,704.81 413.82,705.09 421.01,705.37 428.21,705.66 435.4,705.94 442.6,706.23" fill="none" stroke="#0072BD" stroke-width="1.05"/>
<path d="M262.7 595.64L266 601.72L259.4 601.72Z" fill="none" stroke="#0072BD" stroke-width="1"/>
<path d="M269.9 631.15L273.2 637.23L266.59 637.23Z" fill="none" stroke="#0072BD" stroke-width="1"/>
<path d="M277.09 651.75L280.4 657.83L273.79 657.83Z" fill="none" stroke="#0072BD" stroke-width="1"/>
<path d="M284.29 664.43L287.59 670.51L280.98 670.51Z" fill="none" stroke="#0072BD" stroke-width="1"/>
<path d="M291.48 673.33L294.79 679.41L288.18 679.41Z" fill="none" stroke="#0072BD" stroke-width="1"/>
<path d="M298.68 679.45L301.98 685.53L295.38 685.53Z" fill="none" stroke="#0072BD" stroke-width="1"/>
<path d="M305.88 684.92L309.18 691L302.57 691Z" fill="none" stroke="#0072BD" stroke-width="1"/>
<path d="M313.07 688.52L316.38 694.6L309.77 694.6Z" fill="none" stroke="#0072BD" stroke-width="1"/>
<path d="M320.27 690.55L323.57 696.63L316.96 696.63Z" fill="none" stroke="#0072BD" stroke-width="1"/>
<path d="M327.46 693.33L330.77 699.41L324.16 699.41Z" fill="none" stroke="#0072BD" stroke-width="1"/>
<path d="M334.66 694.15L337.96 700.23L331.36 700.23Z" fill="none" stroke="#0072BD" stroke-width="1"/>
<path d="M341.86 696.94L345.16 703.02L338.55 703.02Z" fill="none" stroke="#0072BD" stroke-width="1"/>
<path d="M349.05 697.39L352.36 703.47L345.75 703.47Z" fill="none" stroke="#0072BD" stroke-width="1"/>
<path d="M356.25 697.85L359.55 703.93L352.94 703.93Z" fill="none" stroke="#0072BD" stroke-width="1"/>
<path d="M363.44 698.3L366.75 704.38L360.14 704.38Z" fill="none" stroke="#0072BD" stroke-width="1"/>
<path d="M370.64 698.76L373.94 704.84L367.34 704.84Z" fill="none" stroke="#0072BD" stroke-width="1"/>
<path d="M377.84 699.22L381.14 705.29L374.53 705.29Z" fill="none" stroke="#0072BD" stroke-width="1"/>
<path d="M385.03 699.67L388.34 705.75L381.73 705.75Z" fill="none" stroke="#0072BD" stroke-width="1"/>
<path d="M392.23 700.13L395.53 706.21L388.92 706.21Z" fill="none" stroke="#0072BD" stroke-width="1"/>
<path d="M399.42 700.58L402.73 706.66L396.12 706.66Z" fill="none" stroke="#0072BD" stroke-width="1"/>
<path d="M406.62 701.04L409.92 707.12L403.32 707.12Z" fill="none" stroke="#0072BD" stroke-width="1"/>
<path d="M413.82 701.32L417.12 707.4L410.51 707.4Z" fill="none" stroke="#0072BD" stroke-width="1"/>
<path d="M421.01 701.6L424.32 707.68L417.71 707.68Z" fill="none" stroke="#0072BD" stroke-width="1"/>
<path d="M428.21 701.89L431.51 707.97L424.9 707.97Z" fill="none" stroke="#0072BD" stroke-width="1"/>
<path d="M435.4 702.17L438.71 708.25L432.1 708.25Z" fill="none" stroke="#0072BD" stroke-width="1"/>
<path d="M442.6 702.46L445.9 708.54L439.3 708.54Z" fill="none" stroke="#0072BD" stroke-width="1"/>
<polyline points="262.7,599.41 269.9,656.29 277.09,672.9 284.29,678.47 291.48,686.77 298.68,690.98 305.88,694.59 313.07,697.92 320.27,699.83 327.46,700.82 334.66,702.07 341.86,702.73 349.05,702.92 356.25,703.11 363.44,703.3 370.64,703.49 377.84,703.69 385.03,703.88 392.23,704.07 399.42,704.26 406.62,704.45 413.82,704.64 421.01,704.83 428.21,705.02 435.4,705.22 442.6,705.41" fill="none" stroke="#D95319" stroke-width="1.05"/>
<circle cx="262.7" cy="599.41" r="2.85" fill="none" stroke="#D95319" stroke-width="1"/>
<circle cx="269.9" cy="656.29" r="2.85" fill="none" stroke="#D95319" stroke-width="1"/>
<circle cx="277.09" cy="672.9" r="2.85" fill="none" stroke="#D95319" stroke-width="1"/>
<circle cx="284.29" cy="678.47" r="2.85" fill="none" stroke="#D95319" stroke-width="1"/>
<circle cx="291.48" cy="686.77" r="2.85" fill="none" stroke="#D95319" stroke-width="1"/>
<circle cx="298.68" cy="690.98" r="2.85" fill="none" stroke="#D95319" stroke-width="1"/>
<circle cx="305.88" cy="694.59" r="2.85" fill="none" stroke="#D95319" stroke-width="1"/>
<circle cx="313.07" cy="697.92" r="2.85" fill="none" stroke="#D95319" stroke-width="1"/>
<circle cx="320.27" cy="699.83" r="2.85" fill="none" stroke="#D95319" stroke-width="1"/>
<circle cx="327.46" cy="700.82" r="2.85" fill="none" stroke="#D95319" stroke-width="1"/>
<circle cx="334.66" cy="702.07" r="2.85" fill="none" stroke="#D95319" stroke-width="1"/>
<circle cx="341.86" cy="702.73" r="2.85" fill="none" stroke="#D95319" stroke-width="1"/>
<circle cx="349.05" cy="702.92" r="2.85" fill="none" stroke="#D95319" stroke-width="1"/>
<circle cx="356.25" cy="703.11" r="2.85" fill="none" stroke="#D95319" stroke-width="1"/>
<circle cx="363.44" cy="703.3" r="2.85" fill="none" stroke="#D95319" stroke-width="1"/>
<circle cx="370.64" cy="703.49" r="2.85" fill="none" stroke="#D95319" stroke-width="1"/>
<circle cx="377.84" cy="703.69" r="2.85" fill="none" stroke="#D95319" stroke-width="1"/>
<circle cx="385.03" cy="703.88" r="2.85" fill="none" stroke="#D95319" stroke-width="1"/>
<circle cx="392.23" cy="704.07" r="2.85" fill="none" stroke="#D95319" stroke-width="1"/>
<circle cx="399.42" cy="704.26" r="2.85" fill="none" stroke="#D95319" stroke-width="1"/>
<circle cx="406.62" cy="704.45" r="2.85" fill="none" stroke="#D95319" stroke-width="1"/>
<circle cx="413.82" cy="704.64" r="2.85" fill="none" stroke="#D95319" stroke-width="1"/>
<circle cx="421.01" cy="704.83" r="2.85" fill="none" stroke="#D95319" stroke-width="1"/>
<circle cx="428.21" cy="705.02" r="2.85" fill="none" stroke="#D95319" stroke-width="1"/>
<circle cx="435.4" cy="705.22" r="2.85" fill="none" stroke="#D95319" stroke-width="1"/>
<circle cx="442.6" cy="705.41" r="2.85" fill="none" stroke="#D95319" stroke-width="1"/>
<polyline points="262.7,599.41 269.9,656.29 277.09,674.32 284.29,682.08 291.48,688.69 298.68,693.71 305.88,696.01 313.07,698.9 320.27,699.83 327.46,701.36 334.66,701.62 341.86,701.87 349.05,702.12 356.25,702.37 363.44,702.63 370.64,702.88 377.84,703.13 385.03,703.39 392.23,703.64 399.42,703.89 406.62,704.14 413.82,704.4 421.01,704.65 428.21,704.9 435.4,705.15 442.6,705.41" fill="none" stroke="#EDB120" stroke-width="1.05"/>
<rect x="260.16" y="596.87" width="5.07" height="5.07" fill="none" stroke="#EDB120" stroke-width="1"/>
<rect x="267.36" y="653.75" width="5.07" height="5.07" fill="none" stroke="#EDB120" stroke-width="1"/>
<rect x="274.56" y="671.78" width="5.07" height="5.07" fill="none" stroke="#EDB120" stroke-width="1"/>
<rect x="281.75" y="679.54" width="5.07" height="5.07" fill="none" stroke="#EDB120" stroke-width="1"/>
<rect x="288.95" y="686.15" width="5.07" height="5.07" fill="none" stroke="#EDB120" stroke-width="1"/>
<rect x="296.14" y="691.18" width="5.07" height="5.07" fill="none" stroke="#EDB120" stroke-width="1"/>
<rect x="303.34" y="693.47" width="5.07" height="5.07" fill="none" stroke="#EDB120" stroke-width="1"/>
<rect x="310.54" y="696.37" width="5.07" height="5.07" fill="none" stroke="#EDB120" stroke-width="1"/>
<rect x="317.73" y="697.3" width="5.07" height="5.07" fill="none" stroke="#EDB120" stroke-width="1"/>
<rect x="324.93" y="698.83" width="5.07" height="5.07" fill="none" stroke="#EDB120" stroke-width="1"/>
<rect x="332.12" y="699.08" width="5.07" height="5.07" fill="none" stroke="#EDB120" stroke-width="1"/>
<rect x="339.32" y="699.33" width="5.07" height="5.07" fill="none" stroke="#EDB120" stroke-width="1"/>
<rect x="346.52" y="699.58" width="5.07" height="5.07" fill="none" stroke="#EDB120" stroke-width="1"/>
<rect x="353.71" y="699.84" width="5.07" height="5.07" fill="none" stroke="#EDB120" stroke-width="1"/>
<rect x="360.91" y="700.09" width="5.07" height="5.07" fill="none" stroke="#EDB120" stroke-width="1"/>
<rect x="368.1" y="700.34" width="5.07" height="5.07" fill="none" stroke="#EDB120" stroke-width="1"/>
<rect x="375.3" y="700.6" width="5.07" height="5.07" fill="none" stroke="#EDB120" stroke-width="1"/>
<rect x="382.5" y="700.85" width="5.07" height="5.07" fill="none" stroke="#EDB120" stroke-width="1"/>
<rect x="389.69" y="701.1" width="5.07" height="5.07" fill="none" stroke="#EDB120" stroke-width="1"/>
<rect x="396.89" y="701.35" width="5.07" height="5.07" fill="none" stroke="#EDB120" stroke-width="1"/>
<rect x="404.08" y="701.61" width="5.07" height="5.07" fill="none" stroke="#EDB120" stroke-width="1"/>
<rect x="411.28" y="701.86" width="5.07" height="5.07" fill="none" stroke="#EDB120" stroke-width="1"/>
<rect x="418.48" y="702.11" width="5.07" height="5.07" fill="none" stroke="#EDB120" stroke-width="1"/>
<rect x="425.67" y="702.36" width="5.07" height="5.07" fill="none" stroke="#EDB120" stroke-width="1"/>
<rect x="432.87" y="702.62" width="5.07" height="5.07" fill="none" stroke="#EDB120" stroke-width="1"/>
<rect x="440.06" y="702.87" width="5.07" height="5.07" fill="none" stroke="#EDB120" stroke-width="1"/>
<text x="352.65" y="582" text-anchor="middle" class="lb">TaskNum=40 CoreNum=9 ModeNum=10</text>
<text x="352.65" y="745.4" text-anchor="middle" class="lb">Number of iterations</text>
<text transform="translate(241.3,654.1) rotate(-90)" text-anchor="middle" class="lb">Fitness value</text>
<rect x="333.4" y="590.8" width="104.2" height="33.2" fill="#fff" stroke="#a8a8a8" stroke-width="0.8"/>
<line x1="335.1" y1="596.7" x2="350.9" y2="596.7" stroke="#0072BD" stroke-width="1.05"/>
<path d="M342.7 592.93L346 599.01L339.4 599.01Z" fill="none" stroke="#0072BD" stroke-width="1"/>
<text x="352.7" y="599.7" class="lb">MCCGA</text>
<line x1="335.1" y1="607.5" x2="350.9" y2="607.5" stroke="#D95319" stroke-width="1.05"/>
<circle cx="342.7" cy="607.5" r="2.85" fill="none" stroke="#D95319" stroke-width="1"/>
<text x="352.7" y="610.5" class="lb">MCCGA (GAP=10)</text>
<line x1="335.1" y1="618.3" x2="350.9" y2="618.3" stroke="#EDB120" stroke-width="1.05"/>
<rect x="340.16" y="615.76" width="5.07" height="5.07" fill="none" stroke="#EDB120" stroke-width="1"/>
<text x="352.7" y="621.3" class="lb">MCCGA (GAP=Max)</text>
<line x1="495" y1="694.68" x2="675.1" y2="694.68" stroke="#eeeeee" stroke-width="0.8"/>
<line x1="495" y1="667.36" x2="675.1" y2="667.36" stroke="#eeeeee" stroke-width="0.8"/>
<line x1="495" y1="640.04" x2="675.1" y2="640.04" stroke="#eeeeee" stroke-width="0.8"/>
<line x1="495" y1="612.72" x2="675.1" y2="612.72" stroke="#eeeeee" stroke-width="0.8"/>
<path d="M495 585.4H675.1V722" fill="none" stroke="#cfcfcf" stroke-width="0.8"/>
<path d="M495 585.4V722" fill="none" stroke="#bcbcbc" stroke-width="0.9"/>
<path d="M495 722H675.1" fill="none" stroke="#9c9c9c" stroke-width="0.9"/>
<line x1="495" y1="722" x2="496.8" y2="722" stroke="#8a8a8a" stroke-width="0.8"/>
<text x="477.16" y="725.3" textLength="14.04" lengthAdjust="spacingAndGlyphs" class="tk">100</text>
<line x1="495" y1="694.68" x2="496.8" y2="694.68" stroke="#8a8a8a" stroke-width="0.8"/>
<text x="477.16" y="697.98" textLength="14.04" lengthAdjust="spacingAndGlyphs" class="tk">150</text>
<line x1="495" y1="667.36" x2="496.8" y2="667.36" stroke="#8a8a8a" stroke-width="0.8"/>
<text x="477.16" y="670.66" textLength="14.04" lengthAdjust="spacingAndGlyphs" class="tk">200</text>
<line x1="495" y1="640.04" x2="496.8" y2="640.04" stroke="#8a8a8a" stroke-width="0.8"/>
<text x="477.16" y="643.34" textLength="14.04" lengthAdjust="spacingAndGlyphs" class="tk">250</text>
<line x1="495" y1="612.72" x2="496.8" y2="612.72" stroke="#8a8a8a" stroke-width="0.8"/>
<text x="477.16" y="616.02" textLength="14.04" lengthAdjust="spacingAndGlyphs" class="tk">300</text>
<line x1="495" y1="585.4" x2="496.8" y2="585.4" stroke="#8a8a8a" stroke-width="0.8"/>
<text x="477.16" y="588.7" textLength="14.04" lengthAdjust="spacingAndGlyphs" class="tk">350</text>
<line x1="495" y1="722" x2="495" y2="720.2" stroke="#8a8a8a" stroke-width="0.8"/>
<text x="492.66" y="734.5" textLength="4.68" lengthAdjust="spacingAndGlyphs" class="tk">0</text>
<line x1="531.02" y1="722" x2="531.02" y2="720.2" stroke="#8a8a8a" stroke-width="0.8"/>
<text x="526.34" y="734.5" textLength="9.36" lengthAdjust="spacingAndGlyphs" class="tk">50</text>
<line x1="567.04" y1="722" x2="567.04" y2="720.2" stroke="#8a8a8a" stroke-width="0.8"/>
<text x="560.02" y="734.5" textLength="14.04" lengthAdjust="spacingAndGlyphs" class="tk">100</text>
<line x1="603.06" y1="722" x2="603.06" y2="720.2" stroke="#8a8a8a" stroke-width="0.8"/>
<text x="596.04" y="734.5" textLength="14.04" lengthAdjust="spacingAndGlyphs" class="tk">150</text>
<line x1="639.08" y1="722" x2="639.08" y2="720.2" stroke="#8a8a8a" stroke-width="0.8"/>
<text x="632.06" y="734.5" textLength="14.04" lengthAdjust="spacingAndGlyphs" class="tk">200</text>
<line x1="675.1" y1="722" x2="675.1" y2="720.2" stroke="#8a8a8a" stroke-width="0.8"/>
<text x="668.08" y="734.5" textLength="14.04" lengthAdjust="spacingAndGlyphs" class="tk">250</text>
<polyline points="495,602.23 502.2,635.5 509.41,652.99 516.61,663.81 523.82,672.88 531.02,678.51 538.22,683.21 545.43,688.18 552.63,691.02 559.84,694.3 567.04,695.99 574.24,697.14 581.45,697.96 588.65,698.78 595.86,700.96 603.06,701.78 610.26,702.06 617.47,702.33 624.67,702.6 631.88,702.88 639.08,703.15 646.28,703.97 653.49,704.99 660.69,706.02 667.9,707.04 675.1,708.07" fill="none" stroke="#0072BD" stroke-width="1.05"/>
<path d="M495 598.46L498.3 604.54L491.7 604.54Z" fill="none" stroke="#0072BD" stroke-width="1"/>
<path d="M502.2 631.74L505.51 637.82L498.9 637.82Z" fill="none" stroke="#0072BD" stroke-width="1"/>
<path d="M509.41 649.22L512.71 655.3L506.1 655.3Z" fill="none" stroke="#0072BD" stroke-width="1"/>
<path d="M516.61 660.04L519.92 666.12L513.31 666.12Z" fill="none" stroke="#0072BD" stroke-width="1"/>
<path d="M523.82 669.11L527.12 675.19L520.51 675.19Z" fill="none" stroke="#0072BD" stroke-width="1"/>
<path d="M531.02 674.74L534.32 680.82L527.72 680.82Z" fill="none" stroke="#0072BD" stroke-width="1"/>
<path d="M538.22 679.44L541.53 685.52L534.92 685.52Z" fill="none" stroke="#0072BD" stroke-width="1"/>
<path d="M545.43 684.41L548.73 690.49L542.12 690.49Z" fill="none" stroke="#0072BD" stroke-width="1"/>
<path d="M552.63 687.25L555.94 693.33L549.33 693.33Z" fill="none" stroke="#0072BD" stroke-width="1"/>
<path d="M559.84 690.53L563.14 696.61L556.53 696.61Z" fill="none" stroke="#0072BD" stroke-width="1"/>
<path d="M567.04 692.22L570.34 698.3L563.74 698.3Z" fill="none" stroke="#0072BD" stroke-width="1"/>
<path d="M574.24 693.37L577.55 699.45L570.94 699.45Z" fill="none" stroke="#0072BD" stroke-width="1"/>
<path d="M581.45 694.19L584.75 700.27L578.14 700.27Z" fill="none" stroke="#0072BD" stroke-width="1"/>
<path d="M588.65 695.01L591.96 701.09L585.35 701.09Z" fill="none" stroke="#0072BD" stroke-width="1"/>
<path d="M595.86 697.19L599.16 703.27L592.55 703.27Z" fill="none" stroke="#0072BD" stroke-width="1"/>
<path d="M603.06 698.01L606.36 704.09L599.76 704.09Z" fill="none" stroke="#0072BD" stroke-width="1"/>
<path d="M610.26 698.29L613.57 704.37L606.96 704.37Z" fill="none" stroke="#0072BD" stroke-width="1"/>
<path d="M617.47 698.56L620.77 704.64L614.16 704.64Z" fill="none" stroke="#0072BD" stroke-width="1"/>
<path d="M624.67 698.83L627.98 704.91L621.37 704.91Z" fill="none" stroke="#0072BD" stroke-width="1"/>
<path d="M631.88 699.11L635.18 705.19L628.57 705.19Z" fill="none" stroke="#0072BD" stroke-width="1"/>
<path d="M639.08 699.38L642.38 705.46L635.78 705.46Z" fill="none" stroke="#0072BD" stroke-width="1"/>
<path d="M646.28 700.2L649.59 706.28L642.98 706.28Z" fill="none" stroke="#0072BD" stroke-width="1"/>
<path d="M653.49 701.22L656.79 707.3L650.18 707.3Z" fill="none" stroke="#0072BD" stroke-width="1"/>
<path d="M660.69 702.25L664 708.33L657.39 708.33Z" fill="none" stroke="#0072BD" stroke-width="1"/>
<path d="M667.9 703.27L671.2 709.35L664.59 709.35Z" fill="none" stroke="#0072BD" stroke-width="1"/>
<path d="M675.1 704.3L678.4 710.38L671.8 710.38Z" fill="none" stroke="#0072BD" stroke-width="1"/>
<polyline points="495,602.23 502.2,660.42 509.41,678.51 516.61,686.81 523.82,689.6 531.02,693.7 538.22,695.72 545.43,697.9 552.63,699.32 559.84,699.87 567.04,700.96 574.24,701.03 581.45,701.1 588.65,701.17 595.86,701.24 603.06,701.31 610.26,701.38 617.47,701.45 624.67,701.52 631.88,701.59 639.08,701.66 646.28,701.72 653.49,701.79 660.69,701.86 667.9,701.93 675.1,702" fill="none" stroke="#D95319" stroke-width="1.05"/>
<circle cx="495" cy="602.23" r="2.85" fill="none" stroke="#D95319" stroke-width="1"/>
<circle cx="502.2" cy="660.42" r="2.85" fill="none" stroke="#D95319" stroke-width="1"/>
<circle cx="509.41" cy="678.51" r="2.85" fill="none" stroke="#D95319" stroke-width="1"/>
<circle cx="516.61" cy="686.81" r="2.85" fill="none" stroke="#D95319" stroke-width="1"/>
<circle cx="523.82" cy="689.6" r="2.85" fill="none" stroke="#D95319" stroke-width="1"/>
<circle cx="531.02" cy="693.7" r="2.85" fill="none" stroke="#D95319" stroke-width="1"/>
<circle cx="538.22" cy="695.72" r="2.85" fill="none" stroke="#D95319" stroke-width="1"/>
<circle cx="545.43" cy="697.9" r="2.85" fill="none" stroke="#D95319" stroke-width="1"/>
<circle cx="552.63" cy="699.32" r="2.85" fill="none" stroke="#D95319" stroke-width="1"/>
<circle cx="559.84" cy="699.87" r="2.85" fill="none" stroke="#D95319" stroke-width="1"/>
<circle cx="567.04" cy="700.96" r="2.85" fill="none" stroke="#D95319" stroke-width="1"/>
<circle cx="574.24" cy="701.03" r="2.85" fill="none" stroke="#D95319" stroke-width="1"/>
<circle cx="581.45" cy="701.1" r="2.85" fill="none" stroke="#D95319" stroke-width="1"/>
<circle cx="588.65" cy="701.17" r="2.85" fill="none" stroke="#D95319" stroke-width="1"/>
<circle cx="595.86" cy="701.24" r="2.85" fill="none" stroke="#D95319" stroke-width="1"/>
<circle cx="603.06" cy="701.31" r="2.85" fill="none" stroke="#D95319" stroke-width="1"/>
<circle cx="610.26" cy="701.38" r="2.85" fill="none" stroke="#D95319" stroke-width="1"/>
<circle cx="617.47" cy="701.45" r="2.85" fill="none" stroke="#D95319" stroke-width="1"/>
<circle cx="624.67" cy="701.52" r="2.85" fill="none" stroke="#D95319" stroke-width="1"/>
<circle cx="631.88" cy="701.59" r="2.85" fill="none" stroke="#D95319" stroke-width="1"/>
<circle cx="639.08" cy="701.66" r="2.85" fill="none" stroke="#D95319" stroke-width="1"/>
<circle cx="646.28" cy="701.72" r="2.85" fill="none" stroke="#D95319" stroke-width="1"/>
<circle cx="653.49" cy="701.79" r="2.85" fill="none" stroke="#D95319" stroke-width="1"/>
<circle cx="660.69" cy="701.86" r="2.85" fill="none" stroke="#D95319" stroke-width="1"/>
<circle cx="667.9" cy="701.93" r="2.85" fill="none" stroke="#D95319" stroke-width="1"/>
<circle cx="675.1" cy="702" r="2.85" fill="none" stroke="#D95319" stroke-width="1"/>
<polyline points="495,602.23 502.2,662.72 509.41,678.51 516.61,687.58 523.82,692.28 531.02,695.99 538.22,697.9 545.43,699.6 552.63,700.42 559.84,702.33 567.04,703.7 574.24,703.86 581.45,704.02 588.65,704.19 595.86,704.35 603.06,704.52 610.26,704.73 617.47,704.95 624.67,705.17 631.88,705.39 639.08,705.61 646.28,705.77 653.49,705.94 660.69,706.1 667.9,706.26 675.1,706.43" fill="none" stroke="#EDB120" stroke-width="1.05"/>
<rect x="492.46" y="599.69" width="5.07" height="5.07" fill="none" stroke="#EDB120" stroke-width="1"/>
<rect x="499.67" y="660.18" width="5.07" height="5.07" fill="none" stroke="#EDB120" stroke-width="1"/>
<rect x="506.87" y="675.97" width="5.07" height="5.07" fill="none" stroke="#EDB120" stroke-width="1"/>
<rect x="514.07" y="685.04" width="5.07" height="5.07" fill="none" stroke="#EDB120" stroke-width="1"/>
<rect x="521.28" y="689.74" width="5.07" height="5.07" fill="none" stroke="#EDB120" stroke-width="1"/>
<rect x="528.48" y="693.45" width="5.07" height="5.07" fill="none" stroke="#EDB120" stroke-width="1"/>
<rect x="535.69" y="695.37" width="5.07" height="5.07" fill="none" stroke="#EDB120" stroke-width="1"/>
<rect x="542.89" y="697.06" width="5.07" height="5.07" fill="none" stroke="#EDB120" stroke-width="1"/>
<rect x="550.1" y="697.88" width="5.07" height="5.07" fill="none" stroke="#EDB120" stroke-width="1"/>
<rect x="557.3" y="699.79" width="5.07" height="5.07" fill="none" stroke="#EDB120" stroke-width="1"/>
<rect x="564.5" y="701.16" width="5.07" height="5.07" fill="none" stroke="#EDB120" stroke-width="1"/>
<rect x="571.71" y="701.32" width="5.07" height="5.07" fill="none" stroke="#EDB120" stroke-width="1"/>
<rect x="578.91" y="701.49" width="5.07" height="5.07" fill="none" stroke="#EDB120" stroke-width="1"/>
<rect x="586.12" y="701.65" width="5.07" height="5.07" fill="none" stroke="#EDB120" stroke-width="1"/>
<rect x="593.32" y="701.81" width="5.07" height="5.07" fill="none" stroke="#EDB120" stroke-width="1"/>
<rect x="600.52" y="701.98" width="5.07" height="5.07" fill="none" stroke="#EDB120" stroke-width="1"/>
<rect x="607.73" y="702.2" width="5.07" height="5.07" fill="none" stroke="#EDB120" stroke-width="1"/>
<rect x="614.93" y="702.42" width="5.07" height="5.07" fill="none" stroke="#EDB120" stroke-width="1"/>
<rect x="622.13" y="702.63" width="5.07" height="5.07" fill="none" stroke="#EDB120" stroke-width="1"/>
<rect x="629.34" y="702.85" width="5.07" height="5.07" fill="none" stroke="#EDB120" stroke-width="1"/>
<rect x="636.54" y="703.07" width="5.07" height="5.07" fill="none" stroke="#EDB120" stroke-width="1"/>
<rect x="643.75" y="703.23" width="5.07" height="5.07" fill="none" stroke="#EDB120" stroke-width="1"/>
<rect x="650.95" y="703.4" width="5.07" height="5.07" fill="none" stroke="#EDB120" stroke-width="1"/>
<rect x="658.15" y="703.56" width="5.07" height="5.07" fill="none" stroke="#EDB120" stroke-width="1"/>
<rect x="665.36" y="703.73" width="5.07" height="5.07" fill="none" stroke="#EDB120" stroke-width="1"/>
<rect x="672.56" y="703.89" width="5.07" height="5.07" fill="none" stroke="#EDB120" stroke-width="1"/>
<text x="585.05" y="581.6" text-anchor="middle" class="lb">TaskNum=40 CoreNum=9 ModeNum=15</text>
<text x="585.05" y="745" text-anchor="middle" class="lb">Number of iterations</text>
<text transform="translate(473.6,653.7) rotate(-90)" text-anchor="middle" class="lb">Fitness value</text>
<rect x="565.9" y="590.4" width="104.2" height="33.2" fill="#fff" stroke="#a8a8a8" stroke-width="0.8"/>
<line x1="567.6" y1="596.3" x2="583.4" y2="596.3" stroke="#0072BD" stroke-width="1.05"/>
<path d="M575.2 592.53L578.5 598.61L571.9 598.61Z" fill="none" stroke="#0072BD" stroke-width="1"/>
<text x="585.2" y="599.3" class="lb">MCCGA</text>
<line x1="567.6" y1="607.1" x2="583.4" y2="607.1" stroke="#D95319" stroke-width="1.05"/>
<circle cx="575.2" cy="607.1" r="2.85" fill="none" stroke="#D95319" stroke-width="1"/>
<text x="585.2" y="610.1" class="lb">MCCGA (GAP=10)</text>
<line x1="567.6" y1="617.9" x2="583.4" y2="617.9" stroke="#EDB120" stroke-width="1.05"/>
<rect x="572.66" y="615.36" width="5.07" height="5.07" fill="none" stroke="#EDB120" stroke-width="1"/>
<text x="585.2" y="620.9" class="lb">MCCGA (GAP=Max)</text>
<line x1="30.7" y1="887.27" x2="210.6" y2="887.27" stroke="#eeeeee" stroke-width="0.8"/>
<line x1="30.7" y1="864.43" x2="210.6" y2="864.43" stroke="#eeeeee" stroke-width="0.8"/>
<line x1="30.7" y1="841.6" x2="210.6" y2="841.6" stroke="#eeeeee" stroke-width="0.8"/>
<line x1="30.7" y1="818.77" x2="210.6" y2="818.77" stroke="#eeeeee" stroke-width="0.8"/>
<line x1="30.7" y1="795.93" x2="210.6" y2="795.93" stroke="#eeeeee" stroke-width="0.8"/>
<path d="M30.7 773.1H210.6V910.1" fill="none" stroke="#cfcfcf" stroke-width="0.8"/>
<path d="M30.7 773.1V910.1" fill="none" stroke="#bcbcbc" stroke-width="0.9"/>
<path d="M30.7 910.1H210.6" fill="none" stroke="#9c9c9c" stroke-width="0.9"/>
<line x1="30.7" y1="910.1" x2="32.5" y2="910.1" stroke="#8a8a8a" stroke-width="0.8"/>
<text x="12.86" y="913.4" textLength="14.04" lengthAdjust="spacingAndGlyphs" class="tk">100</text>
<line x1="30.7" y1="887.27" x2="32.5" y2="887.27" stroke="#8a8a8a" stroke-width="0.8"/>
<text x="12.86" y="890.57" textLength="14.04" lengthAdjust="spacingAndGlyphs" class="tk">150</text>
<line x1="30.7" y1="864.43" x2="32.5" y2="864.43" stroke="#8a8a8a" stroke-width="0.8"/>
<text x="12.86" y="867.73" textLength="14.04" lengthAdjust="spacingAndGlyphs" class="tk">200</text>
<line x1="30.7" y1="841.6" x2="32.5" y2="841.6" stroke="#8a8a8a" stroke-width="0.8"/>
<text x="12.86" y="844.9" textLength="14.04" lengthAdjust="spacingAndGlyphs" class="tk">250</text>
<line x1="30.7" y1="818.77" x2="32.5" y2="818.77" stroke="#8a8a8a" stroke-width="0.8"/>
<text x="12.86" y="822.07" textLength="14.04" lengthAdjust="spacingAndGlyphs" class="tk">300</text>
<line x1="30.7" y1="795.93" x2="32.5" y2="795.93" stroke="#8a8a8a" stroke-width="0.8"/>
<text x="12.86" y="799.23" textLength="14.04" lengthAdjust="spacingAndGlyphs" class="tk">350</text>
<line x1="30.7" y1="773.1" x2="32.5" y2="773.1" stroke="#8a8a8a" stroke-width="0.8"/>
<text x="12.86" y="776.4" textLength="14.04" lengthAdjust="spacingAndGlyphs" class="tk">400</text>
<line x1="30.7" y1="910.1" x2="30.7" y2="908.3" stroke="#8a8a8a" stroke-width="0.8"/>
<text x="28.36" y="922.6" textLength="4.68" lengthAdjust="spacingAndGlyphs" class="tk">0</text>
<line x1="66.68" y1="910.1" x2="66.68" y2="908.3" stroke="#8a8a8a" stroke-width="0.8"/>
<text x="62" y="922.6" textLength="9.36" lengthAdjust="spacingAndGlyphs" class="tk">50</text>
<line x1="102.66" y1="910.1" x2="102.66" y2="908.3" stroke="#8a8a8a" stroke-width="0.8"/>
<text x="95.64" y="922.6" textLength="14.04" lengthAdjust="spacingAndGlyphs" class="tk">100</text>
<line x1="138.64" y1="910.1" x2="138.64" y2="908.3" stroke="#8a8a8a" stroke-width="0.8"/>
<text x="131.62" y="922.6" textLength="14.04" lengthAdjust="spacingAndGlyphs" class="tk">150</text>
<line x1="174.62" y1="910.1" x2="174.62" y2="908.3" stroke="#8a8a8a" stroke-width="0.8"/>
<text x="167.6" y="922.6" textLength="14.04" lengthAdjust="spacingAndGlyphs" class="tk">200</text>
<line x1="210.6" y1="910.1" x2="210.6" y2="908.3" stroke="#8a8a8a" stroke-width="0.8"/>
<text x="203.58" y="922.6" textLength="14.04" lengthAdjust="spacingAndGlyphs" class="tk">250</text>
<polyline points="30.7,787.99 37.9,824.11 45.09,842.7 52.29,854.62 59.48,862.1 66.68,867.63 73.88,872.61 81.07,875.99 88.27,879 95.46,881.01 102.66,882.29 109.86,883.7 117.05,884.53 124.25,884.93 131.44,885.34 138.64,885.75 145.84,886.16 153.03,886.56 160.23,886.97 167.42,887.38 174.62,887.79 181.82,888.19 189.01,888.6 196.21,889.01 203.4,889.42 210.6,889.82" fill="none" stroke="#0072BD" stroke-width="1.05"/>
<path d="M30.7 784.22L34 790.3L27.4 790.3Z" fill="none" stroke="#0072BD" stroke-width="1"/>
<path d="M37.9 820.34L41.2 826.42L34.59 826.42Z" fill="none" stroke="#0072BD" stroke-width="1"/>
<path d="M45.09 838.93L48.4 845.01L41.79 845.01Z" fill="none" stroke="#0072BD" stroke-width="1"/>
<path d="M52.29 850.85L55.59 856.93L48.98 856.93Z" fill="none" stroke="#0072BD" stroke-width="1"/>
<path d="M59.48 858.34L62.79 864.41L56.18 864.41Z" fill="none" stroke="#0072BD" stroke-width="1"/>
<path d="M66.68 863.86L69.98 869.94L63.38 869.94Z" fill="none" stroke="#0072BD" stroke-width="1"/>
<path d="M73.88 868.84L77.18 874.92L70.57 874.92Z" fill="none" stroke="#0072BD" stroke-width="1"/>
<path d="M81.07 872.22L84.38 878.3L77.77 878.3Z" fill="none" stroke="#0072BD" stroke-width="1"/>
<path d="M88.27 875.23L91.57 881.31L84.96 881.31Z" fill="none" stroke="#0072BD" stroke-width="1"/>
<path d="M95.46 877.24L98.77 883.32L92.16 883.32Z" fill="none" stroke="#0072BD" stroke-width="1"/>
<path d="M102.66 878.52L105.96 884.6L99.36 884.6Z" fill="none" stroke="#0072BD" stroke-width="1"/>
<path d="M109.86 879.94L113.16 886.01L106.55 886.01Z" fill="none" stroke="#0072BD" stroke-width="1"/>
<path d="M117.05 880.76L120.36 886.84L113.75 886.84Z" fill="none" stroke="#0072BD" stroke-width="1"/>
<path d="M124.25 881.16L127.55 887.24L120.94 887.24Z" fill="none" stroke="#0072BD" stroke-width="1"/>
<path d="M131.44 881.57L134.75 887.65L128.14 887.65Z" fill="none" stroke="#0072BD" stroke-width="1"/>
<path d="M138.64 881.98L141.94 888.06L135.34 888.06Z" fill="none" stroke="#0072BD" stroke-width="1"/>
<path d="M145.84 882.39L149.14 888.47L142.53 888.47Z" fill="none" stroke="#0072BD" stroke-width="1"/>
<path d="M153.03 882.79L156.34 888.87L149.73 888.87Z" fill="none" stroke="#0072BD" stroke-width="1"/>
<path d="M160.23 883.2L163.53 889.28L156.92 889.28Z" fill="none" stroke="#0072BD" stroke-width="1"/>
<path d="M167.42 883.61L170.73 889.69L164.12 889.69Z" fill="none" stroke="#0072BD" stroke-width="1"/>
<path d="M174.62 884.02L177.92 890.1L171.32 890.1Z" fill="none" stroke="#0072BD" stroke-width="1"/>
<path d="M181.82 884.42L185.12 890.5L178.51 890.5Z" fill="none" stroke="#0072BD" stroke-width="1"/>
<path d="M189.01 884.83L192.32 890.91L185.71 890.91Z" fill="none" stroke="#0072BD" stroke-width="1"/>
<path d="M196.21 885.24L199.51 891.32L192.9 891.32Z" fill="none" stroke="#0072BD" stroke-width="1"/>
<path d="M203.4 885.65L206.71 891.73L200.1 891.73Z" fill="none" stroke="#0072BD" stroke-width="1"/>
<path d="M210.6 886.05L213.9 892.13L207.3 892.13Z" fill="none" stroke="#0072BD" stroke-width="1"/>
<polyline points="30.7,789.4 37.9,835.21 45.09,850.41 52.29,860.19 59.48,867.63 66.68,872.11 73.88,874.89 81.07,877.59 88.27,880.42 95.46,881.79 102.66,882.47 109.86,883.61 117.05,883.92 124.25,884.23 131.44,884.53 138.64,884.84 145.84,885.15 153.03,885.45 160.23,885.76 167.42,886.07 174.62,886.37 181.82,886.68 189.01,886.99 196.21,887.29 203.4,887.6 210.6,887.91" fill="none" stroke="#D95319" stroke-width="1.05"/>
<circle cx="30.7" cy="789.4" r="2.85" fill="none" stroke="#D95319" stroke-width="1"/>
<circle cx="37.9" cy="835.21" r="2.85" fill="none" stroke="#D95319" stroke-width="1"/>
<circle cx="45.09" cy="850.41" r="2.85" fill="none" stroke="#D95319" stroke-width="1"/>
<circle cx="52.29" cy="860.19" r="2.85" fill="none" stroke="#D95319" stroke-width="1"/>
<circle cx="59.48" cy="867.63" r="2.85" fill="none" stroke="#D95319" stroke-width="1"/>
<circle cx="66.68" cy="872.11" r="2.85" fill="none" stroke="#D95319" stroke-width="1"/>
<circle cx="73.88" cy="874.89" r="2.85" fill="none" stroke="#D95319" stroke-width="1"/>
<circle cx="81.07" cy="877.59" r="2.85" fill="none" stroke="#D95319" stroke-width="1"/>
<circle cx="88.27" cy="880.42" r="2.85" fill="none" stroke="#D95319" stroke-width="1"/>
<circle cx="95.46" cy="881.79" r="2.85" fill="none" stroke="#D95319" stroke-width="1"/>
<circle cx="102.66" cy="882.47" r="2.85" fill="none" stroke="#D95319" stroke-width="1"/>
<circle cx="109.86" cy="883.61" r="2.85" fill="none" stroke="#D95319" stroke-width="1"/>
<circle cx="117.05" cy="883.92" r="2.85" fill="none" stroke="#D95319" stroke-width="1"/>
<circle cx="124.25" cy="884.23" r="2.85" fill="none" stroke="#D95319" stroke-width="1"/>
<circle cx="131.44" cy="884.53" r="2.85" fill="none" stroke="#D95319" stroke-width="1"/>
<circle cx="138.64" cy="884.84" r="2.85" fill="none" stroke="#D95319" stroke-width="1"/>
<circle cx="145.84" cy="885.15" r="2.85" fill="none" stroke="#D95319" stroke-width="1"/>
<circle cx="153.03" cy="885.45" r="2.85" fill="none" stroke="#D95319" stroke-width="1"/>
<circle cx="160.23" cy="885.76" r="2.85" fill="none" stroke="#D95319" stroke-width="1"/>
<circle cx="167.42" cy="886.07" r="2.85" fill="none" stroke="#D95319" stroke-width="1"/>
<circle cx="174.62" cy="886.37" r="2.85" fill="none" stroke="#D95319" stroke-width="1"/>
<circle cx="181.82" cy="886.68" r="2.85" fill="none" stroke="#D95319" stroke-width="1"/>
<circle cx="189.01" cy="886.99" r="2.85" fill="none" stroke="#D95319" stroke-width="1"/>
<circle cx="196.21" cy="887.29" r="2.85" fill="none" stroke="#D95319" stroke-width="1"/>
<circle cx="203.4" cy="887.6" r="2.85" fill="none" stroke="#D95319" stroke-width="1"/>
<circle cx="210.6" cy="887.91" r="2.85" fill="none" stroke="#D95319" stroke-width="1"/>
<polyline points="30.7,789.4 37.9,833.2 45.09,850.41 52.29,859.64 59.48,867.63 66.68,872.11 73.88,875.39 81.07,877.59 88.27,879.5 95.46,881.01 102.66,881.79 109.86,882.01 117.05,882.23 124.25,882.45 131.44,882.68 138.64,882.9 145.84,883.12 153.03,883.34 160.23,883.56 167.42,883.79 174.62,884.01 181.82,884.23 189.01,884.45 196.21,884.68 203.4,884.9 210.6,885.12" fill="none" stroke="#EDB120" stroke-width="1.05"/>
<rect x="28.16" y="786.87" width="5.07" height="5.07" fill="none" stroke="#EDB120" stroke-width="1"/>
<rect x="35.36" y="830.66" width="5.07" height="5.07" fill="none" stroke="#EDB120" stroke-width="1"/>
<rect x="42.55" y="847.88" width="5.07" height="5.07" fill="none" stroke="#EDB120" stroke-width="1"/>
<rect x="49.75" y="857.1" width="5.07" height="5.07" fill="none" stroke="#EDB120" stroke-width="1"/>
<rect x="56.95" y="865.09" width="5.07" height="5.07" fill="none" stroke="#EDB120" stroke-width="1"/>
<rect x="64.14" y="869.57" width="5.07" height="5.07" fill="none" stroke="#EDB120" stroke-width="1"/>
<rect x="71.34" y="872.86" width="5.07" height="5.07" fill="none" stroke="#EDB120" stroke-width="1"/>
<rect x="78.53" y="875.05" width="5.07" height="5.07" fill="none" stroke="#EDB120" stroke-width="1"/>
<rect x="85.73" y="876.97" width="5.07" height="5.07" fill="none" stroke="#EDB120" stroke-width="1"/>
<rect x="92.93" y="878.47" width="5.07" height="5.07" fill="none" stroke="#EDB120" stroke-width="1"/>
<rect x="100.12" y="879.25" width="5.07" height="5.07" fill="none" stroke="#EDB120" stroke-width="1"/>
<rect x="107.32" y="879.47" width="5.07" height="5.07" fill="none" stroke="#EDB120" stroke-width="1"/>
<rect x="114.52" y="879.69" width="5.07" height="5.07" fill="none" stroke="#EDB120" stroke-width="1"/>
<rect x="121.71" y="879.92" width="5.07" height="5.07" fill="none" stroke="#EDB120" stroke-width="1"/>
<rect x="128.91" y="880.14" width="5.07" height="5.07" fill="none" stroke="#EDB120" stroke-width="1"/>
<rect x="136.1" y="880.36" width="5.07" height="5.07" fill="none" stroke="#EDB120" stroke-width="1"/>
<rect x="143.3" y="880.58" width="5.07" height="5.07" fill="none" stroke="#EDB120" stroke-width="1"/>
<rect x="150.5" y="880.81" width="5.07" height="5.07" fill="none" stroke="#EDB120" stroke-width="1"/>
<rect x="157.69" y="881.03" width="5.07" height="5.07" fill="none" stroke="#EDB120" stroke-width="1"/>
<rect x="164.89" y="881.25" width="5.07" height="5.07" fill="none" stroke="#EDB120" stroke-width="1"/>
<rect x="172.08" y="881.47" width="5.07" height="5.07" fill="none" stroke="#EDB120" stroke-width="1"/>
<rect x="179.28" y="881.69" width="5.07" height="5.07" fill="none" stroke="#EDB120" stroke-width="1"/>
<rect x="186.47" y="881.92" width="5.07" height="5.07" fill="none" stroke="#EDB120" stroke-width="1"/>
<rect x="193.67" y="882.14" width="5.07" height="5.07" fill="none" stroke="#EDB120" stroke-width="1"/>
<rect x="200.87" y="882.36" width="5.07" height="5.07" fill="none" stroke="#EDB120" stroke-width="1"/>
<rect x="208.06" y="882.58" width="5.07" height="5.07" fill="none" stroke="#EDB120" stroke-width="1"/>
<text x="120.65" y="769.3" text-anchor="middle" class="lb">TaskNum=50 CoreNum=9 ModeNum=5</text>
<text x="120.65" y="933.1" text-anchor="middle" class="lb">Number of iterations</text>
<text transform="translate(9.3,841.6) rotate(-90)" text-anchor="middle" class="lb">Fitness value</text>
<rect x="101.4" y="778.1" width="104.2" height="33.2" fill="#fff" stroke="#a8a8a8" stroke-width="0.8"/>
<line x1="103.1" y1="784" x2="118.9" y2="784" stroke="#0072BD" stroke-width="1.05"/>
<path d="M110.7 780.23L114 786.31L107.4 786.31Z" fill="none" stroke="#0072BD" stroke-width="1"/>
<text x="120.7" y="787" class="lb">MCCGA</text>
<line x1="103.1" y1="794.8" x2="118.9" y2="794.8" stroke="#D95319" stroke-width="1.05"/>
<circle cx="110.7" cy="794.8" r="2.85" fill="none" stroke="#D95319" stroke-width="1"/>
<text x="120.7" y="797.8" class="lb">MCCGA (GAP=10)</text>
<line x1="103.1" y1="805.6" x2="118.9" y2="805.6" stroke="#EDB120" stroke-width="1.05"/>
<rect x="108.16" y="803.06" width="5.07" height="5.07" fill="none" stroke="#EDB120" stroke-width="1"/>
<text x="120.7" y="808.6" class="lb">MCCGA (GAP=Max)</text>
<line x1="262.7" y1="887.27" x2="442.6" y2="887.27" stroke="#eeeeee" stroke-width="0.8"/>
<line x1="262.7" y1="864.43" x2="442.6" y2="864.43" stroke="#eeeeee" stroke-width="0.8"/>
<line x1="262.7" y1="841.6" x2="442.6" y2="841.6" stroke="#eeeeee" stroke-width="0.8"/>
<line x1="262.7" y1="818.77" x2="442.6" y2="818.77" stroke="#eeeeee" stroke-width="0.8"/>
<line x1="262.7" y1="795.93" x2="442.6" y2="795.93" stroke="#eeeeee" stroke-width="0.8"/>
<path d="M262.7 773.1H442.6V910.1" fill="none" stroke="#cfcfcf" stroke-width="0.8"/>
<path d="M262.7 773.1V910.1" fill="none" stroke="#bcbcbc" stroke-width="0.9"/>
<path d="M262.7 910.1H442.6" fill="none" stroke="#9c9c9c" stroke-width="0.9"/>
<line x1="262.7" y1="910.1" x2="264.5" y2="910.1" stroke="#8a8a8a" stroke-width="0.8"/>
<text x="244.86" y="913.4" textLength="14.04" lengthAdjust="spacingAndGlyphs" class="tk">100</text>
<line x1="262.7" y1="887.27" x2="264.5" y2="887.27" stroke="#8a8a8a" stroke-width="0.8"/>
<text x="244.86" y="890.57" textLength="14.04" lengthAdjust="spacingAndGlyphs" class="tk">150</text>
<line x1="262.7" y1="864.43" x2="264.5" y2="864.43" stroke="#8a8a8a" stroke-width="0.8"/>
<text x="244.86" y="867.73" textLength="14.04" lengthAdjust="spacingAndGlyphs" class="tk">200</text>
<line x1="262.7" y1="841.6" x2="264.5" y2="841.6" stroke="#8a8a8a" stroke-width="0.8"/>
<text x="244.86" y="844.9" textLength="14.04" lengthAdjust="spacingAndGlyphs" class="tk">250</text>
<line x1="262.7" y1="818.77" x2="264.5" y2="818.77" stroke="#8a8a8a" stroke-width="0.8"/>
<text x="244.86" y="822.07" textLength="14.04" lengthAdjust="spacingAndGlyphs" class="tk">300</text>
<line x1="262.7" y1="795.93" x2="264.5" y2="795.93" stroke="#8a8a8a" stroke-width="0.8"/>
<text x="244.86" y="799.23" textLength="14.04" lengthAdjust="spacingAndGlyphs" class="tk">350</text>
<line x1="262.7" y1="773.1" x2="264.5" y2="773.1" stroke="#8a8a8a" stroke-width="0.8"/>
<text x="244.86" y="776.4" textLength="14.04" lengthAdjust="spacingAndGlyphs" class="tk">400</text>
<line x1="262.7" y1="910.1" x2="262.7" y2="908.3" stroke="#8a8a8a" stroke-width="0.8"/>
<text x="260.36" y="922.6" textLength="4.68" lengthAdjust="spacingAndGlyphs" class="tk">0</text>
<line x1="298.68" y1="910.1" x2="298.68" y2="908.3" stroke="#8a8a8a" stroke-width="0.8"/>
<text x="294" y="922.6" textLength="9.36" lengthAdjust="spacingAndGlyphs" class="tk">50</text>
<line x1="334.66" y1="910.1" x2="334.66" y2="908.3" stroke="#8a8a8a" stroke-width="0.8"/>
<text x="327.64" y="922.6" textLength="14.04" lengthAdjust="spacingAndGlyphs" class="tk">100</text>
<line x1="370.64" y1="910.1" x2="370.64" y2="908.3" stroke="#8a8a8a" stroke-width="0.8"/>
<text x="363.62" y="922.6" textLength="14.04" lengthAdjust="spacingAndGlyphs" class="tk">150</text>
<line x1="406.62" y1="910.1" x2="406.62" y2="908.3" stroke="#8a8a8a" stroke-width="0.8"/>
<text x="399.6" y="922.6" textLength="14.04" lengthAdjust="spacingAndGlyphs" class="tk">200</text>
<line x1="442.6" y1="910.1" x2="442.6" y2="908.3" stroke="#8a8a8a" stroke-width="0.8"/>
<text x="435.58" y="922.6" textLength="14.04" lengthAdjust="spacingAndGlyphs" class="tk">250</text>
<polyline points="262.7,783.01 269.9,814.93 277.09,834.38 284.29,845.48 291.48,854.62 298.68,861.51 305.88,866.31 313.07,870.69 320.27,873.2 327.46,875.39 334.66,877.59 341.86,878.59 349.05,880.42 356.25,881.79 363.44,882.36 370.64,882.93 377.84,883.5 385.03,884.07 392.23,884.98 399.42,885.4 406.62,885.82 413.82,886.24 421.01,886.65 428.21,887.07 435.4,887.49 442.6,887.91" fill="none" stroke="#0072BD" stroke-width="1.05"/>
<path d="M262.7 779.24L266 785.32L259.4 785.32Z" fill="none" stroke="#0072BD" stroke-width="1"/>
<path d="M269.9 811.16L273.2 817.24L266.59 817.24Z" fill="none" stroke="#0072BD" stroke-width="1"/>
<path d="M277.09 830.62L280.4 836.69L273.79 836.69Z" fill="none" stroke="#0072BD" stroke-width="1"/>
<path d="M284.29 841.71L287.59 847.79L280.98 847.79Z" fill="none" stroke="#0072BD" stroke-width="1"/>
<path d="M291.48 850.85L294.79 856.93L288.18 856.93Z" fill="none" stroke="#0072BD" stroke-width="1"/>
<path d="M298.68 857.74L301.98 863.82L295.38 863.82Z" fill="none" stroke="#0072BD" stroke-width="1"/>
<path d="M305.88 862.54L309.18 868.62L302.57 868.62Z" fill="none" stroke="#0072BD" stroke-width="1"/>
<path d="M313.07 866.92L316.38 873L309.77 873Z" fill="none" stroke="#0072BD" stroke-width="1"/>
<path d="M320.27 869.43L323.57 875.51L316.96 875.51Z" fill="none" stroke="#0072BD" stroke-width="1"/>
<path d="M327.46 871.62L330.77 877.7L324.16 877.7Z" fill="none" stroke="#0072BD" stroke-width="1"/>
<path d="M334.66 873.82L337.96 879.9L331.36 879.9Z" fill="none" stroke="#0072BD" stroke-width="1"/>
<path d="M341.86 874.82L345.16 880.9L338.55 880.9Z" fill="none" stroke="#0072BD" stroke-width="1"/>
<path d="M349.05 876.65L352.36 882.73L345.75 882.73Z" fill="none" stroke="#0072BD" stroke-width="1"/>
<path d="M356.25 878.02L359.55 884.1L352.94 884.1Z" fill="none" stroke="#0072BD" stroke-width="1"/>
<path d="M363.44 878.59L366.75 884.67L360.14 884.67Z" fill="none" stroke="#0072BD" stroke-width="1"/>
<path d="M370.64 879.16L373.94 885.24L367.34 885.24Z" fill="none" stroke="#0072BD" stroke-width="1"/>
<path d="M377.84 879.73L381.14 885.81L374.53 885.81Z" fill="none" stroke="#0072BD" stroke-width="1"/>
<path d="M385.03 880.3L388.34 886.38L381.73 886.38Z" fill="none" stroke="#0072BD" stroke-width="1"/>
<path d="M392.23 881.21L395.53 887.29L388.92 887.29Z" fill="none" stroke="#0072BD" stroke-width="1"/>
<path d="M399.42 881.63L402.73 887.71L396.12 887.71Z" fill="none" stroke="#0072BD" stroke-width="1"/>
<path d="M406.62 882.05L409.92 888.13L403.32 888.13Z" fill="none" stroke="#0072BD" stroke-width="1"/>
<path d="M413.82 882.47L417.12 888.55L410.51 888.55Z" fill="none" stroke="#0072BD" stroke-width="1"/>
<path d="M421.01 882.88L424.32 888.96L417.71 888.96Z" fill="none" stroke="#0072BD" stroke-width="1"/>
<path d="M428.21 883.3L431.51 889.38L424.9 889.38Z" fill="none" stroke="#0072BD" stroke-width="1"/>
<path d="M435.4 883.72L438.71 889.8L432.1 889.8Z" fill="none" stroke="#0072BD" stroke-width="1"/>
<path d="M442.6 884.14L445.9 890.22L439.3 890.22Z" fill="none" stroke="#0072BD" stroke-width="1"/>
<polyline points="262.7,783.01 269.9,833.2 277.09,852.38 284.29,861.01 291.48,867.08 298.68,871.19 305.88,873.98 313.07,876.22 320.27,877.59 327.46,878.13 334.66,879 341.86,879.96 349.05,880.78 356.25,881.79 363.44,882 370.64,882.21 377.84,882.41 385.03,882.62 392.23,882.83 399.42,883.04 406.62,883.25 413.82,883.46 421.01,883.67 428.21,883.88 435.4,884.09 442.6,884.3" fill="none" stroke="#D95319" stroke-width="1.05"/>
<circle cx="262.7" cy="783.01" r="2.85" fill="none" stroke="#D95319" stroke-width="1"/>
<circle cx="269.9" cy="833.2" r="2.85" fill="none" stroke="#D95319" stroke-width="1"/>
<circle cx="277.09" cy="852.38" r="2.85" fill="none" stroke="#D95319" stroke-width="1"/>
<circle cx="284.29" cy="861.01" r="2.85" fill="none" stroke="#D95319" stroke-width="1"/>
<circle cx="291.48" cy="867.08" r="2.85" fill="none" stroke="#D95319" stroke-width="1"/>
<circle cx="298.68" cy="871.19" r="2.85" fill="none" stroke="#D95319" stroke-width="1"/>
<circle cx="305.88" cy="873.98" r="2.85" fill="none" stroke="#D95319" stroke-width="1"/>
<circle cx="313.07" cy="876.22" r="2.85" fill="none" stroke="#D95319" stroke-width="1"/>
<circle cx="320.27" cy="877.59" r="2.85" fill="none" stroke="#D95319" stroke-width="1"/>
<circle cx="327.46" cy="878.13" r="2.85" fill="none" stroke="#D95319" stroke-width="1"/>
<circle cx="334.66" cy="879" r="2.85" fill="none" stroke="#D95319" stroke-width="1"/>
<circle cx="341.86" cy="879.96" r="2.85" fill="none" stroke="#D95319" stroke-width="1"/>
<circle cx="349.05" cy="880.78" r="2.85" fill="none" stroke="#D95319" stroke-width="1"/>
<circle cx="356.25" cy="881.79" r="2.85" fill="none" stroke="#D95319" stroke-width="1"/>
<circle cx="363.44" cy="882" r="2.85" fill="none" stroke="#D95319" stroke-width="1"/>
<circle cx="370.64" cy="882.21" r="2.85" fill="none" stroke="#D95319" stroke-width="1"/>
<circle cx="377.84" cy="882.41" r="2.85" fill="none" stroke="#D95319" stroke-width="1"/>
<circle cx="385.03" cy="882.62" r="2.85" fill="none" stroke="#D95319" stroke-width="1"/>
<circle cx="392.23" cy="882.83" r="2.85" fill="none" stroke="#D95319" stroke-width="1"/>
<circle cx="399.42" cy="883.04" r="2.85" fill="none" stroke="#D95319" stroke-width="1"/>
<circle cx="406.62" cy="883.25" r="2.85" fill="none" stroke="#D95319" stroke-width="1"/>
<circle cx="413.82" cy="883.46" r="2.85" fill="none" stroke="#D95319" stroke-width="1"/>
<circle cx="421.01" cy="883.67" r="2.85" fill="none" stroke="#D95319" stroke-width="1"/>
<circle cx="428.21" cy="883.88" r="2.85" fill="none" stroke="#D95319" stroke-width="1"/>
<circle cx="435.4" cy="884.09" r="2.85" fill="none" stroke="#D95319" stroke-width="1"/>
<circle cx="442.6" cy="884.3" r="2.85" fill="none" stroke="#D95319" stroke-width="1"/>
<polyline points="262.7,783.01 269.9,836.03 277.09,852.38 284.29,861.01 291.48,867.08 298.68,872.11 305.88,875.39 313.07,877.59 320.27,878.59 327.46,879.96 334.66,880.78 341.86,881.07 349.05,881.35 356.25,881.63 363.44,881.91 370.64,882.2 377.84,882.48 385.03,882.76 392.23,883.05 399.42,883.33 406.62,883.61 413.82,883.9 421.01,884.18 428.21,884.46 435.4,884.75 442.6,885.03" fill="none" stroke="#EDB120" stroke-width="1.05"/>
<rect x="260.16" y="780.47" width="5.07" height="5.07" fill="none" stroke="#EDB120" stroke-width="1"/>
<rect x="267.36" y="833.49" width="5.07" height="5.07" fill="none" stroke="#EDB120" stroke-width="1"/>
<rect x="274.56" y="849.84" width="5.07" height="5.07" fill="none" stroke="#EDB120" stroke-width="1"/>
<rect x="281.75" y="858.47" width="5.07" height="5.07" fill="none" stroke="#EDB120" stroke-width="1"/>
<rect x="288.95" y="864.54" width="5.07" height="5.07" fill="none" stroke="#EDB120" stroke-width="1"/>
<rect x="296.14" y="869.57" width="5.07" height="5.07" fill="none" stroke="#EDB120" stroke-width="1"/>
<rect x="303.34" y="872.86" width="5.07" height="5.07" fill="none" stroke="#EDB120" stroke-width="1"/>
<rect x="310.54" y="875.05" width="5.07" height="5.07" fill="none" stroke="#EDB120" stroke-width="1"/>
<rect x="317.73" y="876.05" width="5.07" height="5.07" fill="none" stroke="#EDB120" stroke-width="1"/>
<rect x="324.93" y="877.42" width="5.07" height="5.07" fill="none" stroke="#EDB120" stroke-width="1"/>
<rect x="332.12" y="878.25" width="5.07" height="5.07" fill="none" stroke="#EDB120" stroke-width="1"/>
<rect x="339.32" y="878.53" width="5.07" height="5.07" fill="none" stroke="#EDB120" stroke-width="1"/>
<rect x="346.52" y="878.81" width="5.07" height="5.07" fill="none" stroke="#EDB120" stroke-width="1"/>
<rect x="353.71" y="879.09" width="5.07" height="5.07" fill="none" stroke="#EDB120" stroke-width="1"/>
<rect x="360.91" y="879.38" width="5.07" height="5.07" fill="none" stroke="#EDB120" stroke-width="1"/>
<rect x="368.1" y="879.66" width="5.07" height="5.07" fill="none" stroke="#EDB120" stroke-width="1"/>
<rect x="375.3" y="879.94" width="5.07" height="5.07" fill="none" stroke="#EDB120" stroke-width="1"/>
<rect x="382.5" y="880.23" width="5.07" height="5.07" fill="none" stroke="#EDB120" stroke-width="1"/>
<rect x="389.69" y="880.51" width="5.07" height="5.07" fill="none" stroke="#EDB120" stroke-width="1"/>
<rect x="396.89" y="880.79" width="5.07" height="5.07" fill="none" stroke="#EDB120" stroke-width="1"/>
<rect x="404.08" y="881.08" width="5.07" height="5.07" fill="none" stroke="#EDB120" stroke-width="1"/>
<rect x="411.28" y="881.36" width="5.07" height="5.07" fill="none" stroke="#EDB120" stroke-width="1"/>
<rect x="418.48" y="881.64" width="5.07" height="5.07" fill="none" stroke="#EDB120" stroke-width="1"/>
<rect x="425.67" y="881.93" width="5.07" height="5.07" fill="none" stroke="#EDB120" stroke-width="1"/>
<rect x="432.87" y="882.21" width="5.07" height="5.07" fill="none" stroke="#EDB120" stroke-width="1"/>
<rect x="440.06" y="882.49" width="5.07" height="5.07" fill="none" stroke="#EDB120" stroke-width="1"/>
<text x="352.65" y="769.3" text-anchor="middle" class="lb">TaskNum=50 CoreNum=9 ModeNum=10</text>
<text x="352.65" y="933.1" text-anchor="middle" class="lb">Number of iterations</text>
<text transform="translate(241.3,841.6) rotate(-90)" text-anchor="middle" class="lb">Fitness value</text>
<rect x="333.4" y="778.1" width="104.2" height="33.2" fill="#fff" stroke="#a8a8a8" stroke-width="0.8"/>
<line x1="335.1" y1="784" x2="350.9" y2="784" stroke="#0072BD" stroke-width="1.05"/>
<path d="M342.7 780.23L346 786.31L339.4 786.31Z" fill="none" stroke="#0072BD" stroke-width="1"/>
<text x="352.7" y="787" class="lb">MCCGA</text>
<line x1="335.1" y1="794.8" x2="350.9" y2="794.8" stroke="#D95319" stroke-width="1.05"/>
<circle cx="342.7" cy="794.8" r="2.85" fill="none" stroke="#D95319" stroke-width="1"/>
<text x="352.7" y="797.8" class="lb">MCCGA (GAP=10)</text>
<line x1="335.1" y1="805.6" x2="350.9" y2="805.6" stroke="#EDB120" stroke-width="1.05"/>
<rect x="340.16" y="803.06" width="5.07" height="5.07" fill="none" stroke="#EDB120" stroke-width="1"/>
<text x="352.7" y="808.6" class="lb">MCCGA (GAP=Max)</text>
<line x1="495" y1="887.27" x2="675.1" y2="887.27" stroke="#eeeeee" stroke-width="0.8"/>
<line x1="495" y1="864.43" x2="675.1" y2="864.43" stroke="#eeeeee" stroke-width="0.8"/>
<line x1="495" y1="841.6" x2="675.1" y2="841.6" stroke="#eeeeee" stroke-width="0.8"/>
<line x1="495" y1="818.77" x2="675.1" y2="818.77" stroke="#eeeeee" stroke-width="0.8"/>
<line x1="495" y1="795.93" x2="675.1" y2="795.93" stroke="#eeeeee" stroke-width="0.8"/>
<path d="M495 773.1H675.1V910.1" fill="none" stroke="#cfcfcf" stroke-width="0.8"/>
<path d="M495 773.1V910.1" fill="none" stroke="#bcbcbc" stroke-width="0.9"/>
<path d="M495 910.1H675.1" fill="none" stroke="#9c9c9c" stroke-width="0.9"/>
<line x1="495" y1="910.1" x2="496.8" y2="910.1" stroke="#8a8a8a" stroke-width="0.8"/>
<text x="477.16" y="913.4" textLength="14.04" lengthAdjust="spacingAndGlyphs" class="tk">100</text>
<line x1="495" y1="887.27" x2="496.8" y2="887.27" stroke="#8a8a8a" stroke-width="0.8"/>
<text x="477.16" y="890.57" textLength="14.04" lengthAdjust="spacingAndGlyphs" class="tk">150</text>
<line x1="495" y1="864.43" x2="496.8" y2="864.43" stroke="#8a8a8a" stroke-width="0.8"/>
<text x="477.16" y="867.73" textLength="14.04" lengthAdjust="spacingAndGlyphs" class="tk">200</text>
<line x1="495" y1="841.6" x2="496.8" y2="841.6" stroke="#8a8a8a" stroke-width="0.8"/>
<text x="477.16" y="844.9" textLength="14.04" lengthAdjust="spacingAndGlyphs" class="tk">250</text>
<line x1="495" y1="818.77" x2="496.8" y2="818.77" stroke="#8a8a8a" stroke-width="0.8"/>
<text x="477.16" y="822.07" textLength="14.04" lengthAdjust="spacingAndGlyphs" class="tk">300</text>
<line x1="495" y1="795.93" x2="496.8" y2="795.93" stroke="#8a8a8a" stroke-width="0.8"/>
<text x="477.16" y="799.23" textLength="14.04" lengthAdjust="spacingAndGlyphs" class="tk">350</text>
<line x1="495" y1="773.1" x2="496.8" y2="773.1" stroke="#8a8a8a" stroke-width="0.8"/>
<text x="477.16" y="776.4" textLength="14.04" lengthAdjust="spacingAndGlyphs" class="tk">400</text>
<line x1="495" y1="910.1" x2="495" y2="908.3" stroke="#8a8a8a" stroke-width="0.8"/>
<text x="492.66" y="922.6" textLength="4.68" lengthAdjust="spacingAndGlyphs" class="tk">0</text>
<line x1="531.02" y1="910.1" x2="531.02" y2="908.3" stroke="#8a8a8a" stroke-width="0.8"/>
<text x="526.34" y="922.6" textLength="9.36" lengthAdjust="spacingAndGlyphs" class="tk">50</text>
<line x1="567.04" y1="910.1" x2="567.04" y2="908.3" stroke="#8a8a8a" stroke-width="0.8"/>
<text x="560.02" y="922.6" textLength="14.04" lengthAdjust="spacingAndGlyphs" class="tk">100</text>
<line x1="603.06" y1="910.1" x2="603.06" y2="908.3" stroke="#8a8a8a" stroke-width="0.8"/>
<text x="596.04" y="922.6" textLength="14.04" lengthAdjust="spacingAndGlyphs" class="tk">150</text>
<line x1="639.08" y1="910.1" x2="639.08" y2="908.3" stroke="#8a8a8a" stroke-width="0.8"/>
<text x="632.06" y="922.6" textLength="14.04" lengthAdjust="spacingAndGlyphs" class="tk">200</text>
<line x1="675.1" y1="910.1" x2="675.1" y2="908.3" stroke="#8a8a8a" stroke-width="0.8"/>
<text x="668.08" y="922.6" textLength="14.04" lengthAdjust="spacingAndGlyphs" class="tk">250</text>
<polyline points="495,785.29 502.2,815.8 509.41,833.79 516.61,845.48 523.82,853.2 531.02,860.69 538.22,866.49 545.43,870.42 552.63,873.52 559.84,876.22 567.04,878.22 574.24,880.42 581.45,881.33 588.65,882.29 595.86,883.61 603.06,884.26 610.26,884.9 617.47,885.54 624.67,886.19 631.88,886.83 639.08,887.47 646.28,888.12 653.49,888.76 660.69,889.4 667.9,890.05 675.1,890.69" fill="none" stroke="#0072BD" stroke-width="1.05"/>
<path d="M495 781.52L498.3 787.6L491.7 787.6Z" fill="none" stroke="#0072BD" stroke-width="1"/>
<path d="M502.2 812.03L505.51 818.11L498.9 818.11Z" fill="none" stroke="#0072BD" stroke-width="1"/>
<path d="M509.41 830.02L512.71 836.1L506.1 836.1Z" fill="none" stroke="#0072BD" stroke-width="1"/>
<path d="M516.61 841.71L519.92 847.79L513.31 847.79Z" fill="none" stroke="#0072BD" stroke-width="1"/>
<path d="M523.82 849.43L527.12 855.51L520.51 855.51Z" fill="none" stroke="#0072BD" stroke-width="1"/>
<path d="M531.02 856.92L534.32 863L527.72 863Z" fill="none" stroke="#0072BD" stroke-width="1"/>
<path d="M538.22 862.72L541.53 868.8L534.92 868.8Z" fill="none" stroke="#0072BD" stroke-width="1"/>
<path d="M545.43 866.65L548.73 872.73L542.12 872.73Z" fill="none" stroke="#0072BD" stroke-width="1"/>
<path d="M552.63 869.75L555.94 875.83L549.33 875.83Z" fill="none" stroke="#0072BD" stroke-width="1"/>
<path d="M559.84 872.45L563.14 878.53L556.53 878.53Z" fill="none" stroke="#0072BD" stroke-width="1"/>
<path d="M567.04 874.46L570.34 880.53L563.74 880.53Z" fill="none" stroke="#0072BD" stroke-width="1"/>
<path d="M574.24 876.65L577.55 882.73L570.94 882.73Z" fill="none" stroke="#0072BD" stroke-width="1"/>
<path d="M581.45 877.56L584.75 883.64L578.14 883.64Z" fill="none" stroke="#0072BD" stroke-width="1"/>
<path d="M588.65 878.52L591.96 884.6L585.35 884.6Z" fill="none" stroke="#0072BD" stroke-width="1"/>
<path d="M595.86 879.84L599.16 885.92L592.55 885.92Z" fill="none" stroke="#0072BD" stroke-width="1"/>
<path d="M603.06 880.49L606.36 886.57L599.76 886.57Z" fill="none" stroke="#0072BD" stroke-width="1"/>
<path d="M610.26 881.13L613.57 887.21L606.96 887.21Z" fill="none" stroke="#0072BD" stroke-width="1"/>
<path d="M617.47 881.77L620.77 887.85L614.16 887.85Z" fill="none" stroke="#0072BD" stroke-width="1"/>
<path d="M624.67 882.42L627.98 888.5L621.37 888.5Z" fill="none" stroke="#0072BD" stroke-width="1"/>
<path d="M631.88 883.06L635.18 889.14L628.57 889.14Z" fill="none" stroke="#0072BD" stroke-width="1"/>
<path d="M639.08 883.71L642.38 889.78L635.78 889.78Z" fill="none" stroke="#0072BD" stroke-width="1"/>
<path d="M646.28 884.35L649.59 890.43L642.98 890.43Z" fill="none" stroke="#0072BD" stroke-width="1"/>
<path d="M653.49 884.99L656.79 891.07L650.18 891.07Z" fill="none" stroke="#0072BD" stroke-width="1"/>
<path d="M660.69 885.64L664 891.71L657.39 891.71Z" fill="none" stroke="#0072BD" stroke-width="1"/>
<path d="M667.9 886.28L671.2 892.36L664.59 892.36Z" fill="none" stroke="#0072BD" stroke-width="1"/>
<path d="M675.1 886.92L678.4 893L671.8 893Z" fill="none" stroke="#0072BD" stroke-width="1"/>
<polyline points="495,785.29 502.2,840.69 509.41,857.4 516.61,865.71 523.82,871.19 531.02,875.39 538.22,876.81 545.43,880.1 552.63,881.33 559.84,882.24 567.04,882.7 574.24,883.61 581.45,883.82 588.65,884.02 595.86,884.23 603.06,884.44 610.26,884.64 617.47,884.85 624.67,885.05 631.88,885.26 639.08,885.46 646.28,885.67 653.49,885.87 660.69,886.08 667.9,886.28 675.1,886.49" fill="none" stroke="#D95319" stroke-width="1.05"/>
<circle cx="495" cy="785.29" r="2.85" fill="none" stroke="#D95319" stroke-width="1"/>
<circle cx="502.2" cy="840.69" r="2.85" fill="none" stroke="#D95319" stroke-width="1"/>
<circle cx="509.41" cy="857.4" r="2.85" fill="none" stroke="#D95319" stroke-width="1"/>
<circle cx="516.61" cy="865.71" r="2.85" fill="none" stroke="#D95319" stroke-width="1"/>
<circle cx="523.82" cy="871.19" r="2.85" fill="none" stroke="#D95319" stroke-width="1"/>
<circle cx="531.02" cy="875.39" r="2.85" fill="none" stroke="#D95319" stroke-width="1"/>
<circle cx="538.22" cy="876.81" r="2.85" fill="none" stroke="#D95319" stroke-width="1"/>
<circle cx="545.43" cy="880.1" r="2.85" fill="none" stroke="#D95319" stroke-width="1"/>
<circle cx="552.63" cy="881.33" r="2.85" fill="none" stroke="#D95319" stroke-width="1"/>
<circle cx="559.84" cy="882.24" r="2.85" fill="none" stroke="#D95319" stroke-width="1"/>
<circle cx="567.04" cy="882.7" r="2.85" fill="none" stroke="#D95319" stroke-width="1"/>
<circle cx="574.24" cy="883.61" r="2.85" fill="none" stroke="#D95319" stroke-width="1"/>
<circle cx="581.45" cy="883.82" r="2.85" fill="none" stroke="#D95319" stroke-width="1"/>
<circle cx="588.65" cy="884.02" r="2.85" fill="none" stroke="#D95319" stroke-width="1"/>
<circle cx="595.86" cy="884.23" r="2.85" fill="none" stroke="#D95319" stroke-width="1"/>
<circle cx="603.06" cy="884.44" r="2.85" fill="none" stroke="#D95319" stroke-width="1"/>
<circle cx="610.26" cy="884.64" r="2.85" fill="none" stroke="#D95319" stroke-width="1"/>
<circle cx="617.47" cy="884.85" r="2.85" fill="none" stroke="#D95319" stroke-width="1"/>
<circle cx="624.67" cy="885.05" r="2.85" fill="none" stroke="#D95319" stroke-width="1"/>
<circle cx="631.88" cy="885.26" r="2.85" fill="none" stroke="#D95319" stroke-width="1"/>
<circle cx="639.08" cy="885.46" r="2.85" fill="none" stroke="#D95319" stroke-width="1"/>
<circle cx="646.28" cy="885.67" r="2.85" fill="none" stroke="#D95319" stroke-width="1"/>
<circle cx="653.49" cy="885.87" r="2.85" fill="none" stroke="#D95319" stroke-width="1"/>
<circle cx="660.69" cy="886.08" r="2.85" fill="none" stroke="#D95319" stroke-width="1"/>
<circle cx="667.9" cy="886.28" r="2.85" fill="none" stroke="#D95319" stroke-width="1"/>
<circle cx="675.1" cy="886.49" r="2.85" fill="none" stroke="#D95319" stroke-width="1"/>
<polyline points="495,785.29 502.2,840.69 509.41,857.4 516.61,867.08 523.82,871.19 531.02,875.39 538.22,877.9 545.43,880.87 552.63,882.24 559.84,882.7 567.04,882.94 574.24,883.17 581.45,883.41 588.65,883.65 595.86,883.88 603.06,884.12 610.26,884.36 617.47,884.6 624.67,884.83 631.88,885.07 639.08,885.31 646.28,885.54 653.49,885.78 660.69,886.02 667.9,886.25 675.1,886.49" fill="none" stroke="#EDB120" stroke-width="1.05"/>
<rect x="492.46" y="782.76" width="5.07" height="5.07" fill="none" stroke="#EDB120" stroke-width="1"/>
<rect x="499.67" y="838.15" width="5.07" height="5.07" fill="none" stroke="#EDB120" stroke-width="1"/>
<rect x="506.87" y="854.86" width="5.07" height="5.07" fill="none" stroke="#EDB120" stroke-width="1"/>
<rect x="514.07" y="864.54" width="5.07" height="5.07" fill="none" stroke="#EDB120" stroke-width="1"/>
<rect x="521.28" y="868.65" width="5.07" height="5.07" fill="none" stroke="#EDB120" stroke-width="1"/>
<rect x="528.48" y="872.86" width="5.07" height="5.07" fill="none" stroke="#EDB120" stroke-width="1"/>
<rect x="535.69" y="875.37" width="5.07" height="5.07" fill="none" stroke="#EDB120" stroke-width="1"/>
<rect x="542.89" y="878.34" width="5.07" height="5.07" fill="none" stroke="#EDB120" stroke-width="1"/>
<rect x="550.1" y="879.71" width="5.07" height="5.07" fill="none" stroke="#EDB120" stroke-width="1"/>
<rect x="557.3" y="880.16" width="5.07" height="5.07" fill="none" stroke="#EDB120" stroke-width="1"/>
<rect x="564.5" y="880.4" width="5.07" height="5.07" fill="none" stroke="#EDB120" stroke-width="1"/>
<rect x="571.71" y="880.64" width="5.07" height="5.07" fill="none" stroke="#EDB120" stroke-width="1"/>
<rect x="578.91" y="880.87" width="5.07" height="5.07" fill="none" stroke="#EDB120" stroke-width="1"/>
<rect x="586.12" y="881.11" width="5.07" height="5.07" fill="none" stroke="#EDB120" stroke-width="1"/>
<rect x="593.32" y="881.35" width="5.07" height="5.07" fill="none" stroke="#EDB120" stroke-width="1"/>
<rect x="600.52" y="881.58" width="5.07" height="5.07" fill="none" stroke="#EDB120" stroke-width="1"/>
<rect x="607.73" y="881.82" width="5.07" height="5.07" fill="none" stroke="#EDB120" stroke-width="1"/>
<rect x="614.93" y="882.06" width="5.07" height="5.07" fill="none" stroke="#EDB120" stroke-width="1"/>
<rect x="622.13" y="882.3" width="5.07" height="5.07" fill="none" stroke="#EDB120" stroke-width="1"/>
<rect x="629.34" y="882.53" width="5.07" height="5.07" fill="none" stroke="#EDB120" stroke-width="1"/>
<rect x="636.54" y="882.77" width="5.07" height="5.07" fill="none" stroke="#EDB120" stroke-width="1"/>
<rect x="643.75" y="883.01" width="5.07" height="5.07" fill="none" stroke="#EDB120" stroke-width="1"/>
<rect x="650.95" y="883.24" width="5.07" height="5.07" fill="none" stroke="#EDB120" stroke-width="1"/>
<rect x="658.15" y="883.48" width="5.07" height="5.07" fill="none" stroke="#EDB120" stroke-width="1"/>
<rect x="665.36" y="883.72" width="5.07" height="5.07" fill="none" stroke="#EDB120" stroke-width="1"/>
<rect x="672.56" y="883.95" width="5.07" height="5.07" fill="none" stroke="#EDB120" stroke-width="1"/>
<text x="585.05" y="769.3" text-anchor="middle" class="lb">TaskNum=50 CoreNum=9 ModeNum=15</text>
<text x="585.05" y="933.1" text-anchor="middle" class="lb">Number of iterations</text>
<text transform="translate(473.6,841.6) rotate(-90)" text-anchor="middle" class="lb">Fitness value</text>
<rect x="565.9" y="778.1" width="104.2" height="33.2" fill="#fff" stroke="#a8a8a8" stroke-width="0.8"/>
<line x1="567.6" y1="784" x2="583.4" y2="784" stroke="#0072BD" stroke-width="1.05"/>
<path d="M575.2 780.23L578.5 786.31L571.9 786.31Z" fill="none" stroke="#0072BD" stroke-width="1"/>
<text x="585.2" y="787" class="lb">MCCGA</text>
<line x1="567.6" y1="794.8" x2="583.4" y2="794.8" stroke="#D95319" stroke-width="1.05"/>
<circle cx="575.2" cy="794.8" r="2.85" fill="none" stroke="#D95319" stroke-width="1"/>
<text x="585.2" y="797.8" class="lb">MCCGA (GAP=10)</text>
<line x1="567.6" y1="805.6" x2="583.4" y2="805.6" stroke="#EDB120" stroke-width="1.05"/>
<rect x="572.66" y="803.06" width="5.07" height="5.07" fill="none" stroke="#EDB120" stroke-width="1"/>
<text x="585.2" y="808.6" class="lb">MCCGA (GAP=Max)</text>
<line x1="30.7" y1="1123.47" x2="210.3" y2="1123.47" stroke="#eeeeee" stroke-width="0.8"/>
<line x1="30.7" y1="1103.94" x2="210.3" y2="1103.94" stroke="#eeeeee" stroke-width="0.8"/>
<line x1="30.7" y1="1084.41" x2="210.3" y2="1084.41" stroke="#eeeeee" stroke-width="0.8"/>
<line x1="30.7" y1="1064.89" x2="210.3" y2="1064.89" stroke="#eeeeee" stroke-width="0.8"/>
<line x1="30.7" y1="1045.36" x2="210.3" y2="1045.36" stroke="#eeeeee" stroke-width="0.8"/>
<line x1="30.7" y1="1025.83" x2="210.3" y2="1025.83" stroke="#eeeeee" stroke-width="0.8"/>
<path d="M30.7 1006.3H210.3V1143" fill="none" stroke="#cfcfcf" stroke-width="0.8"/>
<rect x="50.67" y="1135.97" width="6.65" height="7.03" fill="#1f6fb6" stroke="#333" stroke-width="0.35"/>
<rect x="57.31" y="1138.7" width="6.65" height="4.3" fill="#D95319" stroke="#333" stroke-width="0.35"/>
<rect x="63.96" y="1138.7" width="6.65" height="4.3" fill="#EDB120" stroke="#333" stroke-width="0.35"/>
<rect x="80.6" y="1111.75" width="6.65" height="31.25" fill="#1f6fb6" stroke="#333" stroke-width="0.35"/>
<rect x="87.24" y="1125.42" width="6.65" height="17.58" fill="#D95319" stroke="#333" stroke-width="0.35"/>
<rect x="93.89" y="1126.21" width="6.65" height="16.79" fill="#EDB120" stroke="#333" stroke-width="0.35"/>
<rect x="110.53" y="1073.87" width="6.65" height="69.13" fill="#1f6fb6" stroke="#333" stroke-width="0.35"/>
<rect x="117.18" y="1101.6" width="6.65" height="41.4" fill="#D95319" stroke="#333" stroke-width="0.35"/>
<rect x="123.82" y="1104.33" width="6.65" height="38.67" fill="#EDB120" stroke="#333" stroke-width="0.35"/>
<rect x="140.47" y="1018.02" width="6.65" height="124.98" fill="#1f6fb6" stroke="#333" stroke-width="0.35"/>
<rect x="147.11" y="1067.62" width="6.65" height="75.38" fill="#D95319" stroke="#333" stroke-width="0.35"/>
<rect x="153.76" y="1072.31" width="6.65" height="70.69" fill="#EDB120" stroke="#333" stroke-width="0.35"/>
<rect x="170.4" y="1012.94" width="6.65" height="130.06" fill="#1f6fb6" stroke="#333" stroke-width="0.35"/>
<rect x="177.04" y="1030.12" width="6.65" height="112.88" fill="#D95319" stroke="#333" stroke-width="0.35"/>
<rect x="183.69" y="1037.16" width="6.65" height="105.84" fill="#EDB120" stroke="#333" stroke-width="0.35"/>
<path d="M30.7 1006.3V1143" fill="none" stroke="#bcbcbc" stroke-width="0.9"/>
<path d="M30.7 1143H210.3" fill="none" stroke="#9c9c9c" stroke-width="0.9"/>
<line x1="30.7" y1="1143" x2="32.5" y2="1143" stroke="#8a8a8a" stroke-width="0.8"/>
<text x="22.22" y="1146.3" textLength="4.68" lengthAdjust="spacingAndGlyphs" class="tk">0</text>
<line x1="30.7" y1="1123.47" x2="32.5" y2="1123.47" stroke="#8a8a8a" stroke-width="0.8"/>
<text x="22.22" y="1126.77" textLength="4.68" lengthAdjust="spacingAndGlyphs" class="tk">5</text>
<line x1="30.7" y1="1103.94" x2="32.5" y2="1103.94" stroke="#8a8a8a" stroke-width="0.8"/>
<text x="17.54" y="1107.24" textLength="9.36" lengthAdjust="spacingAndGlyphs" class="tk">10</text>
<line x1="30.7" y1="1084.41" x2="32.5" y2="1084.41" stroke="#8a8a8a" stroke-width="0.8"/>
<text x="17.54" y="1087.71" textLength="9.36" lengthAdjust="spacingAndGlyphs" class="tk">15</text>
<line x1="30.7" y1="1064.89" x2="32.5" y2="1064.89" stroke="#8a8a8a" stroke-width="0.8"/>
<text x="17.54" y="1068.19" textLength="9.36" lengthAdjust="spacingAndGlyphs" class="tk">20</text>
<line x1="30.7" y1="1045.36" x2="32.5" y2="1045.36" stroke="#8a8a8a" stroke-width="0.8"/>
<text x="17.54" y="1048.66" textLength="9.36" lengthAdjust="spacingAndGlyphs" class="tk">25</text>
<line x1="30.7" y1="1025.83" x2="32.5" y2="1025.83" stroke="#8a8a8a" stroke-width="0.8"/>
<text x="17.54" y="1029.13" textLength="9.36" lengthAdjust="spacingAndGlyphs" class="tk">30</text>
<line x1="30.7" y1="1006.3" x2="32.5" y2="1006.3" stroke="#8a8a8a" stroke-width="0.8"/>
<text x="17.54" y="1009.6" textLength="9.36" lengthAdjust="spacingAndGlyphs" class="tk">35</text>
<line x1="60.63" y1="1143" x2="60.63" y2="1141.2" stroke="#8a8a8a" stroke-width="0.8"/>
<text x="55.95" y="1154.6" textLength="9.36" lengthAdjust="spacingAndGlyphs" class="tk">10</text>
<line x1="90.57" y1="1143" x2="90.57" y2="1141.2" stroke="#8a8a8a" stroke-width="0.8"/>
<text x="85.89" y="1154.6" textLength="9.36" lengthAdjust="spacingAndGlyphs" class="tk">20</text>
<line x1="120.5" y1="1143" x2="120.5" y2="1141.2" stroke="#8a8a8a" stroke-width="0.8"/>
<text x="115.82" y="1154.6" textLength="9.36" lengthAdjust="spacingAndGlyphs" class="tk">30</text>
<line x1="150.43" y1="1143" x2="150.43" y2="1141.2" stroke="#8a8a8a" stroke-width="0.8"/>
<text x="145.75" y="1154.6" textLength="9.36" lengthAdjust="spacingAndGlyphs" class="tk">40</text>
<line x1="180.37" y1="1143" x2="180.37" y2="1141.2" stroke="#8a8a8a" stroke-width="0.8"/>
<text x="175.69" y="1154.6" textLength="9.36" lengthAdjust="spacingAndGlyphs" class="tk">50</text>
<text x="120.5" y="1002.5" text-anchor="middle" class="lb">ModeNum=5</text>
<text x="120.5" y="1165.1" text-anchor="middle" class="lb">Number of Tasks</text>
<text transform="translate(13.9,1074.65) rotate(-90)" text-anchor="middle" class="lb">Runtime (minute)</text>
<rect x="35" y="1010.7" width="104.4" height="33" fill="#fff" stroke="#a8a8a8" stroke-width="0.8"/>
<rect x="36.8" y="1013.1" width="15.8" height="7.2" fill="#1f6fb6" stroke="#333" stroke-width="0.35"/>
<text x="54.5" y="1019.7" class="lb">MCCGA</text>
<rect x="36.8" y="1023.8" width="15.8" height="7.2" fill="#D95319" stroke="#333" stroke-width="0.35"/>
<text x="54.5" y="1030.4" class="lb">MCCGA (GAP=10)</text>
<rect x="36.8" y="1034.5" width="15.8" height="7.2" fill="#EDB120" stroke="#333" stroke-width="0.35"/>
<text x="54.5" y="1041.1" class="lb">MCCGA (GAP=Max)</text>
<line x1="262.6" y1="1108.88" x2="442.2" y2="1108.88" stroke="#eeeeee" stroke-width="0.8"/>
<line x1="262.6" y1="1074.55" x2="442.2" y2="1074.55" stroke="#eeeeee" stroke-width="0.8"/>
<line x1="262.6" y1="1040.22" x2="442.2" y2="1040.22" stroke="#eeeeee" stroke-width="0.8"/>
<path d="M262.6 1005.9H442.2V1143.2" fill="none" stroke="#cfcfcf" stroke-width="0.8"/>
<rect x="282.57" y="1138.12" width="6.65" height="5.08" fill="#1f6fb6" stroke="#333" stroke-width="0.35"/>
<rect x="289.21" y="1141" width="6.65" height="2.2" fill="#D95319" stroke="#333" stroke-width="0.35"/>
<rect x="295.86" y="1141.14" width="6.65" height="2.06" fill="#EDB120" stroke="#333" stroke-width="0.35"/>
<rect x="312.5" y="1124.39" width="6.65" height="18.81" fill="#1f6fb6" stroke="#333" stroke-width="0.35"/>
<rect x="319.14" y="1135.37" width="6.65" height="7.83" fill="#D95319" stroke="#333" stroke-width="0.35"/>
<rect x="325.79" y="1137.09" width="6.65" height="6.11" fill="#EDB120" stroke="#333" stroke-width="0.35"/>
<rect x="342.43" y="1099.13" width="6.65" height="44.07" fill="#1f6fb6" stroke="#333" stroke-width="0.35"/>
<rect x="349.08" y="1125.69" width="6.65" height="17.51" fill="#D95319" stroke="#333" stroke-width="0.35"/>
<rect x="355.72" y="1128.37" width="6.65" height="14.83" fill="#EDB120" stroke="#333" stroke-width="0.35"/>
<rect x="372.37" y="1071.46" width="6.65" height="71.74" fill="#1f6fb6" stroke="#333" stroke-width="0.35"/>
<rect x="379.01" y="1113.54" width="6.65" height="29.66" fill="#D95319" stroke="#333" stroke-width="0.35"/>
<rect x="385.66" y="1117.94" width="6.65" height="25.26" fill="#EDB120" stroke="#333" stroke-width="0.35"/>
<rect x="402.3" y="1027.32" width="6.65" height="115.88" fill="#1f6fb6" stroke="#333" stroke-width="0.35"/>
<rect x="408.94" y="1091.3" width="6.65" height="51.9" fill="#D95319" stroke="#333" stroke-width="0.35"/>
<rect x="415.59" y="1099.4" width="6.65" height="43.8" fill="#EDB120" stroke="#333" stroke-width="0.35"/>
<path d="M262.6 1005.9V1143.2" fill="none" stroke="#bcbcbc" stroke-width="0.9"/>
<path d="M262.6 1143.2H442.2" fill="none" stroke="#9c9c9c" stroke-width="0.9"/>
<line x1="262.6" y1="1143.2" x2="264.4" y2="1143.2" stroke="#8a8a8a" stroke-width="0.8"/>
<text x="254.12" y="1146.5" textLength="4.68" lengthAdjust="spacingAndGlyphs" class="tk">0</text>
<line x1="262.6" y1="1108.88" x2="264.4" y2="1108.88" stroke="#8a8a8a" stroke-width="0.8"/>
<text x="249.44" y="1112.17" textLength="9.36" lengthAdjust="spacingAndGlyphs" class="tk">50</text>
<line x1="262.6" y1="1074.55" x2="264.4" y2="1074.55" stroke="#8a8a8a" stroke-width="0.8"/>
<text x="244.76" y="1077.85" textLength="14.04" lengthAdjust="spacingAndGlyphs" class="tk">100</text>
<line x1="262.6" y1="1040.22" x2="264.4" y2="1040.22" stroke="#8a8a8a" stroke-width="0.8"/>
<text x="244.76" y="1043.52" textLength="14.04" lengthAdjust="spacingAndGlyphs" class="tk">150</text>
<line x1="262.6" y1="1005.9" x2="264.4" y2="1005.9" stroke="#8a8a8a" stroke-width="0.8"/>
<text x="244.76" y="1009.2" textLength="14.04" lengthAdjust="spacingAndGlyphs" class="tk">200</text>
<line x1="292.53" y1="1143.2" x2="292.53" y2="1141.4" stroke="#8a8a8a" stroke-width="0.8"/>
<text x="287.85" y="1154.8" textLength="9.36" lengthAdjust="spacingAndGlyphs" class="tk">10</text>
<line x1="322.47" y1="1143.2" x2="322.47" y2="1141.4" stroke="#8a8a8a" stroke-width="0.8"/>
<text x="317.79" y="1154.8" textLength="9.36" lengthAdjust="spacingAndGlyphs" class="tk">20</text>
<line x1="352.4" y1="1143.2" x2="352.4" y2="1141.4" stroke="#8a8a8a" stroke-width="0.8"/>
<text x="347.72" y="1154.8" textLength="9.36" lengthAdjust="spacingAndGlyphs" class="tk">30</text>
<line x1="382.33" y1="1143.2" x2="382.33" y2="1141.4" stroke="#8a8a8a" stroke-width="0.8"/>
<text x="377.65" y="1154.8" textLength="9.36" lengthAdjust="spacingAndGlyphs" class="tk">40</text>
<line x1="412.27" y1="1143.2" x2="412.27" y2="1141.4" stroke="#8a8a8a" stroke-width="0.8"/>
<text x="407.59" y="1154.8" textLength="9.36" lengthAdjust="spacingAndGlyphs" class="tk">50</text>
<text x="352.4" y="1002.1" text-anchor="middle" class="lb">ModeNum=10</text>
<text x="352.4" y="1165.3" text-anchor="middle" class="lb">Number of Tasks</text>
<text transform="translate(241.2,1074.55) rotate(-90)" text-anchor="middle" class="lb">Runtime (minute)</text>
<rect x="266.9" y="1010.3" width="104.4" height="33" fill="#fff" stroke="#a8a8a8" stroke-width="0.8"/>
<rect x="268.7" y="1012.7" width="15.8" height="7.2" fill="#1f6fb6" stroke="#333" stroke-width="0.35"/>
<text x="286.4" y="1019.3" class="lb">MCCGA</text>
<rect x="268.7" y="1023.4" width="15.8" height="7.2" fill="#D95319" stroke="#333" stroke-width="0.35"/>
<text x="286.4" y="1030" class="lb">MCCGA (GAP=10)</text>
<rect x="268.7" y="1034.1" width="15.8" height="7.2" fill="#EDB120" stroke="#333" stroke-width="0.35"/>
<text x="286.4" y="1040.7" class="lb">MCCGA (GAP=Max)</text>
<line x1="495.3" y1="1123.59" x2="675" y2="1123.59" stroke="#eeeeee" stroke-width="0.8"/>
<line x1="495.3" y1="1103.97" x2="675" y2="1103.97" stroke="#eeeeee" stroke-width="0.8"/>
<line x1="495.3" y1="1084.36" x2="675" y2="1084.36" stroke="#eeeeee" stroke-width="0.8"/>
<line x1="495.3" y1="1064.74" x2="675" y2="1064.74" stroke="#eeeeee" stroke-width="0.8"/>
<line x1="495.3" y1="1045.13" x2="675" y2="1045.13" stroke="#eeeeee" stroke-width="0.8"/>
<line x1="495.3" y1="1025.51" x2="675" y2="1025.51" stroke="#eeeeee" stroke-width="0.8"/>
<path d="M495.3 1005.9H675V1143.2" fill="none" stroke="#cfcfcf" stroke-width="0.8"/>
<rect x="515.28" y="1137.63" width="6.65" height="5.57" fill="#1f6fb6" stroke="#333" stroke-width="0.35"/>
<rect x="521.93" y="1141.55" width="6.65" height="1.65" fill="#D95319" stroke="#333" stroke-width="0.35"/>
<rect x="528.57" y="1142.18" width="6.65" height="1.02" fill="#EDB120" stroke="#333" stroke-width="0.35"/>
<rect x="545.23" y="1120.45" width="6.65" height="22.75" fill="#1f6fb6" stroke="#333" stroke-width="0.35"/>
<rect x="551.88" y="1136.53" width="6.65" height="6.67" fill="#D95319" stroke="#333" stroke-width="0.35"/>
<rect x="558.52" y="1138.02" width="6.65" height="5.18" fill="#EDB120" stroke="#333" stroke-width="0.35"/>
<rect x="575.18" y="1091.81" width="6.65" height="51.39" fill="#1f6fb6" stroke="#333" stroke-width="0.35"/>
<rect x="581.83" y="1127.51" width="6.65" height="15.69" fill="#D95319" stroke="#333" stroke-width="0.35"/>
<rect x="588.47" y="1131.59" width="6.65" height="11.61" fill="#EDB120" stroke="#333" stroke-width="0.35"/>
<rect x="605.13" y="1069.84" width="6.65" height="73.36" fill="#1f6fb6" stroke="#333" stroke-width="0.35"/>
<rect x="611.78" y="1112.99" width="6.65" height="30.21" fill="#D95319" stroke="#333" stroke-width="0.35"/>
<rect x="618.42" y="1119.82" width="6.65" height="23.38" fill="#EDB120" stroke="#333" stroke-width="0.35"/>
<rect x="635.08" y="1005.9" width="6.65" height="137.3" fill="#1f6fb6" stroke="#333" stroke-width="0.35"/>
<rect x="641.73" y="1098.64" width="6.65" height="44.56" fill="#D95319" stroke="#333" stroke-width="0.35"/>
<rect x="648.37" y="1110.4" width="6.65" height="32.8" fill="#EDB120" stroke="#333" stroke-width="0.35"/>
<path d="M495.3 1005.9V1143.2" fill="none" stroke="#bcbcbc" stroke-width="0.9"/>
<path d="M495.3 1143.2H675" fill="none" stroke="#9c9c9c" stroke-width="0.9"/>
<line x1="495.3" y1="1143.2" x2="497.1" y2="1143.2" stroke="#8a8a8a" stroke-width="0.8"/>
<text x="486.82" y="1146.5" textLength="4.68" lengthAdjust="spacingAndGlyphs" class="tk">0</text>
<line x1="495.3" y1="1123.59" x2="497.1" y2="1123.59" stroke="#8a8a8a" stroke-width="0.8"/>
<text x="482.14" y="1126.89" textLength="9.36" lengthAdjust="spacingAndGlyphs" class="tk">50</text>
<line x1="495.3" y1="1103.97" x2="497.1" y2="1103.97" stroke="#8a8a8a" stroke-width="0.8"/>
<text x="477.46" y="1107.27" textLength="14.04" lengthAdjust="spacingAndGlyphs" class="tk">100</text>
<line x1="495.3" y1="1084.36" x2="497.1" y2="1084.36" stroke="#8a8a8a" stroke-width="0.8"/>
<text x="477.46" y="1087.66" textLength="14.04" lengthAdjust="spacingAndGlyphs" class="tk">150</text>
<line x1="495.3" y1="1064.74" x2="497.1" y2="1064.74" stroke="#8a8a8a" stroke-width="0.8"/>
<text x="477.46" y="1068.04" textLength="14.04" lengthAdjust="spacingAndGlyphs" class="tk">200</text>
<line x1="495.3" y1="1045.13" x2="497.1" y2="1045.13" stroke="#8a8a8a" stroke-width="0.8"/>
<text x="477.46" y="1048.43" textLength="14.04" lengthAdjust="spacingAndGlyphs" class="tk">250</text>
<line x1="495.3" y1="1025.51" x2="497.1" y2="1025.51" stroke="#8a8a8a" stroke-width="0.8"/>
<text x="477.46" y="1028.81" textLength="14.04" lengthAdjust="spacingAndGlyphs" class="tk">300</text>
<line x1="495.3" y1="1005.9" x2="497.1" y2="1005.9" stroke="#8a8a8a" stroke-width="0.8"/>
<text x="477.46" y="1009.2" textLength="14.04" lengthAdjust="spacingAndGlyphs" class="tk">350</text>
<line x1="525.25" y1="1143.2" x2="525.25" y2="1141.4" stroke="#8a8a8a" stroke-width="0.8"/>
<text x="520.57" y="1154.8" textLength="9.36" lengthAdjust="spacingAndGlyphs" class="tk">10</text>
<line x1="555.2" y1="1143.2" x2="555.2" y2="1141.4" stroke="#8a8a8a" stroke-width="0.8"/>
<text x="550.52" y="1154.8" textLength="9.36" lengthAdjust="spacingAndGlyphs" class="tk">20</text>
<line x1="585.15" y1="1143.2" x2="585.15" y2="1141.4" stroke="#8a8a8a" stroke-width="0.8"/>
<text x="580.47" y="1154.8" textLength="9.36" lengthAdjust="spacingAndGlyphs" class="tk">30</text>
<line x1="615.1" y1="1143.2" x2="615.1" y2="1141.4" stroke="#8a8a8a" stroke-width="0.8"/>
<text x="610.42" y="1154.8" textLength="9.36" lengthAdjust="spacingAndGlyphs" class="tk">40</text>
<line x1="645.05" y1="1143.2" x2="645.05" y2="1141.4" stroke="#8a8a8a" stroke-width="0.8"/>
<text x="640.37" y="1154.8" textLength="9.36" lengthAdjust="spacingAndGlyphs" class="tk">50</text>
<text x="585.15" y="1002.1" text-anchor="middle" class="lb">ModeNum=15</text>
<text x="585.15" y="1165.3" text-anchor="middle" class="lb">Number of Tasks</text>
<text transform="translate(473.9,1074.55) rotate(-90)" text-anchor="middle" class="lb">Runtime (minute)</text>
<rect x="499.6" y="1010.3" width="104.4" height="33" fill="#fff" stroke="#a8a8a8" stroke-width="0.8"/>
<rect x="501.4" y="1012.7" width="15.8" height="7.2" fill="#1f6fb6" stroke="#333" stroke-width="0.35"/>
<text x="519.1" y="1019.3" class="lb">MCCGA</text>
<rect x="501.4" y="1023.4" width="15.8" height="7.2" fill="#D95319" stroke="#333" stroke-width="0.35"/>
<text x="519.1" y="1030" class="lb">MCCGA (GAP=10)</text>
<rect x="501.4" y="1034.1" width="15.8" height="7.2" fill="#EDB120" stroke="#333" stroke-width="0.35"/>
<text x="519.1" y="1040.7" class="lb">MCCGA (GAP=Max)</text>
<text x="348.7" y="960.9" text-anchor="middle" class="cap">(a)</text>
<text x="348.6" y="1192.6" text-anchor="middle" class="cap">(b)</text>
</svg>
</body></html>
